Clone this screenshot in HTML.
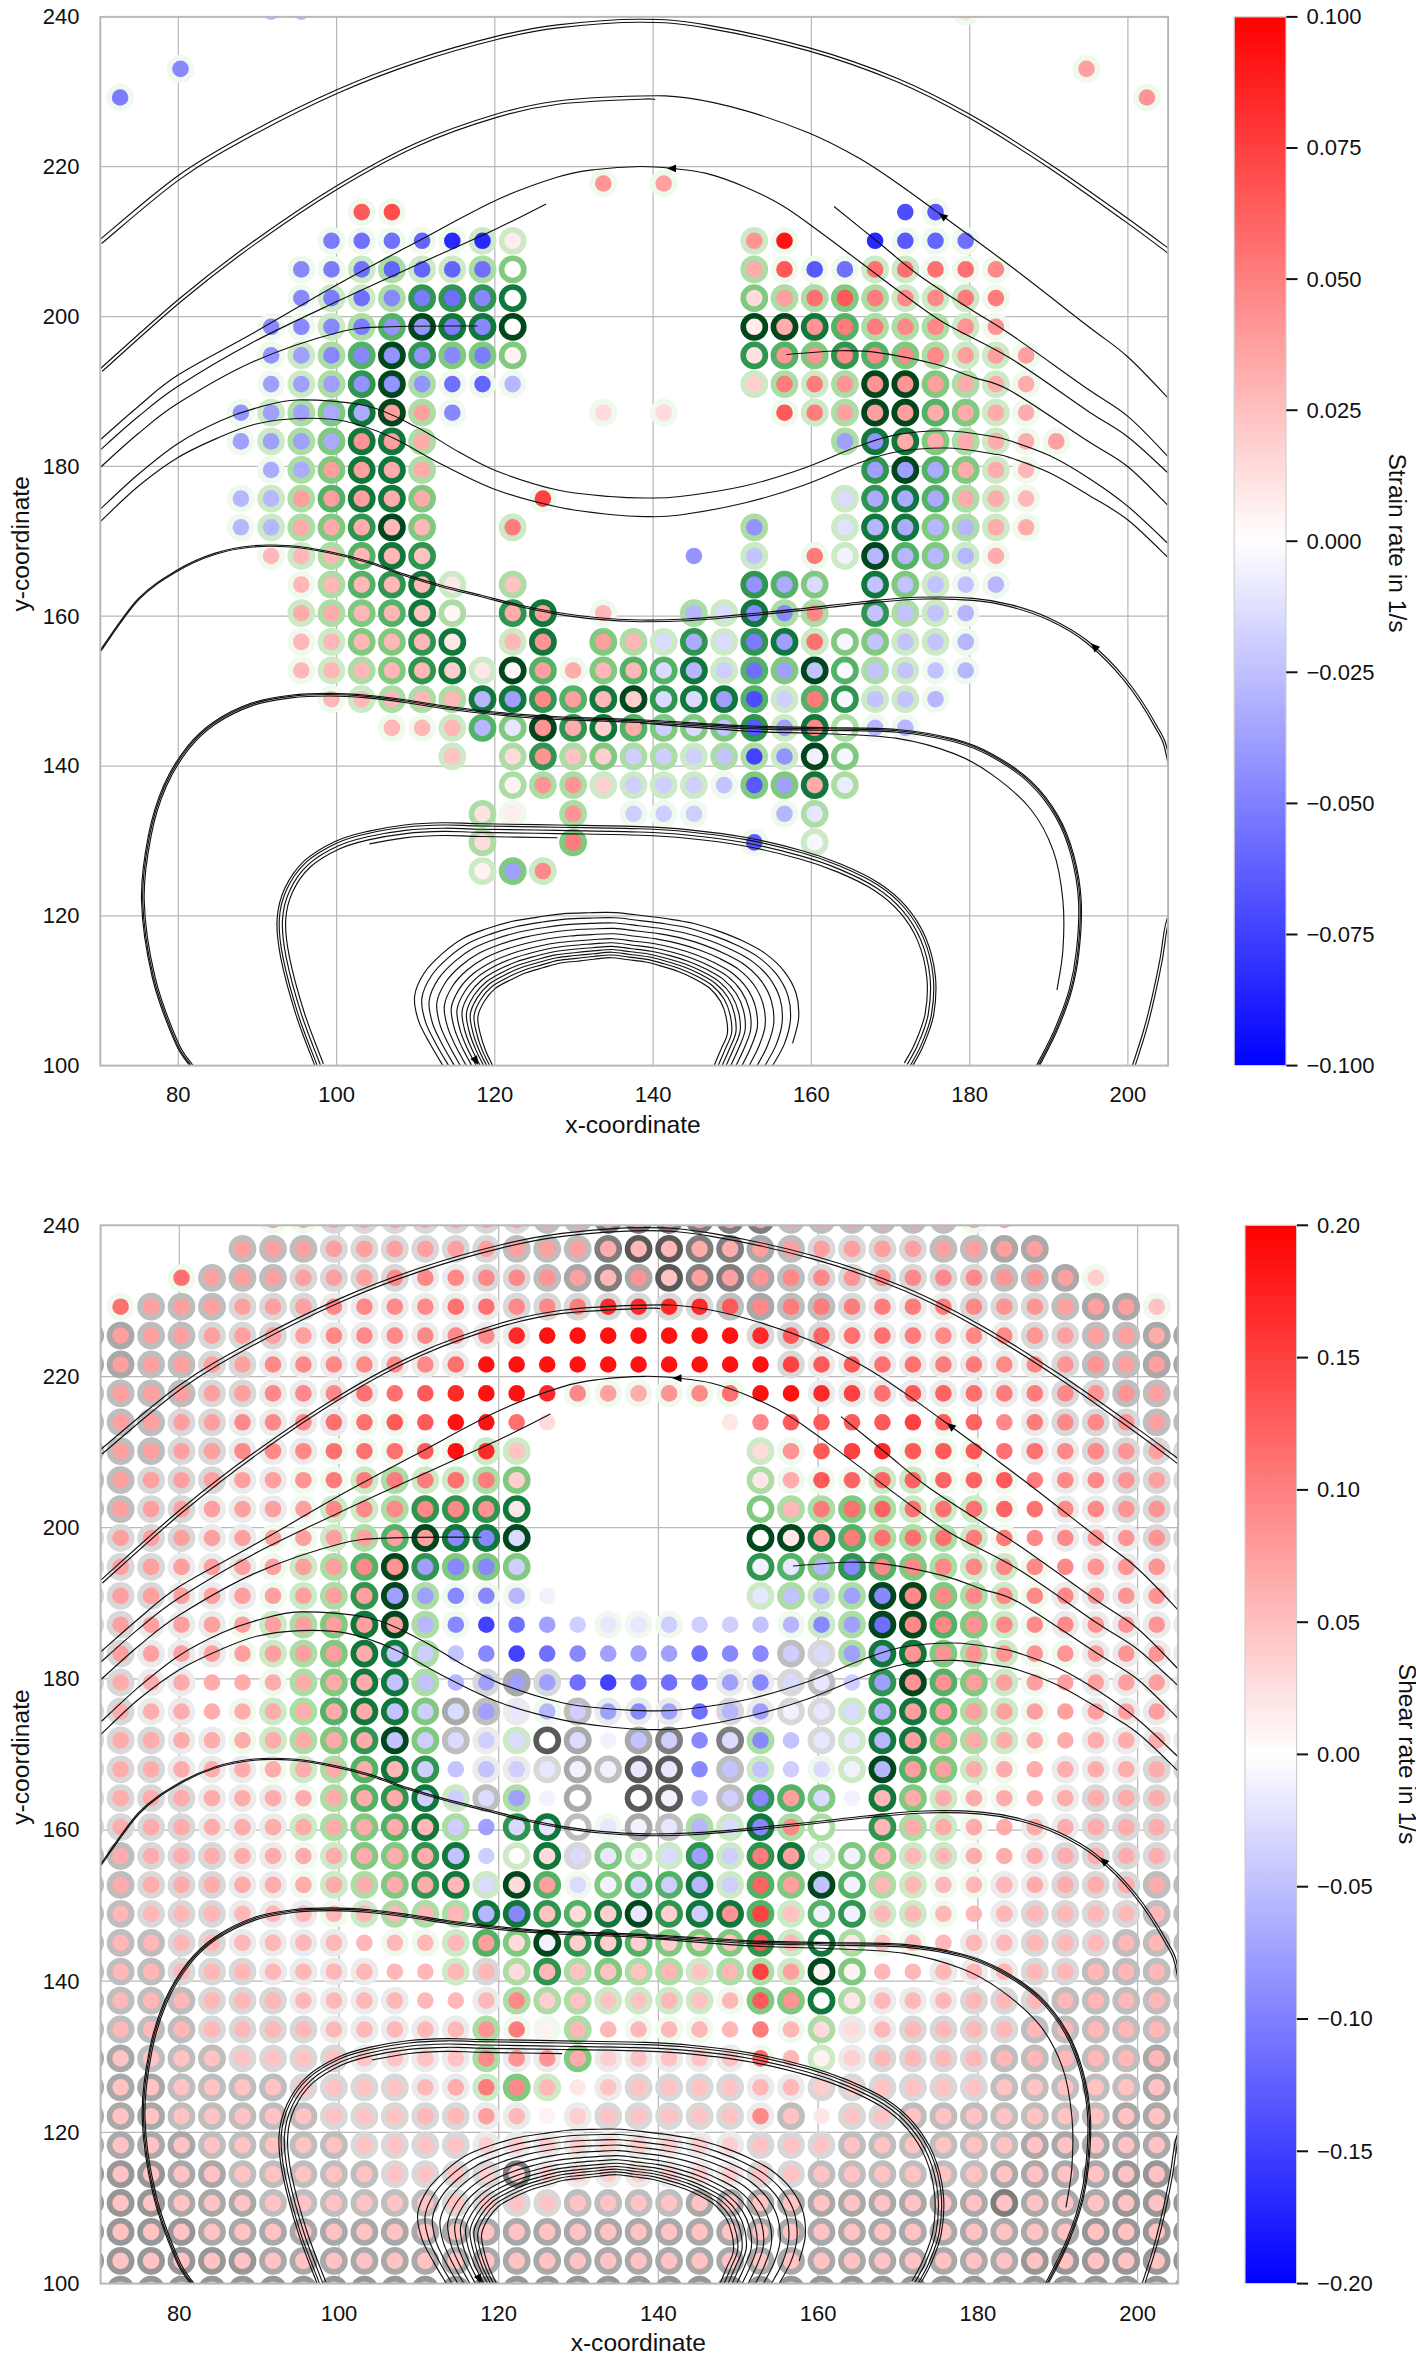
<!DOCTYPE html>
<html><head><meta charset="utf-8"><title>chart</title>
<style>html,body{margin:0;padding:0;background:#fff}body{width:1416px;height:2362px;overflow:hidden}</style></head>
<body>
<svg width="1416" height="2362" viewBox="0 0 1416 2362" style="display:block;font-family:'Liberation Sans',sans-serif">
<defs>
<clipPath id="ct"><rect x="100.3" y="16.9" width="1067.8" height="1048.7"/></clipPath>
<clipPath id="cb"><rect x="100.6" y="1225.3" width="1077.5" height="1058.3"/></clipPath>
<linearGradient id="bwr" x1="0" y1="0" x2="0" y2="1"><stop offset="0" stop-color="#ff0000"/><stop offset="0.5" stop-color="#ffffff"/><stop offset="1" stop-color="#0000ff"/></linearGradient>
</defs>
<rect width="1416" height="2362" fill="#fff"/>
<g stroke="#b9b9b9" stroke-width="1.25">
<line x1="178.3" y1="16.9" x2="178.3" y2="1065.6"/>
<line x1="336.6" y1="16.9" x2="336.6" y2="1065.6"/>
<line x1="494.8" y1="16.9" x2="494.8" y2="1065.6"/>
<line x1="653.1" y1="16.9" x2="653.1" y2="1065.6"/>
<line x1="811.4" y1="16.9" x2="811.4" y2="1065.6"/>
<line x1="969.7" y1="16.9" x2="969.7" y2="1065.6"/>
<line x1="1127.9" y1="16.9" x2="1127.9" y2="1065.6"/>
<line x1="100.3" y1="166.7" x2="1168.1" y2="166.7"/>
<line x1="100.3" y1="316.5" x2="1168.1" y2="316.5"/>
<line x1="100.3" y1="466.3" x2="1168.1" y2="466.3"/>
<line x1="100.3" y1="616.2" x2="1168.1" y2="616.2"/>
<line x1="100.3" y1="766.0" x2="1168.1" y2="766.0"/>
<line x1="100.3" y1="915.8" x2="1168.1" y2="915.8"/>
</g>
<g clip-path="url(#ct)">
<g fill="none" stroke-width="6.2">
<circle cx="965.7" cy="11.6" r="10.8" stroke="#f0f9ee"/>
<circle cx="180.5" cy="68.9" r="10.8" stroke="#f0f9ee"/>
<circle cx="1086.5" cy="68.9" r="10.8" stroke="#f0f9ee"/>
<circle cx="120.1" cy="97.5" r="10.8" stroke="#f0f9ee"/>
<circle cx="1146.9" cy="97.5" r="10.8" stroke="#f0f9ee"/>
<circle cx="603.3" cy="183.5" r="10.8" stroke="#f0f9ee"/>
<circle cx="663.7" cy="183.5" r="10.8" stroke="#f0f9ee"/>
<circle cx="361.7" cy="212.1" r="10.8" stroke="#f0f9ee"/>
<circle cx="391.9" cy="212.1" r="10.8" stroke="#f0f9ee"/>
<circle cx="935.5" cy="212.1" r="10.8" stroke="#f0f9ee"/>
<circle cx="331.5" cy="240.8" r="10.8" stroke="#f0f9ee"/>
<circle cx="361.7" cy="240.8" r="10.8" stroke="#f0f9ee"/>
<circle cx="391.9" cy="240.8" r="10.8" stroke="#f0f9ee"/>
<circle cx="422.1" cy="240.8" r="10.8" stroke="#f0f9ee"/>
<circle cx="452.3" cy="240.8" r="10.8" stroke="#f0f9ee"/>
<circle cx="482.5" cy="240.8" r="10.8" stroke="#cbeac5"/>
<circle cx="512.7" cy="240.8" r="10.8" stroke="#cbeac5"/>
<circle cx="754.3" cy="240.8" r="10.8" stroke="#cbeac5"/>
<circle cx="784.5" cy="240.8" r="10.8" stroke="#f0f9ee"/>
<circle cx="905.3" cy="240.8" r="10.8" stroke="#f0f9ee"/>
<circle cx="935.5" cy="240.8" r="10.8" stroke="#f0f9ee"/>
<circle cx="965.7" cy="240.8" r="10.8" stroke="#f0f9ee"/>
<circle cx="301.3" cy="269.4" r="10.8" stroke="#f0f9ee"/>
<circle cx="331.5" cy="269.4" r="10.8" stroke="#f0f9ee"/>
<circle cx="361.7" cy="269.4" r="10.8" stroke="#cbeac5"/>
<circle cx="391.9" cy="269.4" r="10.8" stroke="#abdda5"/>
<circle cx="422.1" cy="269.4" r="10.8" stroke="#cbeac5"/>
<circle cx="452.3" cy="269.4" r="10.8" stroke="#cbeac5"/>
<circle cx="482.5" cy="269.4" r="10.8" stroke="#abdda5"/>
<circle cx="512.7" cy="269.4" r="10.8" stroke="#80ca80"/>
<circle cx="754.3" cy="269.4" r="10.8" stroke="#abdda5"/>
<circle cx="784.5" cy="269.4" r="10.8" stroke="#f0f9ee"/>
<circle cx="814.7" cy="269.4" r="10.8" stroke="#f0f9ee"/>
<circle cx="844.9" cy="269.4" r="10.8" stroke="#f0f9ee"/>
<circle cx="875.1" cy="269.4" r="10.8" stroke="#cbeac5"/>
<circle cx="905.3" cy="269.4" r="10.8" stroke="#cbeac5"/>
<circle cx="935.5" cy="269.4" r="10.8" stroke="#f0f9ee"/>
<circle cx="965.7" cy="269.4" r="10.8" stroke="#f0f9ee"/>
<circle cx="995.9" cy="269.4" r="10.8" stroke="#f0f9ee"/>
<circle cx="301.3" cy="298.1" r="10.8" stroke="#f0f9ee"/>
<circle cx="331.5" cy="298.1" r="10.8" stroke="#cbeac5"/>
<circle cx="361.7" cy="298.1" r="10.8" stroke="#cbeac5"/>
<circle cx="391.9" cy="298.1" r="10.8" stroke="#abdda5"/>
<circle cx="422.1" cy="298.1" r="10.8" stroke="#2e964e"/>
<circle cx="452.3" cy="298.1" r="10.8" stroke="#2e964e"/>
<circle cx="482.5" cy="298.1" r="10.8" stroke="#2e964e"/>
<circle cx="512.7" cy="298.1" r="10.8" stroke="#10783a"/>
<circle cx="754.3" cy="298.1" r="10.8" stroke="#80ca80"/>
<circle cx="784.5" cy="298.1" r="10.8" stroke="#abdda5"/>
<circle cx="814.7" cy="298.1" r="10.8" stroke="#abdda5"/>
<circle cx="844.9" cy="298.1" r="10.8" stroke="#80ca80"/>
<circle cx="875.1" cy="298.1" r="10.8" stroke="#abdda5"/>
<circle cx="905.3" cy="298.1" r="10.8" stroke="#cbeac5"/>
<circle cx="935.5" cy="298.1" r="10.8" stroke="#cbeac5"/>
<circle cx="965.7" cy="298.1" r="10.8" stroke="#cbeac5"/>
<circle cx="995.9" cy="298.1" r="10.8" stroke="#f0f9ee"/>
<circle cx="271.1" cy="326.8" r="10.8" stroke="#f0f9ee"/>
<circle cx="301.3" cy="326.8" r="10.8" stroke="#f0f9ee"/>
<circle cx="331.5" cy="326.8" r="10.8" stroke="#cbeac5"/>
<circle cx="361.7" cy="326.8" r="10.8" stroke="#abdda5"/>
<circle cx="391.9" cy="326.8" r="10.8" stroke="#52b266"/>
<circle cx="422.1" cy="326.8" r="10.8" stroke="#00471c"/>
<circle cx="452.3" cy="326.8" r="10.8" stroke="#10783a"/>
<circle cx="482.5" cy="326.8" r="10.8" stroke="#10783a"/>
<circle cx="512.7" cy="326.8" r="10.8" stroke="#00471c"/>
<circle cx="754.3" cy="326.8" r="10.8" stroke="#00471c"/>
<circle cx="784.5" cy="326.8" r="10.8" stroke="#00471c"/>
<circle cx="814.7" cy="326.8" r="10.8" stroke="#10783a"/>
<circle cx="844.9" cy="326.8" r="10.8" stroke="#52b266"/>
<circle cx="875.1" cy="326.8" r="10.8" stroke="#abdda5"/>
<circle cx="905.3" cy="326.8" r="10.8" stroke="#abdda5"/>
<circle cx="935.5" cy="326.8" r="10.8" stroke="#abdda5"/>
<circle cx="965.7" cy="326.8" r="10.8" stroke="#cbeac5"/>
<circle cx="995.9" cy="326.8" r="10.8" stroke="#f0f9ee"/>
<circle cx="271.1" cy="355.4" r="10.8" stroke="#f0f9ee"/>
<circle cx="301.3" cy="355.4" r="10.8" stroke="#cbeac5"/>
<circle cx="331.5" cy="355.4" r="10.8" stroke="#abdda5"/>
<circle cx="361.7" cy="355.4" r="10.8" stroke="#52b266"/>
<circle cx="391.9" cy="355.4" r="10.8" stroke="#00471c"/>
<circle cx="422.1" cy="355.4" r="10.8" stroke="#2e964e"/>
<circle cx="452.3" cy="355.4" r="10.8" stroke="#80ca80"/>
<circle cx="482.5" cy="355.4" r="10.8" stroke="#80ca80"/>
<circle cx="512.7" cy="355.4" r="10.8" stroke="#80ca80"/>
<circle cx="754.3" cy="355.4" r="10.8" stroke="#2e964e"/>
<circle cx="784.5" cy="355.4" r="10.8" stroke="#52b266"/>
<circle cx="814.7" cy="355.4" r="10.8" stroke="#80ca80"/>
<circle cx="844.9" cy="355.4" r="10.8" stroke="#2e964e"/>
<circle cx="875.1" cy="355.4" r="10.8" stroke="#52b266"/>
<circle cx="905.3" cy="355.4" r="10.8" stroke="#80ca80"/>
<circle cx="935.5" cy="355.4" r="10.8" stroke="#abdda5"/>
<circle cx="965.7" cy="355.4" r="10.8" stroke="#cbeac5"/>
<circle cx="995.9" cy="355.4" r="10.8" stroke="#cbeac5"/>
<circle cx="1026.1" cy="355.4" r="10.8" stroke="#f0f9ee"/>
<circle cx="271.1" cy="384.1" r="10.8" stroke="#f0f9ee"/>
<circle cx="301.3" cy="384.1" r="10.8" stroke="#cbeac5"/>
<circle cx="331.5" cy="384.1" r="10.8" stroke="#abdda5"/>
<circle cx="361.7" cy="384.1" r="10.8" stroke="#2e964e"/>
<circle cx="391.9" cy="384.1" r="10.8" stroke="#00471c"/>
<circle cx="422.1" cy="384.1" r="10.8" stroke="#abdda5"/>
<circle cx="452.3" cy="384.1" r="10.8" stroke="#f0f9ee"/>
<circle cx="482.5" cy="384.1" r="10.8" stroke="#f0f9ee"/>
<circle cx="512.7" cy="384.1" r="10.8" stroke="#f0f9ee"/>
<circle cx="754.3" cy="384.1" r="10.8" stroke="#cbeac5"/>
<circle cx="784.5" cy="384.1" r="10.8" stroke="#abdda5"/>
<circle cx="814.7" cy="384.1" r="10.8" stroke="#cbeac5"/>
<circle cx="844.9" cy="384.1" r="10.8" stroke="#abdda5"/>
<circle cx="875.1" cy="384.1" r="10.8" stroke="#00471c"/>
<circle cx="905.3" cy="384.1" r="10.8" stroke="#00471c"/>
<circle cx="935.5" cy="384.1" r="10.8" stroke="#80ca80"/>
<circle cx="965.7" cy="384.1" r="10.8" stroke="#abdda5"/>
<circle cx="995.9" cy="384.1" r="10.8" stroke="#cbeac5"/>
<circle cx="1026.1" cy="384.1" r="10.8" stroke="#f0f9ee"/>
<circle cx="240.9" cy="412.7" r="10.8" stroke="#f0f9ee"/>
<circle cx="271.1" cy="412.7" r="10.8" stroke="#cbeac5"/>
<circle cx="301.3" cy="412.7" r="10.8" stroke="#abdda5"/>
<circle cx="331.5" cy="412.7" r="10.8" stroke="#80ca80"/>
<circle cx="361.7" cy="412.7" r="10.8" stroke="#10783a"/>
<circle cx="391.9" cy="412.7" r="10.8" stroke="#00471c"/>
<circle cx="422.1" cy="412.7" r="10.8" stroke="#abdda5"/>
<circle cx="452.3" cy="412.7" r="10.8" stroke="#f0f9ee"/>
<circle cx="603.3" cy="412.7" r="10.8" stroke="#f0f9ee"/>
<circle cx="663.7" cy="412.7" r="10.8" stroke="#f0f9ee"/>
<circle cx="784.5" cy="412.7" r="10.8" stroke="#f0f9ee"/>
<circle cx="814.7" cy="412.7" r="10.8" stroke="#cbeac5"/>
<circle cx="844.9" cy="412.7" r="10.8" stroke="#abdda5"/>
<circle cx="875.1" cy="412.7" r="10.8" stroke="#00471c"/>
<circle cx="905.3" cy="412.7" r="10.8" stroke="#00471c"/>
<circle cx="935.5" cy="412.7" r="10.8" stroke="#52b266"/>
<circle cx="965.7" cy="412.7" r="10.8" stroke="#80ca80"/>
<circle cx="995.9" cy="412.7" r="10.8" stroke="#cbeac5"/>
<circle cx="1026.1" cy="412.7" r="10.8" stroke="#f0f9ee"/>
<circle cx="240.9" cy="441.4" r="10.8" stroke="#f0f9ee"/>
<circle cx="271.1" cy="441.4" r="10.8" stroke="#cbeac5"/>
<circle cx="301.3" cy="441.4" r="10.8" stroke="#abdda5"/>
<circle cx="331.5" cy="441.4" r="10.8" stroke="#80ca80"/>
<circle cx="361.7" cy="441.4" r="10.8" stroke="#10783a"/>
<circle cx="391.9" cy="441.4" r="10.8" stroke="#10783a"/>
<circle cx="422.1" cy="441.4" r="10.8" stroke="#abdda5"/>
<circle cx="844.9" cy="441.4" r="10.8" stroke="#abdda5"/>
<circle cx="875.1" cy="441.4" r="10.8" stroke="#10783a"/>
<circle cx="905.3" cy="441.4" r="10.8" stroke="#10783a"/>
<circle cx="935.5" cy="441.4" r="10.8" stroke="#80ca80"/>
<circle cx="965.7" cy="441.4" r="10.8" stroke="#abdda5"/>
<circle cx="995.9" cy="441.4" r="10.8" stroke="#cbeac5"/>
<circle cx="1026.1" cy="441.4" r="10.8" stroke="#f0f9ee"/>
<circle cx="1056.3" cy="441.4" r="10.8" stroke="#f0f9ee"/>
<circle cx="271.1" cy="470.0" r="10.8" stroke="#f0f9ee"/>
<circle cx="301.3" cy="470.0" r="10.8" stroke="#abdda5"/>
<circle cx="331.5" cy="470.0" r="10.8" stroke="#80ca80"/>
<circle cx="361.7" cy="470.0" r="10.8" stroke="#10783a"/>
<circle cx="391.9" cy="470.0" r="10.8" stroke="#10783a"/>
<circle cx="422.1" cy="470.0" r="10.8" stroke="#abdda5"/>
<circle cx="875.1" cy="470.0" r="10.8" stroke="#2e964e"/>
<circle cx="905.3" cy="470.0" r="10.8" stroke="#00471c"/>
<circle cx="935.5" cy="470.0" r="10.8" stroke="#52b266"/>
<circle cx="965.7" cy="470.0" r="10.8" stroke="#80ca80"/>
<circle cx="995.9" cy="470.0" r="10.8" stroke="#cbeac5"/>
<circle cx="1026.1" cy="470.0" r="10.8" stroke="#f0f9ee"/>
<circle cx="240.9" cy="498.6" r="10.8" stroke="#f0f9ee"/>
<circle cx="271.1" cy="498.6" r="10.8" stroke="#cbeac5"/>
<circle cx="301.3" cy="498.6" r="10.8" stroke="#abdda5"/>
<circle cx="331.5" cy="498.6" r="10.8" stroke="#52b266"/>
<circle cx="361.7" cy="498.6" r="10.8" stroke="#10783a"/>
<circle cx="391.9" cy="498.6" r="10.8" stroke="#10783a"/>
<circle cx="422.1" cy="498.6" r="10.8" stroke="#80ca80"/>
<circle cx="542.9" cy="498.6" r="10.8" stroke="#f0f9ee"/>
<circle cx="844.9" cy="498.6" r="10.8" stroke="#cbeac5"/>
<circle cx="875.1" cy="498.6" r="10.8" stroke="#2e964e"/>
<circle cx="905.3" cy="498.6" r="10.8" stroke="#10783a"/>
<circle cx="935.5" cy="498.6" r="10.8" stroke="#52b266"/>
<circle cx="965.7" cy="498.6" r="10.8" stroke="#abdda5"/>
<circle cx="995.9" cy="498.6" r="10.8" stroke="#cbeac5"/>
<circle cx="1026.1" cy="498.6" r="10.8" stroke="#f0f9ee"/>
<circle cx="240.9" cy="527.3" r="10.8" stroke="#f0f9ee"/>
<circle cx="271.1" cy="527.3" r="10.8" stroke="#cbeac5"/>
<circle cx="301.3" cy="527.3" r="10.8" stroke="#abdda5"/>
<circle cx="331.5" cy="527.3" r="10.8" stroke="#80ca80"/>
<circle cx="361.7" cy="527.3" r="10.8" stroke="#2e964e"/>
<circle cx="391.9" cy="527.3" r="10.8" stroke="#00471c"/>
<circle cx="422.1" cy="527.3" r="10.8" stroke="#80ca80"/>
<circle cx="512.7" cy="527.3" r="10.8" stroke="#cbeac5"/>
<circle cx="754.3" cy="527.3" r="10.8" stroke="#abdda5"/>
<circle cx="844.9" cy="527.3" r="10.8" stroke="#cbeac5"/>
<circle cx="875.1" cy="527.3" r="10.8" stroke="#10783a"/>
<circle cx="905.3" cy="527.3" r="10.8" stroke="#10783a"/>
<circle cx="935.5" cy="527.3" r="10.8" stroke="#80ca80"/>
<circle cx="965.7" cy="527.3" r="10.8" stroke="#abdda5"/>
<circle cx="995.9" cy="527.3" r="10.8" stroke="#cbeac5"/>
<circle cx="1026.1" cy="527.3" r="10.8" stroke="#f0f9ee"/>
<circle cx="271.1" cy="556.0" r="10.8" stroke="#f0f9ee"/>
<circle cx="301.3" cy="556.0" r="10.8" stroke="#cbeac5"/>
<circle cx="331.5" cy="556.0" r="10.8" stroke="#abdda5"/>
<circle cx="361.7" cy="556.0" r="10.8" stroke="#52b266"/>
<circle cx="391.9" cy="556.0" r="10.8" stroke="#10783a"/>
<circle cx="422.1" cy="556.0" r="10.8" stroke="#2e964e"/>
<circle cx="754.3" cy="556.0" r="10.8" stroke="#cbeac5"/>
<circle cx="814.7" cy="556.0" r="10.8" stroke="#f0f9ee"/>
<circle cx="844.9" cy="556.0" r="10.8" stroke="#cbeac5"/>
<circle cx="875.1" cy="556.0" r="10.8" stroke="#00471c"/>
<circle cx="905.3" cy="556.0" r="10.8" stroke="#52b266"/>
<circle cx="935.5" cy="556.0" r="10.8" stroke="#80ca80"/>
<circle cx="965.7" cy="556.0" r="10.8" stroke="#cbeac5"/>
<circle cx="995.9" cy="556.0" r="10.8" stroke="#f0f9ee"/>
<circle cx="301.3" cy="584.6" r="10.8" stroke="#f0f9ee"/>
<circle cx="331.5" cy="584.6" r="10.8" stroke="#abdda5"/>
<circle cx="361.7" cy="584.6" r="10.8" stroke="#52b266"/>
<circle cx="391.9" cy="584.6" r="10.8" stroke="#2e964e"/>
<circle cx="422.1" cy="584.6" r="10.8" stroke="#10783a"/>
<circle cx="452.3" cy="584.6" r="10.8" stroke="#cbeac5"/>
<circle cx="512.7" cy="584.6" r="10.8" stroke="#abdda5"/>
<circle cx="754.3" cy="584.6" r="10.8" stroke="#2e964e"/>
<circle cx="784.5" cy="584.6" r="10.8" stroke="#52b266"/>
<circle cx="814.7" cy="584.6" r="10.8" stroke="#80ca80"/>
<circle cx="875.1" cy="584.6" r="10.8" stroke="#10783a"/>
<circle cx="905.3" cy="584.6" r="10.8" stroke="#80ca80"/>
<circle cx="935.5" cy="584.6" r="10.8" stroke="#cbeac5"/>
<circle cx="965.7" cy="584.6" r="10.8" stroke="#f0f9ee"/>
<circle cx="995.9" cy="584.6" r="10.8" stroke="#f0f9ee"/>
<circle cx="301.3" cy="613.2" r="10.8" stroke="#cbeac5"/>
<circle cx="331.5" cy="613.2" r="10.8" stroke="#abdda5"/>
<circle cx="361.7" cy="613.2" r="10.8" stroke="#80ca80"/>
<circle cx="391.9" cy="613.2" r="10.8" stroke="#52b266"/>
<circle cx="422.1" cy="613.2" r="10.8" stroke="#10783a"/>
<circle cx="452.3" cy="613.2" r="10.8" stroke="#abdda5"/>
<circle cx="512.7" cy="613.2" r="10.8" stroke="#2e964e"/>
<circle cx="542.9" cy="613.2" r="10.8" stroke="#10783a"/>
<circle cx="603.3" cy="613.2" r="10.8" stroke="#f0f9ee"/>
<circle cx="693.9" cy="613.2" r="10.8" stroke="#abdda5"/>
<circle cx="724.1" cy="613.2" r="10.8" stroke="#cbeac5"/>
<circle cx="754.3" cy="613.2" r="10.8" stroke="#10783a"/>
<circle cx="784.5" cy="613.2" r="10.8" stroke="#abdda5"/>
<circle cx="814.7" cy="613.2" r="10.8" stroke="#abdda5"/>
<circle cx="875.1" cy="613.2" r="10.8" stroke="#2e964e"/>
<circle cx="905.3" cy="613.2" r="10.8" stroke="#abdda5"/>
<circle cx="935.5" cy="613.2" r="10.8" stroke="#cbeac5"/>
<circle cx="965.7" cy="613.2" r="10.8" stroke="#f0f9ee"/>
<circle cx="301.3" cy="641.9" r="10.8" stroke="#f0f9ee"/>
<circle cx="331.5" cy="641.9" r="10.8" stroke="#cbeac5"/>
<circle cx="361.7" cy="641.9" r="10.8" stroke="#80ca80"/>
<circle cx="391.9" cy="641.9" r="10.8" stroke="#80ca80"/>
<circle cx="422.1" cy="641.9" r="10.8" stroke="#2e964e"/>
<circle cx="452.3" cy="641.9" r="10.8" stroke="#10783a"/>
<circle cx="512.7" cy="641.9" r="10.8" stroke="#cbeac5"/>
<circle cx="542.9" cy="641.9" r="10.8" stroke="#10783a"/>
<circle cx="603.3" cy="641.9" r="10.8" stroke="#80ca80"/>
<circle cx="633.5" cy="641.9" r="10.8" stroke="#abdda5"/>
<circle cx="663.7" cy="641.9" r="10.8" stroke="#cbeac5"/>
<circle cx="693.9" cy="641.9" r="10.8" stroke="#2e964e"/>
<circle cx="724.1" cy="641.9" r="10.8" stroke="#cbeac5"/>
<circle cx="754.3" cy="641.9" r="10.8" stroke="#2e964e"/>
<circle cx="784.5" cy="641.9" r="10.8" stroke="#10783a"/>
<circle cx="814.7" cy="641.9" r="10.8" stroke="#cbeac5"/>
<circle cx="844.9" cy="641.9" r="10.8" stroke="#80ca80"/>
<circle cx="875.1" cy="641.9" r="10.8" stroke="#80ca80"/>
<circle cx="905.3" cy="641.9" r="10.8" stroke="#cbeac5"/>
<circle cx="935.5" cy="641.9" r="10.8" stroke="#cbeac5"/>
<circle cx="965.7" cy="641.9" r="10.8" stroke="#f0f9ee"/>
<circle cx="301.3" cy="670.5" r="10.8" stroke="#f0f9ee"/>
<circle cx="331.5" cy="670.5" r="10.8" stroke="#cbeac5"/>
<circle cx="361.7" cy="670.5" r="10.8" stroke="#abdda5"/>
<circle cx="391.9" cy="670.5" r="10.8" stroke="#80ca80"/>
<circle cx="422.1" cy="670.5" r="10.8" stroke="#2e964e"/>
<circle cx="452.3" cy="670.5" r="10.8" stroke="#10783a"/>
<circle cx="482.5" cy="670.5" r="10.8" stroke="#cbeac5"/>
<circle cx="512.7" cy="670.5" r="10.8" stroke="#00471c"/>
<circle cx="542.9" cy="670.5" r="10.8" stroke="#52b266"/>
<circle cx="573.1" cy="670.5" r="10.8" stroke="#f0f9ee"/>
<circle cx="603.3" cy="670.5" r="10.8" stroke="#80ca80"/>
<circle cx="633.5" cy="670.5" r="10.8" stroke="#52b266"/>
<circle cx="663.7" cy="670.5" r="10.8" stroke="#52b266"/>
<circle cx="693.9" cy="670.5" r="10.8" stroke="#10783a"/>
<circle cx="724.1" cy="670.5" r="10.8" stroke="#cbeac5"/>
<circle cx="754.3" cy="670.5" r="10.8" stroke="#52b266"/>
<circle cx="784.5" cy="670.5" r="10.8" stroke="#80ca80"/>
<circle cx="814.7" cy="670.5" r="10.8" stroke="#00471c"/>
<circle cx="844.9" cy="670.5" r="10.8" stroke="#52b266"/>
<circle cx="875.1" cy="670.5" r="10.8" stroke="#abdda5"/>
<circle cx="905.3" cy="670.5" r="10.8" stroke="#cbeac5"/>
<circle cx="935.5" cy="670.5" r="10.8" stroke="#f0f9ee"/>
<circle cx="965.7" cy="670.5" r="10.8" stroke="#f0f9ee"/>
<circle cx="331.5" cy="699.2" r="10.8" stroke="#f0f9ee"/>
<circle cx="361.7" cy="699.2" r="10.8" stroke="#cbeac5"/>
<circle cx="391.9" cy="699.2" r="10.8" stroke="#abdda5"/>
<circle cx="422.1" cy="699.2" r="10.8" stroke="#abdda5"/>
<circle cx="452.3" cy="699.2" r="10.8" stroke="#abdda5"/>
<circle cx="482.5" cy="699.2" r="10.8" stroke="#10783a"/>
<circle cx="512.7" cy="699.2" r="10.8" stroke="#10783a"/>
<circle cx="542.9" cy="699.2" r="10.8" stroke="#2e964e"/>
<circle cx="573.1" cy="699.2" r="10.8" stroke="#52b266"/>
<circle cx="603.3" cy="699.2" r="10.8" stroke="#10783a"/>
<circle cx="633.5" cy="699.2" r="10.8" stroke="#00471c"/>
<circle cx="663.7" cy="699.2" r="10.8" stroke="#2e964e"/>
<circle cx="693.9" cy="699.2" r="10.8" stroke="#10783a"/>
<circle cx="724.1" cy="699.2" r="10.8" stroke="#10783a"/>
<circle cx="754.3" cy="699.2" r="10.8" stroke="#52b266"/>
<circle cx="784.5" cy="699.2" r="10.8" stroke="#cbeac5"/>
<circle cx="814.7" cy="699.2" r="10.8" stroke="#52b266"/>
<circle cx="844.9" cy="699.2" r="10.8" stroke="#2e964e"/>
<circle cx="875.1" cy="699.2" r="10.8" stroke="#cbeac5"/>
<circle cx="905.3" cy="699.2" r="10.8" stroke="#cbeac5"/>
<circle cx="935.5" cy="699.2" r="10.8" stroke="#f0f9ee"/>
<circle cx="391.9" cy="727.9" r="10.8" stroke="#f0f9ee"/>
<circle cx="422.1" cy="727.9" r="10.8" stroke="#f0f9ee"/>
<circle cx="452.3" cy="727.9" r="10.8" stroke="#cbeac5"/>
<circle cx="482.5" cy="727.9" r="10.8" stroke="#52b266"/>
<circle cx="512.7" cy="727.9" r="10.8" stroke="#80ca80"/>
<circle cx="542.9" cy="727.9" r="10.8" stroke="#00471c"/>
<circle cx="573.1" cy="727.9" r="10.8" stroke="#2e964e"/>
<circle cx="603.3" cy="727.9" r="10.8" stroke="#10783a"/>
<circle cx="633.5" cy="727.9" r="10.8" stroke="#52b266"/>
<circle cx="663.7" cy="727.9" r="10.8" stroke="#80ca80"/>
<circle cx="693.9" cy="727.9" r="10.8" stroke="#80ca80"/>
<circle cx="724.1" cy="727.9" r="10.8" stroke="#80ca80"/>
<circle cx="754.3" cy="727.9" r="10.8" stroke="#2e964e"/>
<circle cx="784.5" cy="727.9" r="10.8" stroke="#cbeac5"/>
<circle cx="814.7" cy="727.9" r="10.8" stroke="#10783a"/>
<circle cx="844.9" cy="727.9" r="10.8" stroke="#abdda5"/>
<circle cx="875.1" cy="727.9" r="10.8" stroke="#f0f9ee"/>
<circle cx="905.3" cy="727.9" r="10.8" stroke="#f0f9ee"/>
<circle cx="452.3" cy="756.5" r="10.8" stroke="#cbeac5"/>
<circle cx="512.7" cy="756.5" r="10.8" stroke="#abdda5"/>
<circle cx="542.9" cy="756.5" r="10.8" stroke="#2e964e"/>
<circle cx="573.1" cy="756.5" r="10.8" stroke="#abdda5"/>
<circle cx="603.3" cy="756.5" r="10.8" stroke="#80ca80"/>
<circle cx="633.5" cy="756.5" r="10.8" stroke="#abdda5"/>
<circle cx="663.7" cy="756.5" r="10.8" stroke="#abdda5"/>
<circle cx="693.9" cy="756.5" r="10.8" stroke="#cbeac5"/>
<circle cx="724.1" cy="756.5" r="10.8" stroke="#abdda5"/>
<circle cx="754.3" cy="756.5" r="10.8" stroke="#abdda5"/>
<circle cx="784.5" cy="756.5" r="10.8" stroke="#cbeac5"/>
<circle cx="814.7" cy="756.5" r="10.8" stroke="#00471c"/>
<circle cx="844.9" cy="756.5" r="10.8" stroke="#80ca80"/>
<circle cx="512.7" cy="785.1" r="10.8" stroke="#abdda5"/>
<circle cx="542.9" cy="785.1" r="10.8" stroke="#abdda5"/>
<circle cx="573.1" cy="785.1" r="10.8" stroke="#abdda5"/>
<circle cx="603.3" cy="785.1" r="10.8" stroke="#cbeac5"/>
<circle cx="633.5" cy="785.1" r="10.8" stroke="#cbeac5"/>
<circle cx="663.7" cy="785.1" r="10.8" stroke="#cbeac5"/>
<circle cx="693.9" cy="785.1" r="10.8" stroke="#cbeac5"/>
<circle cx="724.1" cy="785.1" r="10.8" stroke="#f0f9ee"/>
<circle cx="754.3" cy="785.1" r="10.8" stroke="#80ca80"/>
<circle cx="784.5" cy="785.1" r="10.8" stroke="#80ca80"/>
<circle cx="814.7" cy="785.1" r="10.8" stroke="#10783a"/>
<circle cx="844.9" cy="785.1" r="10.8" stroke="#abdda5"/>
<circle cx="482.5" cy="813.8" r="10.8" stroke="#abdda5"/>
<circle cx="512.7" cy="813.8" r="10.8" stroke="#f0f9ee"/>
<circle cx="573.1" cy="813.8" r="10.8" stroke="#abdda5"/>
<circle cx="633.5" cy="813.8" r="10.8" stroke="#f0f9ee"/>
<circle cx="663.7" cy="813.8" r="10.8" stroke="#f0f9ee"/>
<circle cx="693.9" cy="813.8" r="10.8" stroke="#f0f9ee"/>
<circle cx="784.5" cy="813.8" r="10.8" stroke="#f0f9ee"/>
<circle cx="814.7" cy="813.8" r="10.8" stroke="#abdda5"/>
<circle cx="482.5" cy="842.4" r="10.8" stroke="#abdda5"/>
<circle cx="573.1" cy="842.4" r="10.8" stroke="#80ca80"/>
<circle cx="754.3" cy="842.4" r="10.8" stroke="#f0f9ee"/>
<circle cx="814.7" cy="842.4" r="10.8" stroke="#cbeac5"/>
<circle cx="482.5" cy="871.1" r="10.8" stroke="#cbeac5"/>
<circle cx="512.7" cy="871.1" r="10.8" stroke="#80ca80"/>
<circle cx="542.9" cy="871.1" r="10.8" stroke="#cbeac5"/>
</g><g opacity="0.93">
<circle cx="271.1" cy="11.6" r="8.3" fill="#b2b2ff"/>
<circle cx="301.3" cy="11.6" r="8.3" fill="#b2b2ff"/>
<circle cx="965.7" cy="11.6" r="8.3" fill="#ffd9d9"/>
<circle cx="180.5" cy="68.9" r="8.3" fill="#8080ff"/>
<circle cx="1086.5" cy="68.9" r="8.3" fill="#ff9999"/>
<circle cx="120.1" cy="97.5" r="8.3" fill="#7373ff"/>
<circle cx="1146.9" cy="97.5" r="8.3" fill="#ff8c8c"/>
<circle cx="603.3" cy="183.5" r="8.3" fill="#ff8c8c"/>
<circle cx="663.7" cy="183.5" r="8.3" fill="#ff9999"/>
<circle cx="361.7" cy="212.1" r="8.3" fill="#ff4d4d"/>
<circle cx="391.9" cy="212.1" r="8.3" fill="#ff4040"/>
<circle cx="905.3" cy="212.1" r="8.3" fill="#4040ff"/>
<circle cx="935.5" cy="212.1" r="8.3" fill="#4d4dff"/>
<circle cx="331.5" cy="240.8" r="8.3" fill="#7373ff"/>
<circle cx="361.7" cy="240.8" r="8.3" fill="#6666ff"/>
<circle cx="391.9" cy="240.8" r="8.3" fill="#6666ff"/>
<circle cx="422.1" cy="240.8" r="8.3" fill="#5959ff"/>
<circle cx="452.3" cy="240.8" r="8.3" fill="#1919ff"/>
<circle cx="482.5" cy="240.8" r="8.3" fill="#1919ff"/>
<circle cx="512.7" cy="240.8" r="8.3" fill="#ffebeb"/>
<circle cx="754.3" cy="240.8" r="8.3" fill="#ff8c8c"/>
<circle cx="784.5" cy="240.8" r="8.3" fill="#ff0000"/>
<circle cx="875.1" cy="240.8" r="8.3" fill="#1919ff"/>
<circle cx="905.3" cy="240.8" r="8.3" fill="#4d4dff"/>
<circle cx="935.5" cy="240.8" r="8.3" fill="#5959ff"/>
<circle cx="965.7" cy="240.8" r="8.3" fill="#6666ff"/>
<circle cx="301.3" cy="269.4" r="8.3" fill="#8080ff"/>
<circle cx="331.5" cy="269.4" r="8.3" fill="#7373ff"/>
<circle cx="361.7" cy="269.4" r="8.3" fill="#6666ff"/>
<circle cx="391.9" cy="269.4" r="8.3" fill="#5959ff"/>
<circle cx="422.1" cy="269.4" r="8.3" fill="#5959ff"/>
<circle cx="452.3" cy="269.4" r="8.3" fill="#5959ff"/>
<circle cx="482.5" cy="269.4" r="8.3" fill="#6666ff"/>
<circle cx="512.7" cy="269.4" r="8.3" fill="#ffffff"/>
<circle cx="754.3" cy="269.4" r="8.3" fill="#ffa6a6"/>
<circle cx="784.5" cy="269.4" r="8.3" fill="#ff4d4d"/>
<circle cx="814.7" cy="269.4" r="8.3" fill="#4d4dff"/>
<circle cx="844.9" cy="269.4" r="8.3" fill="#6666ff"/>
<circle cx="875.1" cy="269.4" r="8.3" fill="#ff6666"/>
<circle cx="905.3" cy="269.4" r="8.3" fill="#ff6666"/>
<circle cx="935.5" cy="269.4" r="8.3" fill="#ff6666"/>
<circle cx="965.7" cy="269.4" r="8.3" fill="#ff6666"/>
<circle cx="995.9" cy="269.4" r="8.3" fill="#ff8080"/>
<circle cx="301.3" cy="298.1" r="8.3" fill="#8080ff"/>
<circle cx="331.5" cy="298.1" r="8.3" fill="#7373ff"/>
<circle cx="361.7" cy="298.1" r="8.3" fill="#6666ff"/>
<circle cx="391.9" cy="298.1" r="8.3" fill="#8080ff"/>
<circle cx="422.1" cy="298.1" r="8.3" fill="#7373ff"/>
<circle cx="452.3" cy="298.1" r="8.3" fill="#6666ff"/>
<circle cx="482.5" cy="298.1" r="8.3" fill="#8080ff"/>
<circle cx="512.7" cy="298.1" r="8.3" fill="#ffffff"/>
<circle cx="754.3" cy="298.1" r="8.3" fill="#ffd9d9"/>
<circle cx="784.5" cy="298.1" r="8.3" fill="#ff9999"/>
<circle cx="814.7" cy="298.1" r="8.3" fill="#ff6666"/>
<circle cx="844.9" cy="298.1" r="8.3" fill="#ff4d4d"/>
<circle cx="875.1" cy="298.1" r="8.3" fill="#ff7373"/>
<circle cx="905.3" cy="298.1" r="8.3" fill="#ff8080"/>
<circle cx="935.5" cy="298.1" r="8.3" fill="#ff8080"/>
<circle cx="965.7" cy="298.1" r="8.3" fill="#ff7373"/>
<circle cx="995.9" cy="298.1" r="8.3" fill="#ff7373"/>
<circle cx="271.1" cy="326.8" r="8.3" fill="#8080ff"/>
<circle cx="301.3" cy="326.8" r="8.3" fill="#8080ff"/>
<circle cx="331.5" cy="326.8" r="8.3" fill="#8080ff"/>
<circle cx="361.7" cy="326.8" r="8.3" fill="#7373ff"/>
<circle cx="391.9" cy="326.8" r="8.3" fill="#8c8cff"/>
<circle cx="422.1" cy="326.8" r="8.3" fill="#8c8cff"/>
<circle cx="452.3" cy="326.8" r="8.3" fill="#7373ff"/>
<circle cx="482.5" cy="326.8" r="8.3" fill="#8080ff"/>
<circle cx="512.7" cy="326.8" r="8.3" fill="#ffffff"/>
<circle cx="754.3" cy="326.8" r="8.3" fill="#ffebeb"/>
<circle cx="784.5" cy="326.8" r="8.3" fill="#ffa6a6"/>
<circle cx="814.7" cy="326.8" r="8.3" fill="#ff8c8c"/>
<circle cx="844.9" cy="326.8" r="8.3" fill="#ff7373"/>
<circle cx="875.1" cy="326.8" r="8.3" fill="#ff7373"/>
<circle cx="905.3" cy="326.8" r="8.3" fill="#ff8080"/>
<circle cx="935.5" cy="326.8" r="8.3" fill="#ff8080"/>
<circle cx="965.7" cy="326.8" r="8.3" fill="#ff8c8c"/>
<circle cx="995.9" cy="326.8" r="8.3" fill="#ff8c8c"/>
<circle cx="271.1" cy="355.4" r="8.3" fill="#8c8cff"/>
<circle cx="301.3" cy="355.4" r="8.3" fill="#9999ff"/>
<circle cx="331.5" cy="355.4" r="8.3" fill="#8080ff"/>
<circle cx="361.7" cy="355.4" r="8.3" fill="#8080ff"/>
<circle cx="391.9" cy="355.4" r="8.3" fill="#8c8cff"/>
<circle cx="422.1" cy="355.4" r="8.3" fill="#8c8cff"/>
<circle cx="452.3" cy="355.4" r="8.3" fill="#8080ff"/>
<circle cx="482.5" cy="355.4" r="8.3" fill="#7373ff"/>
<circle cx="512.7" cy="355.4" r="8.3" fill="#fff2f2"/>
<circle cx="754.3" cy="355.4" r="8.3" fill="#ffe0e0"/>
<circle cx="784.5" cy="355.4" r="8.3" fill="#ff8c8c"/>
<circle cx="814.7" cy="355.4" r="8.3" fill="#ff8c8c"/>
<circle cx="844.9" cy="355.4" r="8.3" fill="#ff8080"/>
<circle cx="875.1" cy="355.4" r="8.3" fill="#ff8080"/>
<circle cx="905.3" cy="355.4" r="8.3" fill="#ff8080"/>
<circle cx="935.5" cy="355.4" r="8.3" fill="#ff8080"/>
<circle cx="965.7" cy="355.4" r="8.3" fill="#ff9999"/>
<circle cx="995.9" cy="355.4" r="8.3" fill="#ff9999"/>
<circle cx="1026.1" cy="355.4" r="8.3" fill="#ff9999"/>
<circle cx="271.1" cy="384.1" r="8.3" fill="#9999ff"/>
<circle cx="301.3" cy="384.1" r="8.3" fill="#9999ff"/>
<circle cx="331.5" cy="384.1" r="8.3" fill="#9999ff"/>
<circle cx="361.7" cy="384.1" r="8.3" fill="#8c8cff"/>
<circle cx="391.9" cy="384.1" r="8.3" fill="#8c8cff"/>
<circle cx="422.1" cy="384.1" r="8.3" fill="#8c8cff"/>
<circle cx="452.3" cy="384.1" r="8.3" fill="#6666ff"/>
<circle cx="482.5" cy="384.1" r="8.3" fill="#5959ff"/>
<circle cx="512.7" cy="384.1" r="8.3" fill="#b2b2ff"/>
<circle cx="754.3" cy="384.1" r="8.3" fill="#ffcccc"/>
<circle cx="784.5" cy="384.1" r="8.3" fill="#ff7373"/>
<circle cx="814.7" cy="384.1" r="8.3" fill="#ff7373"/>
<circle cx="844.9" cy="384.1" r="8.3" fill="#ff8c8c"/>
<circle cx="875.1" cy="384.1" r="8.3" fill="#ff8c8c"/>
<circle cx="905.3" cy="384.1" r="8.3" fill="#ff8c8c"/>
<circle cx="935.5" cy="384.1" r="8.3" fill="#ff9999"/>
<circle cx="965.7" cy="384.1" r="8.3" fill="#ffa6a6"/>
<circle cx="995.9" cy="384.1" r="8.3" fill="#ffa6a6"/>
<circle cx="1026.1" cy="384.1" r="8.3" fill="#ffa6a6"/>
<circle cx="240.9" cy="412.7" r="8.3" fill="#8c8cff"/>
<circle cx="271.1" cy="412.7" r="8.3" fill="#9999ff"/>
<circle cx="301.3" cy="412.7" r="8.3" fill="#9999ff"/>
<circle cx="331.5" cy="412.7" r="8.3" fill="#a6a6ff"/>
<circle cx="361.7" cy="412.7" r="8.3" fill="#a6a6ff"/>
<circle cx="391.9" cy="412.7" r="8.3" fill="#ff9999"/>
<circle cx="422.1" cy="412.7" r="8.3" fill="#ff9999"/>
<circle cx="452.3" cy="412.7" r="8.3" fill="#8080ff"/>
<circle cx="603.3" cy="412.7" r="8.3" fill="#ffd9d9"/>
<circle cx="663.7" cy="412.7" r="8.3" fill="#ffd9d9"/>
<circle cx="784.5" cy="412.7" r="8.3" fill="#ff4d4d"/>
<circle cx="814.7" cy="412.7" r="8.3" fill="#ff7373"/>
<circle cx="844.9" cy="412.7" r="8.3" fill="#ff9999"/>
<circle cx="875.1" cy="412.7" r="8.3" fill="#ff9999"/>
<circle cx="905.3" cy="412.7" r="8.3" fill="#ff9999"/>
<circle cx="935.5" cy="412.7" r="8.3" fill="#ffa6a6"/>
<circle cx="965.7" cy="412.7" r="8.3" fill="#ffa6a6"/>
<circle cx="995.9" cy="412.7" r="8.3" fill="#ffa6a6"/>
<circle cx="1026.1" cy="412.7" r="8.3" fill="#ffa6a6"/>
<circle cx="240.9" cy="441.4" r="8.3" fill="#9999ff"/>
<circle cx="271.1" cy="441.4" r="8.3" fill="#9999ff"/>
<circle cx="301.3" cy="441.4" r="8.3" fill="#9999ff"/>
<circle cx="331.5" cy="441.4" r="8.3" fill="#a6a6ff"/>
<circle cx="361.7" cy="441.4" r="8.3" fill="#ff8c8c"/>
<circle cx="391.9" cy="441.4" r="8.3" fill="#ff9999"/>
<circle cx="422.1" cy="441.4" r="8.3" fill="#ffa6a6"/>
<circle cx="844.9" cy="441.4" r="8.3" fill="#9999ff"/>
<circle cx="875.1" cy="441.4" r="8.3" fill="#8c8cff"/>
<circle cx="905.3" cy="441.4" r="8.3" fill="#ffa6a6"/>
<circle cx="935.5" cy="441.4" r="8.3" fill="#ffa6a6"/>
<circle cx="965.7" cy="441.4" r="8.3" fill="#ffa6a6"/>
<circle cx="995.9" cy="441.4" r="8.3" fill="#ffa6a6"/>
<circle cx="1026.1" cy="441.4" r="8.3" fill="#ffa6a6"/>
<circle cx="1056.3" cy="441.4" r="8.3" fill="#ff9999"/>
<circle cx="271.1" cy="470.0" r="8.3" fill="#a6a6ff"/>
<circle cx="301.3" cy="470.0" r="8.3" fill="#a6a6ff"/>
<circle cx="331.5" cy="470.0" r="8.3" fill="#ff9999"/>
<circle cx="361.7" cy="470.0" r="8.3" fill="#ff9999"/>
<circle cx="391.9" cy="470.0" r="8.3" fill="#ffa6a6"/>
<circle cx="422.1" cy="470.0" r="8.3" fill="#ffa6a6"/>
<circle cx="875.1" cy="470.0" r="8.3" fill="#9999ff"/>
<circle cx="905.3" cy="470.0" r="8.3" fill="#9999ff"/>
<circle cx="935.5" cy="470.0" r="8.3" fill="#a6a6ff"/>
<circle cx="965.7" cy="470.0" r="8.3" fill="#ffa6a6"/>
<circle cx="995.9" cy="470.0" r="8.3" fill="#ffa6a6"/>
<circle cx="1026.1" cy="470.0" r="8.3" fill="#ffb2b2"/>
<circle cx="240.9" cy="498.6" r="8.3" fill="#b2b2ff"/>
<circle cx="271.1" cy="498.6" r="8.3" fill="#b2b2ff"/>
<circle cx="301.3" cy="498.6" r="8.3" fill="#ff9999"/>
<circle cx="331.5" cy="498.6" r="8.3" fill="#ff9999"/>
<circle cx="361.7" cy="498.6" r="8.3" fill="#ff9999"/>
<circle cx="391.9" cy="498.6" r="8.3" fill="#ffa6a6"/>
<circle cx="422.1" cy="498.6" r="8.3" fill="#ffa6a6"/>
<circle cx="542.9" cy="498.6" r="8.3" fill="#ff3333"/>
<circle cx="844.9" cy="498.6" r="8.3" fill="#d9d9ff"/>
<circle cx="875.1" cy="498.6" r="8.3" fill="#a6a6ff"/>
<circle cx="905.3" cy="498.6" r="8.3" fill="#a6a6ff"/>
<circle cx="935.5" cy="498.6" r="8.3" fill="#a6a6ff"/>
<circle cx="965.7" cy="498.6" r="8.3" fill="#ffa6a6"/>
<circle cx="995.9" cy="498.6" r="8.3" fill="#ffa6a6"/>
<circle cx="1026.1" cy="498.6" r="8.3" fill="#ffb2b2"/>
<circle cx="240.9" cy="527.3" r="8.3" fill="#b2b2ff"/>
<circle cx="271.1" cy="527.3" r="8.3" fill="#b2b2ff"/>
<circle cx="301.3" cy="527.3" r="8.3" fill="#ffa6a6"/>
<circle cx="331.5" cy="527.3" r="8.3" fill="#ffa6a6"/>
<circle cx="361.7" cy="527.3" r="8.3" fill="#ffa6a6"/>
<circle cx="391.9" cy="527.3" r="8.3" fill="#ffb2b2"/>
<circle cx="422.1" cy="527.3" r="8.3" fill="#ffb2b2"/>
<circle cx="512.7" cy="527.3" r="8.3" fill="#ff7373"/>
<circle cx="754.3" cy="527.3" r="8.3" fill="#8c8cff"/>
<circle cx="844.9" cy="527.3" r="8.3" fill="#e0e0ff"/>
<circle cx="875.1" cy="527.3" r="8.3" fill="#b2b2ff"/>
<circle cx="905.3" cy="527.3" r="8.3" fill="#a6a6ff"/>
<circle cx="935.5" cy="527.3" r="8.3" fill="#b2b2ff"/>
<circle cx="965.7" cy="527.3" r="8.3" fill="#b2b2ff"/>
<circle cx="995.9" cy="527.3" r="8.3" fill="#ffa6a6"/>
<circle cx="1026.1" cy="527.3" r="8.3" fill="#ffa6a6"/>
<circle cx="271.1" cy="556.0" r="8.3" fill="#ffb2b2"/>
<circle cx="301.3" cy="556.0" r="8.3" fill="#ffb2b2"/>
<circle cx="331.5" cy="556.0" r="8.3" fill="#ffb2b2"/>
<circle cx="361.7" cy="556.0" r="8.3" fill="#ffb2b2"/>
<circle cx="391.9" cy="556.0" r="8.3" fill="#ffb2b2"/>
<circle cx="422.1" cy="556.0" r="8.3" fill="#ffbfbf"/>
<circle cx="693.9" cy="556.0" r="8.3" fill="#8c8cff"/>
<circle cx="754.3" cy="556.0" r="8.3" fill="#bfbfff"/>
<circle cx="814.7" cy="556.0" r="8.3" fill="#ff7373"/>
<circle cx="844.9" cy="556.0" r="8.3" fill="#f2f2ff"/>
<circle cx="875.1" cy="556.0" r="8.3" fill="#b2b2ff"/>
<circle cx="905.3" cy="556.0" r="8.3" fill="#b2b2ff"/>
<circle cx="935.5" cy="556.0" r="8.3" fill="#b2b2ff"/>
<circle cx="965.7" cy="556.0" r="8.3" fill="#b2b2ff"/>
<circle cx="995.9" cy="556.0" r="8.3" fill="#ffa6a6"/>
<circle cx="301.3" cy="584.6" r="8.3" fill="#ffb2b2"/>
<circle cx="331.5" cy="584.6" r="8.3" fill="#ffb2b2"/>
<circle cx="361.7" cy="584.6" r="8.3" fill="#ffb2b2"/>
<circle cx="391.9" cy="584.6" r="8.3" fill="#ffb2b2"/>
<circle cx="422.1" cy="584.6" r="8.3" fill="#ffb2b2"/>
<circle cx="452.3" cy="584.6" r="8.3" fill="#ffe6e6"/>
<circle cx="512.7" cy="584.6" r="8.3" fill="#ffbfbf"/>
<circle cx="754.3" cy="584.6" r="8.3" fill="#8c8cff"/>
<circle cx="784.5" cy="584.6" r="8.3" fill="#a6a6ff"/>
<circle cx="814.7" cy="584.6" r="8.3" fill="#d9d9ff"/>
<circle cx="875.1" cy="584.6" r="8.3" fill="#bfbfff"/>
<circle cx="905.3" cy="584.6" r="8.3" fill="#bfbfff"/>
<circle cx="935.5" cy="584.6" r="8.3" fill="#bfbfff"/>
<circle cx="965.7" cy="584.6" r="8.3" fill="#bfbfff"/>
<circle cx="995.9" cy="584.6" r="8.3" fill="#b2b2ff"/>
<circle cx="301.3" cy="613.2" r="8.3" fill="#ffa6a6"/>
<circle cx="331.5" cy="613.2" r="8.3" fill="#ffa6a6"/>
<circle cx="361.7" cy="613.2" r="8.3" fill="#ffb2b2"/>
<circle cx="391.9" cy="613.2" r="8.3" fill="#ffb2b2"/>
<circle cx="422.1" cy="613.2" r="8.3" fill="#ffbfbf"/>
<circle cx="452.3" cy="613.2" r="8.3" fill="#fff7f7"/>
<circle cx="512.7" cy="613.2" r="8.3" fill="#ffa6a6"/>
<circle cx="542.9" cy="613.2" r="8.3" fill="#ff9999"/>
<circle cx="603.3" cy="613.2" r="8.3" fill="#ffb2b2"/>
<circle cx="693.9" cy="613.2" r="8.3" fill="#b2b2ff"/>
<circle cx="724.1" cy="613.2" r="8.3" fill="#d9d9ff"/>
<circle cx="754.3" cy="613.2" r="8.3" fill="#8080ff"/>
<circle cx="784.5" cy="613.2" r="8.3" fill="#8080ff"/>
<circle cx="814.7" cy="613.2" r="8.3" fill="#ff8080"/>
<circle cx="875.1" cy="613.2" r="8.3" fill="#bfbfff"/>
<circle cx="905.3" cy="613.2" r="8.3" fill="#bfbfff"/>
<circle cx="935.5" cy="613.2" r="8.3" fill="#bfbfff"/>
<circle cx="965.7" cy="613.2" r="8.3" fill="#b2b2ff"/>
<circle cx="301.3" cy="641.9" r="8.3" fill="#ffb2b2"/>
<circle cx="331.5" cy="641.9" r="8.3" fill="#ffb2b2"/>
<circle cx="361.7" cy="641.9" r="8.3" fill="#ffb2b2"/>
<circle cx="391.9" cy="641.9" r="8.3" fill="#ffb2b2"/>
<circle cx="422.1" cy="641.9" r="8.3" fill="#ffb2b2"/>
<circle cx="452.3" cy="641.9" r="8.3" fill="#ffe6e6"/>
<circle cx="512.7" cy="641.9" r="8.3" fill="#ffb2b2"/>
<circle cx="542.9" cy="641.9" r="8.3" fill="#ff8c8c"/>
<circle cx="603.3" cy="641.9" r="8.3" fill="#ff9999"/>
<circle cx="633.5" cy="641.9" r="8.3" fill="#ffb2b2"/>
<circle cx="663.7" cy="641.9" r="8.3" fill="#d9d9ff"/>
<circle cx="693.9" cy="641.9" r="8.3" fill="#a6a6ff"/>
<circle cx="724.1" cy="641.9" r="8.3" fill="#d9d9ff"/>
<circle cx="754.3" cy="641.9" r="8.3" fill="#7373ff"/>
<circle cx="784.5" cy="641.9" r="8.3" fill="#9999ff"/>
<circle cx="814.7" cy="641.9" r="8.3" fill="#ff6666"/>
<circle cx="844.9" cy="641.9" r="8.3" fill="#f7f7ff"/>
<circle cx="875.1" cy="641.9" r="8.3" fill="#bfbfff"/>
<circle cx="905.3" cy="641.9" r="8.3" fill="#bfbfff"/>
<circle cx="935.5" cy="641.9" r="8.3" fill="#bfbfff"/>
<circle cx="965.7" cy="641.9" r="8.3" fill="#b2b2ff"/>
<circle cx="301.3" cy="670.5" r="8.3" fill="#ffb2b2"/>
<circle cx="331.5" cy="670.5" r="8.3" fill="#ffb2b2"/>
<circle cx="361.7" cy="670.5" r="8.3" fill="#ffb2b2"/>
<circle cx="391.9" cy="670.5" r="8.3" fill="#ffb2b2"/>
<circle cx="422.1" cy="670.5" r="8.3" fill="#ffb2b2"/>
<circle cx="452.3" cy="670.5" r="8.3" fill="#ffcccc"/>
<circle cx="482.5" cy="670.5" r="8.3" fill="#ffe6e6"/>
<circle cx="512.7" cy="670.5" r="8.3" fill="#fff7f7"/>
<circle cx="542.9" cy="670.5" r="8.3" fill="#ff9999"/>
<circle cx="573.1" cy="670.5" r="8.3" fill="#ffa6a6"/>
<circle cx="603.3" cy="670.5" r="8.3" fill="#ffb2b2"/>
<circle cx="633.5" cy="670.5" r="8.3" fill="#ffb2b2"/>
<circle cx="663.7" cy="670.5" r="8.3" fill="#d9d9ff"/>
<circle cx="693.9" cy="670.5" r="8.3" fill="#b2b2ff"/>
<circle cx="724.1" cy="670.5" r="8.3" fill="#ccccff"/>
<circle cx="754.3" cy="670.5" r="8.3" fill="#6666ff"/>
<circle cx="784.5" cy="670.5" r="8.3" fill="#9999ff"/>
<circle cx="814.7" cy="670.5" r="8.3" fill="#bfbfff"/>
<circle cx="844.9" cy="670.5" r="8.3" fill="#fafaff"/>
<circle cx="875.1" cy="670.5" r="8.3" fill="#bfbfff"/>
<circle cx="905.3" cy="670.5" r="8.3" fill="#bfbfff"/>
<circle cx="935.5" cy="670.5" r="8.3" fill="#bfbfff"/>
<circle cx="965.7" cy="670.5" r="8.3" fill="#b2b2ff"/>
<circle cx="331.5" cy="699.2" r="8.3" fill="#ffb2b2"/>
<circle cx="361.7" cy="699.2" r="8.3" fill="#ffb2b2"/>
<circle cx="391.9" cy="699.2" r="8.3" fill="#ffb2b2"/>
<circle cx="422.1" cy="699.2" r="8.3" fill="#ffb2b2"/>
<circle cx="452.3" cy="699.2" r="8.3" fill="#ffb2b2"/>
<circle cx="482.5" cy="699.2" r="8.3" fill="#b2b2ff"/>
<circle cx="512.7" cy="699.2" r="8.3" fill="#9999ff"/>
<circle cx="542.9" cy="699.2" r="8.3" fill="#ff8080"/>
<circle cx="573.1" cy="699.2" r="8.3" fill="#ff9999"/>
<circle cx="603.3" cy="699.2" r="8.3" fill="#ffb2b2"/>
<circle cx="633.5" cy="699.2" r="8.3" fill="#ffcccc"/>
<circle cx="663.7" cy="699.2" r="8.3" fill="#d9d9ff"/>
<circle cx="693.9" cy="699.2" r="8.3" fill="#d9d9ff"/>
<circle cx="724.1" cy="699.2" r="8.3" fill="#9999ff"/>
<circle cx="754.3" cy="699.2" r="8.3" fill="#4040ff"/>
<circle cx="784.5" cy="699.2" r="8.3" fill="#ccccff"/>
<circle cx="814.7" cy="699.2" r="8.3" fill="#ff7373"/>
<circle cx="844.9" cy="699.2" r="8.3" fill="#f7f7ff"/>
<circle cx="875.1" cy="699.2" r="8.3" fill="#bfbfff"/>
<circle cx="905.3" cy="699.2" r="8.3" fill="#bfbfff"/>
<circle cx="935.5" cy="699.2" r="8.3" fill="#b2b2ff"/>
<circle cx="391.9" cy="727.9" r="8.3" fill="#ffb2b2"/>
<circle cx="422.1" cy="727.9" r="8.3" fill="#ffb2b2"/>
<circle cx="452.3" cy="727.9" r="8.3" fill="#ffb2b2"/>
<circle cx="482.5" cy="727.9" r="8.3" fill="#b2b2ff"/>
<circle cx="512.7" cy="727.9" r="8.3" fill="#e6e6ff"/>
<circle cx="542.9" cy="727.9" r="8.3" fill="#ff8c8c"/>
<circle cx="573.1" cy="727.9" r="8.3" fill="#ffa6a6"/>
<circle cx="603.3" cy="727.9" r="8.3" fill="#ffcccc"/>
<circle cx="633.5" cy="727.9" r="8.3" fill="#ffa6a6"/>
<circle cx="663.7" cy="727.9" r="8.3" fill="#ccccff"/>
<circle cx="693.9" cy="727.9" r="8.3" fill="#d9d9ff"/>
<circle cx="724.1" cy="727.9" r="8.3" fill="#bfbfff"/>
<circle cx="754.3" cy="727.9" r="8.3" fill="#4d4dff"/>
<circle cx="784.5" cy="727.9" r="8.3" fill="#9999ff"/>
<circle cx="814.7" cy="727.9" r="8.3" fill="#ff8080"/>
<circle cx="844.9" cy="727.9" r="8.3" fill="#ffffff"/>
<circle cx="875.1" cy="727.9" r="8.3" fill="#b2b2ff"/>
<circle cx="905.3" cy="727.9" r="8.3" fill="#b2b2ff"/>
<circle cx="452.3" cy="756.5" r="8.3" fill="#ffbfbf"/>
<circle cx="512.7" cy="756.5" r="8.3" fill="#ffd9d9"/>
<circle cx="542.9" cy="756.5" r="8.3" fill="#ff8c8c"/>
<circle cx="573.1" cy="756.5" r="8.3" fill="#ffbfbf"/>
<circle cx="603.3" cy="756.5" r="8.3" fill="#ffcccc"/>
<circle cx="633.5" cy="756.5" r="8.3" fill="#ccccff"/>
<circle cx="663.7" cy="756.5" r="8.3" fill="#ccccff"/>
<circle cx="693.9" cy="756.5" r="8.3" fill="#ccccff"/>
<circle cx="724.1" cy="756.5" r="8.3" fill="#bfbfff"/>
<circle cx="754.3" cy="756.5" r="8.3" fill="#3333ff"/>
<circle cx="784.5" cy="756.5" r="8.3" fill="#8c8cff"/>
<circle cx="814.7" cy="756.5" r="8.3" fill="#f2f2ff"/>
<circle cx="844.9" cy="756.5" r="8.3" fill="#f7f7ff"/>
<circle cx="512.7" cy="785.1" r="8.3" fill="#fff2f2"/>
<circle cx="542.9" cy="785.1" r="8.3" fill="#ff8c8c"/>
<circle cx="573.1" cy="785.1" r="8.3" fill="#ff8c8c"/>
<circle cx="603.3" cy="785.1" r="8.3" fill="#ffcccc"/>
<circle cx="633.5" cy="785.1" r="8.3" fill="#ccccff"/>
<circle cx="663.7" cy="785.1" r="8.3" fill="#ccccff"/>
<circle cx="693.9" cy="785.1" r="8.3" fill="#ccccff"/>
<circle cx="724.1" cy="785.1" r="8.3" fill="#bfbfff"/>
<circle cx="754.3" cy="785.1" r="8.3" fill="#4d4dff"/>
<circle cx="784.5" cy="785.1" r="8.3" fill="#9999ff"/>
<circle cx="814.7" cy="785.1" r="8.3" fill="#ffa6a6"/>
<circle cx="844.9" cy="785.1" r="8.3" fill="#ebebff"/>
<circle cx="482.5" cy="813.8" r="8.3" fill="#ffe0e0"/>
<circle cx="512.7" cy="813.8" r="8.3" fill="#ffebeb"/>
<circle cx="573.1" cy="813.8" r="8.3" fill="#ff8c8c"/>
<circle cx="633.5" cy="813.8" r="8.3" fill="#ccccff"/>
<circle cx="663.7" cy="813.8" r="8.3" fill="#ccccff"/>
<circle cx="693.9" cy="813.8" r="8.3" fill="#ccccff"/>
<circle cx="784.5" cy="813.8" r="8.3" fill="#b2b2ff"/>
<circle cx="814.7" cy="813.8" r="8.3" fill="#e6e6ff"/>
<circle cx="482.5" cy="842.4" r="8.3" fill="#ffd9d9"/>
<circle cx="573.1" cy="842.4" r="8.3" fill="#ff7373"/>
<circle cx="754.3" cy="842.4" r="8.3" fill="#4d4dff"/>
<circle cx="814.7" cy="842.4" r="8.3" fill="#f7f7ff"/>
<circle cx="482.5" cy="871.1" r="8.3" fill="#fff2f2"/>
<circle cx="512.7" cy="871.1" r="8.3" fill="#9999ff"/>
<circle cx="542.9" cy="871.1" r="8.3" fill="#ff8080"/>
</g>
<g fill="none" stroke="#111" stroke-width="1.15" stroke-linejoin="round">
<path d="M99.0 240.3C112.2 229.5 152.6 193.8 178.1 175.7C203.5 157.6 225.2 146.0 251.7 131.6C278.3 117.2 310.0 101.6 337.4 89.5C364.7 77.5 389.5 68.3 416.0 59.5C442.5 50.6 472.6 42.2 496.2 36.4C519.8 30.7 533.5 27.8 557.5 24.9C581.5 22.0 615.2 19.2 640.0 19.2C664.8 19.2 678.0 20.1 706.3 24.9C734.5 29.7 777.5 38.9 809.4 47.9C841.3 56.8 870.8 67.4 897.6 78.5C924.4 89.6 944.7 100.3 970.2 114.6C995.6 128.9 1024.3 147.2 1050.4 164.4C1076.5 181.5 1106.6 203.4 1126.7 217.7C1146.8 232.0 1163.6 244.8 1170.9 250.2"/>
<path d="M101.6 243.5C114.8 232.7 155.0 197.0 180.4 178.9C205.7 160.8 227.1 149.2 253.5 134.8C279.9 120.5 311.5 104.7 338.7 92.7C366.0 80.7 390.7 71.4 417.0 62.6C443.4 53.7 473.5 45.3 497.0 39.5C520.4 33.7 534.0 30.8 557.9 27.9C581.7 25.0 615.4 22.2 640.0 22.2C664.6 22.2 677.7 23.1 705.8 27.9C733.9 32.7 776.8 41.9 808.6 50.9C840.4 59.8 869.7 70.4 896.4 81.5C923.0 92.7 943.2 103.3 968.5 117.6C993.8 131.9 1022.4 150.2 1048.4 167.4C1074.3 184.7 1104.4 206.5 1124.4 220.9C1144.5 235.3 1161.1 248.1 1168.5 253.6"/>
<path d="M100.0 369.0C113.2 357.3 153.6 320.2 179.0 299.0C204.4 277.8 226.0 261.0 252.5 242.0C279.0 223.0 310.7 201.5 338.0 185.0C365.3 168.5 390.1 154.8 416.5 143.0C442.9 131.2 473.1 121.0 496.6 114.0C520.1 107.0 533.8 104.0 557.7 101.0C581.6 98.0 618.5 96.5 640.0 96.0C661.5 95.5 669.6 95.5 687.0 97.9C704.4 100.3 724.1 104.6 744.4 110.4C764.7 116.2 789.9 125.1 809.0 133.0C828.1 140.9 844.1 149.7 858.8 158.0C873.5 166.3 883.0 173.3 897.0 183.0C911.0 192.7 923.6 202.0 942.7 216.0C961.8 230.0 987.2 248.5 1011.4 266.8C1035.6 285.1 1068.3 311.0 1087.7 326.0C1107.1 341.0 1114.4 344.8 1127.9 357.0C1141.5 369.2 1162.2 392.0 1169.0 399.0"/>
<path d="M102.1 371.4C115.3 359.7 155.7 322.6 181.0 301.5C206.4 280.3 227.9 263.6 254.4 244.6C280.8 225.6 312.4 204.2 339.7 187.7C366.9 171.3 391.5 157.7 417.8 145.9C444.1 134.1 474.1 124.0 497.5 117.1C520.9 110.1 534.3 107.2 558.1 104.2C581.9 101.2 624.0 100.0 640.2 99.2C656.3 98.4 652.5 99.4 655.0 99.5"/>
<path d="M100.0 440.0C106.3 434.4 125.0 417.5 138.0 406.7C151.0 395.9 158.9 387.2 178.0 375.0C197.1 362.8 225.8 348.7 252.5 333.5C279.2 318.3 311.1 299.2 338.4 284.0C365.7 268.8 390.1 256.0 416.5 242.0C442.9 228.0 473.1 210.8 496.6 200.0C520.1 189.2 541.2 182.1 557.7 177.0C574.2 171.9 582.1 171.2 595.8 169.5C609.5 167.8 627.3 166.7 640.0 166.5C652.7 166.3 661.0 167.2 672.0 168.4C683.0 169.6 694.2 170.4 706.3 173.4C718.4 176.4 731.7 181.3 744.4 186.7C757.1 192.1 769.9 198.2 782.6 205.8C795.3 213.4 808.0 223.3 820.7 232.5C833.4 241.7 846.1 251.5 858.8 261.0C871.5 270.5 883.0 279.5 897.0 289.7C911.0 299.9 923.9 310.6 942.7 322.0C961.5 333.4 985.8 343.2 1010.0 358.0C1034.2 372.8 1068.0 397.8 1087.7 411.0C1107.4 424.2 1114.4 426.5 1127.9 437.0C1141.5 447.5 1162.2 467.8 1169.0 474.0"/>
<path d="M100.0 450.2C106.3 444.6 125.0 427.4 138.0 416.8C151.0 406.2 158.9 398.7 178.0 386.3C197.1 373.9 225.8 356.7 252.5 342.5C279.2 328.3 310.7 313.9 338.0 301.0C365.3 288.1 390.1 277.1 416.5 265.0C442.9 252.9 475.0 238.9 496.6 228.7C518.2 218.5 537.8 208.1 546.0 204.0"/>
<path d="M834.0 206.5C841.3 212.4 863.6 230.4 877.9 242.0C892.2 253.6 904.0 264.5 919.9 276.0C935.8 287.5 958.3 301.3 973.3 311.0C988.3 320.7 990.9 321.0 1010.0 334.0C1029.1 347.0 1068.0 375.3 1087.7 389.0C1107.4 402.7 1114.4 405.0 1127.9 416.4C1141.5 427.8 1162.2 450.6 1169.0 457.5"/>
<path d="M100.0 467.7C106.3 462.1 125.0 444.5 138.0 433.8C151.0 423.1 158.9 415.3 178.0 403.3C197.1 391.3 225.8 373.8 252.5 362.0C279.2 350.2 315.1 338.4 338.0 332.5C360.9 326.6 366.7 327.8 390.0 326.7C413.3 325.6 463.0 326.1 477.6 326.0"/>
<path d="M786.4 354.5C795.3 353.9 824.5 351.0 839.8 350.7C855.0 350.4 862.0 350.4 877.9 352.6C893.8 354.8 919.1 359.9 935.0 364.0C950.9 368.1 960.8 373.0 973.3 377.4C985.8 381.8 990.9 379.9 1010.0 390.5C1029.1 401.1 1068.0 428.3 1087.7 441.0C1107.4 453.7 1114.4 455.8 1127.9 466.7C1141.5 477.6 1162.2 499.9 1169.0 506.5"/>
<path d="M100.0 509.5C106.3 503.7 125.0 485.5 138.0 474.5C151.0 463.5 164.3 452.3 178.0 443.4C191.7 434.5 207.2 426.8 220.0 421.0C232.8 415.2 242.0 411.9 255.0 408.4C268.0 404.9 279.3 400.4 298.0 400.0C316.7 399.6 347.2 401.5 367.0 406.0C386.8 410.5 401.2 419.4 416.5 427.0C431.8 434.6 445.1 444.5 458.5 451.8C471.9 459.1 480.1 464.6 496.6 471.0C513.1 477.4 538.8 485.8 557.7 490.0C576.6 494.2 595.5 495.2 610.0 496.5C624.5 497.8 633.3 498.0 645.0 498.0C656.7 498.0 663.4 498.5 680.0 496.5C696.6 494.5 724.1 490.6 744.4 486.0C764.7 481.4 782.5 475.7 801.6 469.0C820.7 462.3 842.9 451.7 858.8 446.0C874.7 440.3 882.4 437.1 897.0 434.6C911.6 432.1 930.7 430.5 946.6 430.8C962.5 431.1 981.7 434.8 992.3 436.5C1002.9 438.2 1000.5 437.6 1010.0 440.8C1019.5 444.0 1036.2 449.2 1049.5 455.6C1062.8 462.0 1076.9 470.5 1090.0 479.0C1103.1 487.5 1114.7 495.5 1127.9 506.4C1141.1 517.3 1162.2 538.1 1169.0 544.5"/>
<path d="M100.0 521.9C106.3 516.0 125.0 497.2 138.0 486.5C151.0 475.8 164.3 465.8 178.0 457.5C191.7 449.2 207.2 442.6 220.0 437.0C232.8 431.4 242.0 427.3 255.0 424.2C268.0 421.1 283.2 419.0 298.0 418.5C312.8 418.0 328.7 418.0 344.0 421.0C359.3 424.0 373.5 429.2 390.0 436.5C406.5 443.8 425.2 456.1 443.0 465.0C460.8 473.9 477.5 483.0 496.6 490.0C515.7 497.0 538.8 502.9 557.7 507.0C576.6 511.1 595.5 512.9 610.0 514.5C624.5 516.1 633.3 516.5 645.0 516.6C656.7 516.7 663.4 517.3 680.0 515.0C696.6 512.7 724.1 507.8 744.4 503.0C764.7 498.2 782.5 492.7 801.6 486.0C820.7 479.3 842.9 468.7 858.8 463.0C874.7 457.3 882.4 454.3 897.0 451.8C911.6 449.3 930.7 447.7 946.6 448.0C962.5 448.3 981.7 452.1 992.3 453.7C1002.9 455.3 1000.5 454.4 1010.0 457.6C1019.5 460.8 1036.2 466.4 1049.5 472.8C1062.8 479.2 1076.9 488.1 1090.0 496.0C1103.1 503.9 1114.7 509.6 1127.9 520.0C1141.1 530.4 1162.2 552.1 1169.0 558.5"/>
<path d="M100.0 650.6C106.3 642.0 125.3 612.3 138.0 599.0C150.7 585.7 163.6 578.2 176.3 570.6C189.0 563.0 201.7 557.5 214.4 553.4C227.1 549.3 239.9 547.1 252.6 545.8C265.3 544.5 278.0 544.8 290.7 545.8C303.4 546.8 316.1 549.0 328.8 551.5C341.5 554.0 354.3 557.2 367.0 561.0C379.7 564.8 392.3 570.3 405.0 574.4C417.7 578.5 430.5 582.3 443.2 585.8C455.9 589.3 468.7 592.1 481.4 595.3C494.1 598.5 506.8 602.1 519.5 605.0C532.2 607.9 545.0 610.4 557.7 612.5C570.4 614.6 582.1 616.2 595.8 617.5C609.5 618.8 624.8 619.8 640.0 620.0C655.2 620.2 669.6 619.9 687.0 619.0C704.4 618.1 725.3 616.1 744.4 614.4C763.5 612.7 782.5 610.7 801.6 608.7C820.7 606.7 839.7 604.1 858.8 602.2C877.9 600.3 896.9 597.9 916.0 597.3C935.1 596.7 957.4 597.1 973.3 598.4C989.2 599.7 998.7 601.6 1011.4 604.9C1024.1 608.2 1036.8 612.2 1049.5 618.2C1062.2 624.2 1075.0 630.9 1087.7 641.0C1100.4 651.1 1114.4 665.0 1125.8 679.0C1137.2 693.0 1149.1 712.0 1156.3 725.0C1163.5 738.0 1165.0 737.8 1169.0 757.0C1173.0 776.2 1178.7 817.0 1180.0 840.0C1181.3 863.0 1179.0 880.8 1177.0 895.0C1175.0 909.2 1170.2 914.2 1167.8 925.0C1165.4 935.8 1164.6 947.6 1162.4 959.5C1160.2 971.4 1157.5 984.3 1154.8 996.2C1152.1 1008.1 1149.5 1019.1 1146.2 1030.7C1142.9 1042.3 1136.9 1060.1 1135.0 1066.0"/>
<path d="M100.8 651.2C107.1 642.6 126.1 613.0 138.8 599.7C151.4 586.4 164.2 579.1 176.9 571.5C189.5 564.0 202.1 558.6 214.8 554.5C227.4 550.4 240.1 548.2 252.7 547.0C265.4 545.7 278.0 546.1 290.6 547.0C303.2 548.0 315.9 550.2 328.5 552.8C341.2 555.3 353.9 558.5 366.6 562.3C379.3 566.1 391.9 571.6 404.6 575.7C417.3 579.9 430.1 583.7 442.8 587.2C455.6 590.7 468.3 593.5 481.0 596.7C493.8 600.0 506.4 603.6 519.2 606.5C531.9 609.4 544.7 612.0 557.4 614.1C570.2 616.2 581.9 617.9 595.7 619.1C609.4 620.4 624.7 621.4 640.0 621.7C655.2 621.9 669.7 621.6 687.1 620.7C704.5 619.8 725.4 617.9 744.6 616.2C763.7 614.5 782.7 612.5 801.8 610.5C820.9 608.5 839.9 605.9 859.0 604.1C878.0 602.2 897.0 599.8 916.1 599.2C935.1 598.6 957.3 599.1 973.1 600.4C988.9 601.6 998.3 603.6 1010.9 606.9C1023.5 610.1 1036.0 614.1 1048.6 620.1C1061.2 626.0 1073.8 632.6 1086.4 642.7C1099.0 652.7 1112.8 666.5 1124.1 680.4C1135.5 694.3 1147.3 713.2 1154.4 726.1C1161.5 738.9 1162.9 738.4 1166.8 757.5C1170.7 776.5 1176.4 817.3 1177.7 840.1C1179.0 863.0 1176.7 880.6 1174.7 894.7C1172.6 908.7 1167.9 913.7 1165.5 924.5C1163.0 935.2 1162.2 947.2 1160.0 959.1C1157.8 970.9 1155.1 983.8 1152.4 995.6C1149.7 1007.5 1147.1 1018.4 1143.7 1030.0C1140.4 1041.6 1134.4 1059.3 1132.5 1065.2"/>
<path d="M191.5 1066.0C188.9 1061.9 182.3 1056.5 176.0 1041.6C169.7 1026.7 159.0 1000.2 153.4 976.7C147.8 953.2 143.3 924.0 142.7 900.5C142.1 877.0 145.9 854.7 149.6 835.6C153.3 816.5 158.5 800.6 164.8 786.0C171.2 771.4 179.4 758.5 187.7 748.0C196.0 737.5 203.6 730.3 214.4 723.0C225.2 715.7 239.9 708.4 252.6 704.0C265.3 699.6 278.0 698.0 290.7 696.4C303.4 694.8 316.1 694.5 328.8 694.5C341.5 694.5 354.3 695.3 367.0 696.4C379.7 697.5 392.3 699.2 405.0 701.0C417.7 702.8 430.5 705.2 443.2 707.0C455.9 708.8 468.7 710.3 481.4 711.7C494.1 713.1 506.8 714.5 519.5 715.5C532.2 716.5 537.6 717.1 557.7 718.0C577.8 718.9 608.9 719.5 640.0 721.0C671.1 722.5 714.3 725.7 744.4 727.0C774.5 728.3 795.3 728.2 820.7 728.8C846.1 729.4 874.8 728.8 897.0 730.7C919.2 732.6 938.3 736.2 954.2 740.3C970.1 744.4 979.6 748.5 992.3 755.5C1005.0 762.5 1019.7 772.0 1030.5 782.2C1041.3 792.4 1050.2 804.5 1057.2 816.6C1064.2 828.7 1068.6 840.7 1072.4 854.7C1076.2 868.7 1079.1 884.6 1080.0 900.5C1080.9 916.4 1079.6 935.1 1078.0 950.0C1076.4 964.9 1074.3 976.7 1070.6 990.0C1066.9 1003.3 1061.4 1017.3 1056.0 1030.0C1050.6 1042.7 1041.0 1060.0 1038.0 1066.0"/>
<path d="M192.8 1065.2C190.2 1061.2 183.7 1055.8 177.4 1041.0C171.1 1026.2 160.4 999.8 154.9 976.4C149.3 952.9 144.8 923.9 144.2 900.5C143.6 877.0 147.4 854.9 151.1 835.9C154.7 816.9 159.9 801.1 166.2 786.6C172.5 772.1 180.7 759.3 188.9 748.9C197.1 738.5 204.5 731.5 215.2 724.2C225.9 717.0 240.5 709.8 253.1 705.4C265.7 701.0 278.3 699.5 290.9 697.9C303.5 696.3 316.1 696.0 328.8 696.0C341.5 696.0 354.2 696.8 366.9 697.9C379.5 699.0 392.1 700.7 404.8 702.5C417.5 704.3 430.3 706.7 443.0 708.5C455.7 710.3 468.5 711.8 481.2 713.2C494.0 714.6 506.6 715.9 519.4 717.0C532.1 718.0 537.5 718.6 557.6 719.5C577.7 720.4 608.8 721.0 639.9 722.5C671.0 724.0 714.2 727.2 744.3 728.5C774.5 729.8 795.2 729.7 820.7 730.3C846.1 730.9 874.7 730.3 896.9 732.2C919.1 734.1 938.0 737.6 953.8 741.8C969.6 745.9 979.0 749.9 991.6 756.8C1004.2 763.7 1018.8 773.2 1029.5 783.3C1040.2 793.4 1049.0 805.4 1055.9 817.4C1062.8 829.3 1067.2 841.2 1071.0 855.1C1074.7 869.0 1077.6 884.8 1078.5 900.6C1079.4 916.4 1078.1 935.0 1076.5 949.8C1075.0 964.7 1072.8 976.3 1069.2 989.6C1065.5 1002.9 1060.0 1016.8 1054.6 1029.4C1049.2 1042.0 1039.7 1059.3 1036.7 1065.3"/>
<path d="M190.5 1066.6C187.9 1062.5 181.3 1057.0 174.9 1042.1C168.5 1027.1 157.8 1000.6 152.2 977.0C146.7 953.4 142.1 924.1 141.5 900.5C140.9 876.9 144.7 854.5 148.4 835.4C152.1 816.2 157.3 800.2 163.7 785.5C170.1 770.8 178.4 757.8 186.8 747.3C195.1 736.7 202.8 729.4 213.7 722.0C224.6 714.6 239.4 707.3 252.2 702.9C265.0 698.4 277.8 696.8 290.6 695.2C303.3 693.6 316.0 693.3 328.8 693.3C341.6 693.3 354.4 694.1 367.1 695.2C379.8 696.3 392.5 698.0 405.2 699.8C417.9 701.6 430.6 704.0 443.4 705.8C456.1 707.6 468.8 709.1 481.5 710.5C494.2 711.9 506.9 713.3 519.6 714.3C532.3 715.4 537.7 715.9 557.8 716.8C577.8 717.7 608.9 718.3 640.1 719.8C671.2 721.3 714.3 724.5 744.5 725.8C774.6 727.1 795.3 727.0 820.7 727.6C846.2 728.2 874.8 727.6 897.1 729.5C919.4 731.4 938.5 735.0 954.5 739.1C970.5 743.3 980.1 747.4 992.9 754.4C1005.7 761.5 1020.4 771.1 1031.3 781.3C1042.2 791.6 1051.2 803.8 1058.2 816.0C1065.3 828.2 1069.7 840.3 1073.6 854.4C1077.4 868.5 1080.3 884.5 1081.2 900.4C1082.1 916.4 1080.8 935.1 1079.2 950.1C1077.6 965.1 1075.4 976.9 1071.8 990.3C1068.1 1003.7 1062.6 1017.8 1057.1 1030.5C1051.7 1043.2 1042.1 1060.5 1039.1 1066.5"/>
<path d="M640.0 723.0C657.4 724.3 714.3 729.2 744.4 731.0C774.5 732.8 795.3 732.3 820.7 733.5C846.1 734.7 874.8 735.0 897.0 738.4C919.2 741.8 938.2 747.6 954.0 753.6C969.8 759.6 979.2 765.4 992.0 774.6C1004.8 783.8 1020.3 796.3 1030.5 809.0C1040.7 821.7 1047.9 835.6 1053.3 850.9C1058.7 866.1 1061.3 884.0 1062.9 900.5C1064.5 917.0 1063.9 935.1 1062.9 950.0C1061.9 964.9 1058.0 983.3 1057.0 990.0"/>
<path d="M317.4 1066.0C314.2 1057.5 304.0 1033.0 298.3 1014.9C292.6 996.9 286.2 973.6 283.0 957.7C279.8 941.8 278.7 931.0 279.3 919.5C279.9 908.0 282.4 898.5 286.9 889.0C291.3 879.5 297.7 869.9 306.0 862.3C314.3 854.7 326.3 848.0 336.5 843.2C346.7 838.4 355.6 836.4 367.0 833.7C378.4 831.0 392.3 828.7 405.0 827.2C417.7 825.8 430.5 825.2 443.2 825.0C455.9 824.8 462.3 825.6 481.4 826.0C500.5 826.4 531.3 826.7 557.7 827.2C584.1 827.7 618.5 828.0 640.0 828.8C661.5 829.6 669.6 830.0 687.0 831.8C704.4 833.6 725.3 835.9 744.4 839.4C763.5 842.9 785.7 848.4 801.6 852.8C817.5 857.2 827.1 860.6 839.8 866.0C852.5 871.4 867.1 878.0 877.9 885.0C888.7 892.0 897.0 899.1 904.6 908.0C912.2 916.9 918.9 927.1 923.7 938.6C928.5 950.1 931.9 964.0 933.2 976.7C934.5 989.4 933.4 1003.4 931.4 1014.9C929.4 1026.3 924.6 1036.9 921.0 1045.4C917.4 1053.9 911.8 1062.6 910.0 1066.0"/>
<path d="M320.4 1064.9C317.2 1056.4 307.1 1031.9 301.3 1013.9C295.6 996.0 289.3 972.8 286.1 957.1C283.0 941.4 281.9 930.8 282.5 919.7C283.1 908.6 285.5 899.5 289.8 890.4C294.1 881.2 300.2 872.0 308.2 864.7C316.2 857.3 327.9 850.7 337.9 846.1C347.8 841.5 356.5 839.4 367.7 836.8C379.0 834.2 392.8 831.8 405.4 830.4C418.0 828.9 430.6 828.4 443.3 828.2C455.9 828.0 462.3 828.8 481.3 829.2C500.4 829.6 531.2 829.9 557.6 830.4C584.1 830.9 618.4 831.2 639.9 832.0C661.4 832.8 669.4 833.2 686.7 835.0C704.0 836.7 724.8 839.1 743.8 842.5C762.8 846.0 785.0 851.5 800.7 855.9C816.5 860.3 826.0 863.6 838.6 868.9C851.1 874.2 865.6 880.8 876.2 887.7C886.8 894.5 894.7 901.4 902.2 910.1C909.6 918.8 916.1 928.7 920.7 939.8C925.4 951.0 928.8 964.6 930.0 977.0C931.3 989.4 930.2 1003.2 928.2 1014.3C926.3 1025.5 921.6 1035.8 918.0 1044.2C914.5 1052.5 909.0 1061.1 907.2 1064.5"/>
<path d="M323.4 1063.8C320.2 1055.3 310.1 1030.8 304.4 1013.0C298.7 995.1 292.4 972.0 289.3 956.4C286.2 940.9 285.1 930.7 285.7 919.9C286.3 909.1 288.6 900.5 292.7 891.7C296.8 882.9 302.6 874.1 310.3 867.0C318.1 859.9 329.5 853.5 339.2 849.0C348.9 844.5 357.4 842.5 368.5 839.9C379.5 837.4 393.3 835.0 405.7 833.6C418.2 832.1 430.7 831.6 443.3 831.4C455.9 831.2 462.2 832.0 481.3 832.4C500.3 832.8 531.2 833.1 557.6 833.6C584.0 834.1 618.3 834.4 639.8 835.2C661.2 836.0 669.1 836.4 686.4 838.2C703.6 839.9 724.3 842.2 743.2 845.7C762.2 849.2 784.2 854.6 799.9 859.0C815.6 863.3 824.9 866.7 837.3 871.9C849.7 877.1 864.0 883.7 874.4 890.4C884.8 897.1 892.5 903.7 899.7 912.2C907.0 920.6 913.3 930.2 917.8 941.1C922.3 951.9 925.6 965.2 926.8 977.3C928.1 989.5 927.1 1002.9 925.1 1013.8C923.1 1024.7 918.6 1034.7 915.1 1042.9C911.6 1051.1 906.1 1059.6 904.4 1063.0"/>
<path d="M315.3 1066.8C312.1 1058.2 302.0 1033.7 296.2 1015.6C290.5 997.5 284.0 974.2 280.8 958.1C277.7 942.1 276.4 931.1 277.1 919.4C277.8 907.7 280.3 897.9 284.9 888.1C289.5 878.3 296.1 868.5 304.5 860.7C313.0 852.9 325.2 846.1 335.6 841.2C345.9 836.4 355.0 834.3 366.5 831.6C378.0 828.9 392.0 826.5 404.8 825.0C417.5 823.6 430.4 823.0 443.2 822.8C455.9 822.6 462.3 823.4 481.4 823.8C500.5 824.2 531.3 824.5 557.7 825.0C584.2 825.5 618.5 825.8 640.1 826.6C661.7 827.4 669.8 827.8 687.2 829.6C704.7 831.4 725.6 833.7 744.8 837.2C764.0 840.7 786.2 846.2 802.2 850.7C818.2 855.1 827.8 858.6 840.7 864.0C853.5 869.4 868.2 876.1 879.1 883.2C890.0 890.3 898.5 897.5 906.3 906.6C914.0 915.7 920.9 926.1 925.7 937.8C930.6 949.4 934.1 963.6 935.4 976.5C936.7 989.4 935.6 1003.7 933.6 1015.3C931.5 1026.9 926.6 1037.6 923.0 1046.2C919.4 1054.9 913.8 1063.6 911.9 1067.0"/>
<path d="M369.4 843.9C375.5 842.9 393.9 839.0 406.2 837.6C418.5 836.2 430.9 835.7 443.4 835.5C455.9 835.3 462.2 836.1 481.2 836.5C500.2 836.9 544.8 837.5 557.5 837.7"/>
<path d="M443.2 1066.0C441.0 1062.3 434.0 1051.2 429.9 1043.6C425.8 1036.0 420.9 1028.3 418.4 1020.4C415.8 1012.4 413.6 1003.7 414.7 995.7C415.7 987.6 420.1 979.2 424.7 972.2C429.3 965.2 435.9 959.3 442.3 953.6C448.7 947.9 455.7 942.4 463.3 938.2C470.8 934.0 479.2 931.4 487.4 928.5C495.6 925.7 503.8 923.3 512.3 921.3C520.7 919.4 529.4 918.4 537.9 917.1C546.5 915.8 555.1 914.3 563.7 913.6C572.3 912.9 581.0 912.9 589.7 912.7C598.4 912.5 607.0 912.2 615.7 912.6C624.3 913.1 632.9 914.4 641.6 915.5C650.2 916.5 658.8 917.5 667.4 918.8C675.9 920.1 684.6 921.3 693.0 923.3C701.4 925.3 709.7 928.0 717.8 930.9C726.0 933.8 734.1 936.9 741.9 940.6C749.7 944.3 757.7 948.1 764.7 953.1C771.6 958.1 778.6 964.1 783.8 970.8C789.0 977.4 793.5 985.0 796.0 993.0C798.5 1000.9 799.2 1009.9 798.6 1018.3C798.1 1026.7 793.6 1039.2 792.6 1043.3"/>
<path d="M448.9 1066.0C446.8 1062.4 440.2 1051.7 436.3 1044.4C432.4 1037.0 427.9 1029.6 425.5 1021.9C423.1 1014.2 420.9 1005.8 421.9 998.1C422.9 990.3 427.1 982.3 431.6 975.5C436.0 968.8 442.2 963.0 448.4 957.6C454.6 952.2 461.4 947.0 468.7 943.0C475.9 939.0 484.0 936.4 491.9 933.6C499.7 930.9 507.7 928.6 515.8 926.7C523.9 924.8 532.2 923.7 540.4 922.4C548.7 921.1 556.9 919.8 565.2 919.1C573.5 918.4 581.9 918.3 590.2 918.1C598.5 917.8 606.9 917.4 615.2 917.8C623.5 918.2 631.8 919.6 640.0 920.6C648.3 921.6 656.6 922.5 664.9 923.8C673.1 925.0 681.4 926.3 689.5 928.2C697.5 930.2 705.5 932.8 713.3 935.6C721.2 938.3 729.0 941.4 736.4 945.0C743.9 948.6 751.6 952.2 758.3 957.1C765.0 961.9 771.5 967.8 776.5 974.2C781.4 980.7 785.6 988.0 787.9 995.7C790.3 1003.3 791.0 1012.0 790.4 1020.1C789.8 1028.2 787.3 1036.4 784.3 1044.1C781.3 1051.7 774.4 1062.3 772.4 1066.0"/>
<path d="M454.6 1066.0C452.6 1062.5 446.4 1052.2 442.7 1045.2C439.0 1038.1 434.9 1030.9 432.6 1023.5C430.4 1016.0 428.2 1007.9 429.2 1000.5C430.2 993.1 434.2 985.3 438.4 978.9C442.7 972.4 448.6 966.8 454.5 961.6C460.5 956.4 467.1 951.6 474.1 947.8C481.1 944.0 488.8 941.3 496.3 938.7C503.9 936.1 511.5 933.9 519.3 932.0C527.1 930.2 535.0 928.9 542.9 927.7C550.8 926.4 558.7 925.3 566.7 924.6C574.7 923.8 582.7 923.7 590.7 923.4C598.7 923.2 606.7 922.6 614.7 923.0C622.6 923.4 630.6 924.7 638.5 925.7C646.5 926.6 654.5 927.5 662.4 928.7C670.3 930.0 678.2 931.3 685.9 933.2C693.7 935.1 701.4 937.5 708.9 940.2C716.4 942.9 723.8 946.0 731.0 949.4C738.2 952.9 745.5 956.4 751.9 961.1C758.3 965.8 764.5 971.5 769.2 977.7C773.8 984.0 777.7 991.1 779.9 998.4C782.1 1005.8 782.9 1014.2 782.2 1021.9C781.6 1029.7 779.0 1037.5 776.1 1044.9C773.2 1052.2 766.7 1062.5 764.8 1066.0"/>
<path d="M460.6 1066.0C458.7 1062.7 452.8 1052.8 449.4 1046.0C445.9 1039.1 442.2 1032.2 440.1 1025.1C438.0 1017.9 435.9 1010.2 436.8 1003.0C437.7 995.9 441.6 988.5 445.6 982.3C449.6 976.1 455.2 970.7 460.9 965.8C466.6 960.9 473.1 956.4 479.8 952.8C486.5 949.2 493.8 946.6 501.0 944.0C508.2 941.5 515.5 939.4 523.0 937.6C530.4 935.8 537.9 934.4 545.5 933.2C553.0 932.0 560.6 931.0 568.3 930.3C575.9 929.6 583.6 929.3 591.2 929.0C598.8 928.7 606.5 928.1 614.1 928.4C621.7 928.7 629.4 930.1 637.0 931.0C644.6 931.9 652.2 932.7 659.8 933.9C667.3 935.1 674.9 936.5 682.3 938.4C689.7 940.2 697.0 942.5 704.2 945.1C711.4 947.7 718.5 950.7 725.4 954.0C732.2 957.4 739.2 960.7 745.2 965.2C751.3 969.8 757.2 975.4 761.6 981.4C766.0 987.4 769.5 994.2 771.5 1001.3C773.5 1008.3 774.3 1016.4 773.7 1023.8C773.0 1031.2 770.2 1038.6 767.4 1045.7C764.6 1052.7 758.7 1062.6 756.9 1066.0"/>
<path d="M466.5 1066.0C464.8 1062.8 459.2 1053.3 456.0 1046.8C452.8 1040.2 449.4 1033.6 447.5 1026.7C445.5 1019.9 443.5 1012.4 444.4 1005.6C445.2 998.7 449.0 991.7 452.8 985.8C456.6 979.8 461.8 974.6 467.2 970.0C472.7 965.3 479.0 961.2 485.4 957.8C491.8 954.4 498.8 951.8 505.6 949.3C512.5 946.9 519.5 945.0 526.6 943.2C533.7 941.4 540.9 940.0 548.1 938.8C555.3 937.6 562.6 936.7 569.8 936.0C577.1 935.3 584.4 935.0 591.7 934.6C599.0 934.2 606.3 933.5 613.6 933.8C620.9 934.1 628.1 935.4 635.4 936.3C642.7 937.2 650.0 937.9 657.2 939.1C664.4 940.3 671.5 941.7 678.6 943.6C685.7 945.4 692.7 947.5 699.5 950.0C706.4 952.5 713.2 955.4 719.7 958.6C726.2 961.8 732.9 965.0 738.6 969.4C744.3 973.8 749.9 979.2 754.0 985.0C758.1 990.8 761.2 997.3 763.1 1004.1C765.0 1010.9 765.8 1018.6 765.1 1025.7C764.4 1032.7 761.5 1039.7 758.8 1046.5C756.1 1053.2 750.6 1062.7 749.0 1066.0"/>
<path d="M472.0 1066.0C470.3 1062.9 465.1 1053.8 462.1 1047.5C459.2 1041.2 456.1 1034.8 454.3 1028.2C452.5 1021.6 450.5 1014.4 451.3 1007.9C452.2 1001.3 455.8 994.6 459.4 988.9C463.0 983.2 467.9 978.2 473.1 973.8C478.3 969.4 484.5 965.7 490.6 962.4C496.8 959.1 503.3 956.6 509.9 954.2C516.5 951.9 523.2 950.0 530.0 948.3C536.7 946.6 543.6 945.0 550.4 943.8C557.3 942.6 564.3 941.9 571.3 941.2C578.2 940.6 585.2 940.1 592.2 939.7C599.2 939.3 606.1 938.5 613.1 938.7C620.1 939.0 627.0 940.3 633.9 941.2C640.9 942.0 647.9 942.6 654.8 943.8C661.7 945.0 668.5 946.5 675.2 948.3C682.0 950.1 688.7 952.1 695.3 954.5C701.8 956.9 708.3 959.7 714.5 962.8C720.7 966.0 727.1 969.0 732.5 973.2C737.9 977.5 743.2 982.8 747.0 988.4C750.8 993.9 753.7 1000.2 755.4 1006.7C757.1 1013.2 758.0 1020.6 757.3 1027.4C756.5 1034.1 753.5 1040.7 750.9 1047.2C748.3 1053.6 743.2 1062.9 741.7 1066.0"/>
<path d="M476.4 1066.0C474.9 1063.0 469.9 1054.2 467.1 1048.1C464.4 1042.0 461.6 1035.8 459.9 1029.4C458.2 1023.0 456.2 1016.1 457.0 1009.8C457.8 1003.5 461.3 997.0 464.8 991.5C468.2 986.0 472.8 981.2 477.8 976.9C482.9 972.7 489.0 969.3 494.9 966.1C500.8 963.0 507.1 960.5 513.4 958.2C519.7 955.9 526.2 954.2 532.7 952.5C539.2 950.8 545.8 949.1 552.4 948.0C559.0 946.8 565.7 946.2 572.4 945.5C579.1 944.8 585.9 944.4 592.6 943.9C599.3 943.5 606.0 942.6 612.7 942.8C619.4 943.0 626.1 944.4 632.8 945.2C639.5 946.0 646.2 946.5 652.8 947.7C659.4 948.9 666.0 950.4 672.5 952.2C679.0 953.9 685.5 955.8 691.8 958.2C698.0 960.5 704.3 963.2 710.2 966.3C716.2 969.3 722.3 972.2 727.5 976.4C732.7 980.5 737.7 985.7 741.3 991.1C744.9 996.5 747.5 1002.5 749.1 1008.8C750.7 1015.1 751.6 1022.3 750.8 1028.8C750.1 1035.3 746.9 1041.6 744.4 1047.8C741.9 1054.0 737.2 1063.0 735.8 1066.0"/>
<path d="M480.4 1066.0C478.9 1063.1 474.2 1054.5 471.6 1048.6C469.0 1042.7 466.4 1036.7 464.8 1030.5C463.2 1024.3 461.3 1017.6 462.1 1011.5C462.8 1005.3 466.2 999.1 469.6 993.8C472.9 988.5 477.2 983.8 482.1 979.7C486.9 975.7 492.9 972.5 498.7 969.5C504.4 966.5 510.4 964.0 516.5 961.7C522.6 959.5 528.9 957.9 535.2 956.2C541.4 954.5 547.7 952.8 554.1 951.7C560.5 950.5 567.0 950.0 573.5 949.3C579.9 948.7 586.4 948.1 592.9 947.7C599.4 947.2 605.9 946.2 612.3 946.4C618.8 946.6 625.3 947.9 631.7 948.7C638.2 949.5 644.7 950.0 651.1 951.2C657.5 952.3 663.8 953.9 670.0 955.6C676.3 957.3 682.6 959.2 688.6 961.5C694.7 963.7 700.7 966.4 706.5 969.3C712.2 972.3 718.1 975.1 723.1 979.1C728.0 983.2 732.8 988.3 736.2 993.5C739.6 998.8 742.0 1004.6 743.5 1010.7C745.0 1016.8 745.9 1023.8 745.1 1030.0C744.3 1036.3 741.1 1042.3 738.6 1048.3C736.2 1054.3 731.9 1063.1 730.5 1066.0"/>
<path d="M483.9 1066.0C482.5 1063.2 477.9 1054.8 475.5 1049.1C473.0 1043.3 470.7 1037.5 469.2 1031.5C467.7 1025.4 465.7 1018.9 466.5 1012.9C467.2 1007.0 470.5 1001.0 473.7 995.8C477.0 990.7 481.1 986.1 485.8 982.2C490.5 978.3 496.4 975.3 502.0 972.4C507.5 969.5 513.3 967.0 519.2 964.8C525.1 962.7 531.2 961.1 537.3 959.5C543.4 957.8 549.4 956.0 555.6 954.9C561.8 953.8 568.1 953.3 574.4 952.7C580.7 952.0 586.9 951.4 593.2 950.9C599.5 950.4 605.8 949.4 612.0 949.5C618.3 949.7 624.5 951.1 630.8 951.8C637.1 952.6 643.4 953.0 649.6 954.2C655.7 955.3 661.8 957.0 667.9 958.7C673.9 960.3 680.0 962.1 685.9 964.3C691.8 966.5 697.6 969.1 703.2 972.0C708.7 974.9 714.4 977.6 719.2 981.6C723.9 985.5 728.5 990.5 731.8 995.7C735.0 1000.8 737.2 1006.5 738.6 1012.4C740.0 1018.3 741.0 1025.1 740.1 1031.1C739.3 1037.2 736.0 1043.0 733.6 1048.8C731.2 1054.6 727.2 1063.1 725.9 1066.0"/>
<path d="M486.8 1066.0C485.5 1063.2 481.1 1055.1 478.8 1049.5C476.5 1043.9 474.3 1038.2 472.9 1032.3C471.5 1026.4 469.5 1020.0 470.3 1014.2C471.0 1008.4 474.2 1002.6 477.3 997.6C480.4 992.6 484.4 988.0 489.0 984.2C493.6 980.5 499.4 977.7 504.8 974.9C510.2 972.1 515.8 969.6 521.5 967.5C527.3 965.4 533.2 963.9 539.1 962.3C545.0 960.6 550.9 958.8 556.9 957.7C562.9 956.5 569.1 956.2 575.2 955.5C581.3 954.9 587.4 954.3 593.5 953.7C599.6 953.2 605.7 952.1 611.8 952.2C617.9 952.4 623.9 953.7 630.0 954.5C636.1 955.2 642.3 955.7 648.3 956.8C654.3 957.9 660.2 959.6 666.0 961.2C671.9 962.9 677.9 964.6 683.6 966.8C689.3 968.9 695.0 971.5 700.3 974.3C705.7 977.1 711.2 979.8 715.8 983.7C720.5 987.5 724.9 992.5 728.0 997.5C731.1 1002.5 733.1 1008.0 734.4 1013.8C735.7 1019.6 736.7 1026.2 735.9 1032.1C735.0 1038.0 731.6 1043.5 729.3 1049.2C727.0 1054.8 723.1 1063.2 721.9 1066.0"/>
<path d="M489.8 1066.0C488.5 1063.3 484.3 1055.4 482.1 1049.9C479.9 1044.4 477.9 1038.8 476.6 1033.1C475.2 1027.4 473.3 1021.1 474.1 1015.5C474.8 1009.8 477.9 1004.1 480.9 999.3C483.9 994.4 487.7 990.0 492.2 986.3C496.6 982.7 502.3 980.1 507.6 977.4C512.9 974.7 518.3 972.2 523.9 970.2C529.4 968.1 535.2 966.7 541.0 965.1C546.7 963.4 552.4 961.5 558.2 960.4C564.0 959.3 570.0 959.0 576.0 958.4C581.9 957.7 587.8 957.1 593.7 956.5C599.6 955.9 605.6 954.8 611.5 955.0C617.4 955.1 623.3 956.4 629.2 957.1C635.1 957.9 641.1 958.3 647.0 959.4C652.8 960.5 658.5 962.2 664.2 963.8C669.9 965.5 675.7 967.1 681.3 969.2C686.8 971.3 692.3 973.9 697.5 976.6C702.7 979.4 708.1 982.0 712.5 985.8C717.0 989.5 721.2 994.4 724.2 999.3C727.1 1004.2 729.0 1009.6 730.2 1015.2C731.4 1020.8 732.4 1027.3 731.6 1033.0C730.7 1038.7 727.2 1044.1 725.0 1049.6C722.7 1055.1 719.1 1063.3 718.0 1066.0"/>
<path d="M492.8 1066.0C491.6 1063.4 487.5 1055.6 485.5 1050.3C483.4 1044.9 481.6 1039.5 480.3 1033.9C479.0 1028.3 477.2 1022.2 477.9 1016.7C478.6 1011.2 481.6 1005.7 484.5 1001.0C487.4 996.3 491.0 991.9 495.3 988.4C499.7 984.9 505.3 982.5 510.5 979.9C515.6 977.3 520.8 974.8 526.2 972.8C531.6 970.8 537.3 969.4 542.8 967.8C548.4 966.2 553.8 964.3 559.5 963.2C565.2 962.1 571.0 961.9 576.7 961.3C582.5 960.6 588.2 959.9 594.0 959.3C599.7 958.7 605.5 957.6 611.2 957.7C617.0 957.7 622.7 959.1 628.4 959.8C634.2 960.5 640.0 960.9 645.7 962.0C651.3 963.1 656.8 964.8 662.4 966.4C667.9 968.0 673.5 969.6 678.9 971.7C684.3 973.7 689.6 976.2 694.7 978.9C699.7 981.6 704.9 984.1 709.2 987.8C713.5 991.5 717.6 996.3 720.4 1001.1C723.2 1005.9 724.9 1011.2 726.0 1016.6C727.2 1022.1 728.2 1028.4 727.3 1033.9C726.4 1039.5 722.9 1044.6 720.7 1050.0C718.4 1055.3 715.1 1063.3 714.0 1066.0"/>
</g>
<path d="M5 0L-4 -3.9L-4 3.9Z" fill="#000" transform="translate(672.0 168.4) rotate(180)"/>
<path d="M5 0L-4 -3.9L-4 3.9Z" fill="#000" transform="translate(942.7 216.0) rotate(-142)"/>
<path d="M5 0L-4 -3.9L-4 3.9Z" fill="#000" transform="translate(1094.5 646.8) rotate(-135)"/>
<path d="M5 0L-4 -3.9L-4 3.9Z" fill="#000" transform="translate(475.7 1060.6) rotate(60)"/>
</g>
<rect x="100.3" y="16.9" width="1067.8" height="1048.7" fill="none" stroke="#b8b8b8" stroke-width="2"/>
<g stroke="#b9b9b9" stroke-width="1.25">
<line x1="179.3" y1="1225.3" x2="179.3" y2="2283.6"/>
<line x1="339.0" y1="1225.3" x2="339.0" y2="2283.6"/>
<line x1="498.7" y1="1225.3" x2="498.7" y2="2283.6"/>
<line x1="658.4" y1="1225.3" x2="658.4" y2="2283.6"/>
<line x1="818.1" y1="1225.3" x2="818.1" y2="2283.6"/>
<line x1="977.8" y1="1225.3" x2="977.8" y2="2283.6"/>
<line x1="1137.6" y1="1225.3" x2="1137.6" y2="2283.6"/>
<line x1="100.6" y1="1376.5" x2="1178.1" y2="1376.5"/>
<line x1="100.6" y1="1527.7" x2="1178.1" y2="1527.7"/>
<line x1="100.6" y1="1678.9" x2="1178.1" y2="1678.9"/>
<line x1="100.6" y1="1830.0" x2="1178.1" y2="1830.0"/>
<line x1="100.6" y1="1981.2" x2="1178.1" y2="1981.2"/>
<line x1="100.6" y1="2132.4" x2="1178.1" y2="2132.4"/>
</g>
<g clip-path="url(#cb)">
<g fill="none" stroke-width="6.2">
<circle cx="273.0" cy="1220.0" r="10.8" stroke="#f0f9ee"/>
<circle cx="303.4" cy="1220.0" r="10.8" stroke="#f0f9ee"/>
<circle cx="333.9" cy="1220.0" r="10.8" stroke="#d8d8d8"/>
<circle cx="364.4" cy="1220.0" r="10.8" stroke="#d8d8d8"/>
<circle cx="394.8" cy="1220.0" r="10.8" stroke="#d8d8d8"/>
<circle cx="425.3" cy="1220.0" r="10.8" stroke="#d8d8d8"/>
<circle cx="455.8" cy="1220.0" r="10.8" stroke="#d8d8d8"/>
<circle cx="486.3" cy="1220.0" r="10.8" stroke="#d8d8d8"/>
<circle cx="516.7" cy="1220.0" r="10.8" stroke="#d8d8d8"/>
<circle cx="547.2" cy="1220.0" r="10.8" stroke="#bebebe"/>
<circle cx="577.7" cy="1220.0" r="10.8" stroke="#bebebe"/>
<circle cx="608.2" cy="1220.0" r="10.8" stroke="#7e7e7e"/>
<circle cx="638.6" cy="1220.0" r="10.8" stroke="#7e7e7e"/>
<circle cx="669.1" cy="1220.0" r="10.8" stroke="#7e7e7e"/>
<circle cx="699.6" cy="1220.0" r="10.8" stroke="#7e7e7e"/>
<circle cx="730.1" cy="1220.0" r="10.8" stroke="#7e7e7e"/>
<circle cx="760.5" cy="1220.0" r="10.8" stroke="#7e7e7e"/>
<circle cx="791.0" cy="1220.0" r="10.8" stroke="#bebebe"/>
<circle cx="821.5" cy="1220.0" r="10.8" stroke="#bebebe"/>
<circle cx="852.0" cy="1220.0" r="10.8" stroke="#bebebe"/>
<circle cx="882.4" cy="1220.0" r="10.8" stroke="#bebebe"/>
<circle cx="912.9" cy="1220.0" r="10.8" stroke="#bebebe"/>
<circle cx="943.4" cy="1220.0" r="10.8" stroke="#bebebe"/>
<circle cx="973.9" cy="1220.0" r="10.8" stroke="#f0f9ee"/>
<circle cx="242.5" cy="1248.9" r="10.8" stroke="#bebebe"/>
<circle cx="273.0" cy="1248.9" r="10.8" stroke="#bebebe"/>
<circle cx="303.4" cy="1248.9" r="10.8" stroke="#bebebe"/>
<circle cx="333.9" cy="1248.9" r="10.8" stroke="#d8d8d8"/>
<circle cx="364.4" cy="1248.9" r="10.8" stroke="#d8d8d8"/>
<circle cx="394.8" cy="1248.9" r="10.8" stroke="#d8d8d8"/>
<circle cx="425.3" cy="1248.9" r="10.8" stroke="#d8d8d8"/>
<circle cx="455.8" cy="1248.9" r="10.8" stroke="#d8d8d8"/>
<circle cx="486.3" cy="1248.9" r="10.8" stroke="#d8d8d8"/>
<circle cx="516.7" cy="1248.9" r="10.8" stroke="#bebebe"/>
<circle cx="547.2" cy="1248.9" r="10.8" stroke="#bebebe"/>
<circle cx="577.7" cy="1248.9" r="10.8" stroke="#bebebe"/>
<circle cx="608.2" cy="1248.9" r="10.8" stroke="#7e7e7e"/>
<circle cx="638.6" cy="1248.9" r="10.8" stroke="#595959"/>
<circle cx="669.1" cy="1248.9" r="10.8" stroke="#595959"/>
<circle cx="699.6" cy="1248.9" r="10.8" stroke="#7e7e7e"/>
<circle cx="730.1" cy="1248.9" r="10.8" stroke="#7e7e7e"/>
<circle cx="760.5" cy="1248.9" r="10.8" stroke="#a9a9a9"/>
<circle cx="791.0" cy="1248.9" r="10.8" stroke="#bebebe"/>
<circle cx="821.5" cy="1248.9" r="10.8" stroke="#d8d8d8"/>
<circle cx="852.0" cy="1248.9" r="10.8" stroke="#d8d8d8"/>
<circle cx="882.4" cy="1248.9" r="10.8" stroke="#d8d8d8"/>
<circle cx="912.9" cy="1248.9" r="10.8" stroke="#d8d8d8"/>
<circle cx="943.4" cy="1248.9" r="10.8" stroke="#bebebe"/>
<circle cx="973.9" cy="1248.9" r="10.8" stroke="#bebebe"/>
<circle cx="1004.3" cy="1248.9" r="10.8" stroke="#a9a9a9"/>
<circle cx="1034.8" cy="1248.9" r="10.8" stroke="#a9a9a9"/>
<circle cx="181.5" cy="1277.8" r="10.8" stroke="#f0f9ee"/>
<circle cx="212.0" cy="1277.8" r="10.8" stroke="#bebebe"/>
<circle cx="242.5" cy="1277.8" r="10.8" stroke="#bebebe"/>
<circle cx="273.0" cy="1277.8" r="10.8" stroke="#bebebe"/>
<circle cx="303.4" cy="1277.8" r="10.8" stroke="#d8d8d8"/>
<circle cx="333.9" cy="1277.8" r="10.8" stroke="#d8d8d8"/>
<circle cx="364.4" cy="1277.8" r="10.8" stroke="#d8d8d8"/>
<circle cx="394.8" cy="1277.8" r="10.8" stroke="#d8d8d8"/>
<circle cx="425.3" cy="1277.8" r="10.8" stroke="#ebebeb"/>
<circle cx="455.8" cy="1277.8" r="10.8" stroke="#ebebeb"/>
<circle cx="486.3" cy="1277.8" r="10.8" stroke="#d8d8d8"/>
<circle cx="516.7" cy="1277.8" r="10.8" stroke="#d8d8d8"/>
<circle cx="547.2" cy="1277.8" r="10.8" stroke="#bebebe"/>
<circle cx="577.7" cy="1277.8" r="10.8" stroke="#a9a9a9"/>
<circle cx="608.2" cy="1277.8" r="10.8" stroke="#7e7e7e"/>
<circle cx="638.6" cy="1277.8" r="10.8" stroke="#a9a9a9"/>
<circle cx="669.1" cy="1277.8" r="10.8" stroke="#595959"/>
<circle cx="699.6" cy="1277.8" r="10.8" stroke="#7e7e7e"/>
<circle cx="730.1" cy="1277.8" r="10.8" stroke="#7e7e7e"/>
<circle cx="760.5" cy="1277.8" r="10.8" stroke="#a9a9a9"/>
<circle cx="791.0" cy="1277.8" r="10.8" stroke="#bebebe"/>
<circle cx="821.5" cy="1277.8" r="10.8" stroke="#d8d8d8"/>
<circle cx="852.0" cy="1277.8" r="10.8" stroke="#d8d8d8"/>
<circle cx="882.4" cy="1277.8" r="10.8" stroke="#d8d8d8"/>
<circle cx="912.9" cy="1277.8" r="10.8" stroke="#d8d8d8"/>
<circle cx="943.4" cy="1277.8" r="10.8" stroke="#d8d8d8"/>
<circle cx="973.9" cy="1277.8" r="10.8" stroke="#d8d8d8"/>
<circle cx="1004.3" cy="1277.8" r="10.8" stroke="#bebebe"/>
<circle cx="1034.8" cy="1277.8" r="10.8" stroke="#bebebe"/>
<circle cx="1065.3" cy="1277.8" r="10.8" stroke="#a9a9a9"/>
<circle cx="1095.8" cy="1277.8" r="10.8" stroke="#f0f9ee"/>
<circle cx="120.6" cy="1306.7" r="10.8" stroke="#f0f9ee"/>
<circle cx="151.1" cy="1306.7" r="10.8" stroke="#bebebe"/>
<circle cx="181.5" cy="1306.7" r="10.8" stroke="#bebebe"/>
<circle cx="212.0" cy="1306.7" r="10.8" stroke="#bebebe"/>
<circle cx="242.5" cy="1306.7" r="10.8" stroke="#d8d8d8"/>
<circle cx="273.0" cy="1306.7" r="10.8" stroke="#d8d8d8"/>
<circle cx="303.4" cy="1306.7" r="10.8" stroke="#d8d8d8"/>
<circle cx="333.9" cy="1306.7" r="10.8" stroke="#ebebeb"/>
<circle cx="364.4" cy="1306.7" r="10.8" stroke="#ebebeb"/>
<circle cx="394.8" cy="1306.7" r="10.8" stroke="#ebebeb"/>
<circle cx="425.3" cy="1306.7" r="10.8" stroke="#ebebeb"/>
<circle cx="455.8" cy="1306.7" r="10.8" stroke="#ebebeb"/>
<circle cx="486.3" cy="1306.7" r="10.8" stroke="#ebebeb"/>
<circle cx="516.7" cy="1306.7" r="10.8" stroke="#d8d8d8"/>
<circle cx="547.2" cy="1306.7" r="10.8" stroke="#d8d8d8"/>
<circle cx="577.7" cy="1306.7" r="10.8" stroke="#d8d8d8"/>
<circle cx="608.2" cy="1306.7" r="10.8" stroke="#d8d8d8"/>
<circle cx="638.6" cy="1306.7" r="10.8" stroke="#d8d8d8"/>
<circle cx="669.1" cy="1306.7" r="10.8" stroke="#d8d8d8"/>
<circle cx="699.6" cy="1306.7" r="10.8" stroke="#d8d8d8"/>
<circle cx="730.1" cy="1306.7" r="10.8" stroke="#bebebe"/>
<circle cx="760.5" cy="1306.7" r="10.8" stroke="#a9a9a9"/>
<circle cx="791.0" cy="1306.7" r="10.8" stroke="#bebebe"/>
<circle cx="821.5" cy="1306.7" r="10.8" stroke="#bebebe"/>
<circle cx="852.0" cy="1306.7" r="10.8" stroke="#d8d8d8"/>
<circle cx="882.4" cy="1306.7" r="10.8" stroke="#ebebeb"/>
<circle cx="912.9" cy="1306.7" r="10.8" stroke="#ebebeb"/>
<circle cx="943.4" cy="1306.7" r="10.8" stroke="#ebebeb"/>
<circle cx="973.9" cy="1306.7" r="10.8" stroke="#d8d8d8"/>
<circle cx="1004.3" cy="1306.7" r="10.8" stroke="#d8d8d8"/>
<circle cx="1034.8" cy="1306.7" r="10.8" stroke="#d8d8d8"/>
<circle cx="1065.3" cy="1306.7" r="10.8" stroke="#bebebe"/>
<circle cx="1095.8" cy="1306.7" r="10.8" stroke="#a9a9a9"/>
<circle cx="1126.2" cy="1306.7" r="10.8" stroke="#a9a9a9"/>
<circle cx="1156.7" cy="1306.7" r="10.8" stroke="#f0f9ee"/>
<circle cx="90.1" cy="1335.6" r="10.8" stroke="#a9a9a9"/>
<circle cx="120.6" cy="1335.6" r="10.8" stroke="#a9a9a9"/>
<circle cx="151.1" cy="1335.6" r="10.8" stroke="#bebebe"/>
<circle cx="181.5" cy="1335.6" r="10.8" stroke="#bebebe"/>
<circle cx="212.0" cy="1335.6" r="10.8" stroke="#d8d8d8"/>
<circle cx="242.5" cy="1335.6" r="10.8" stroke="#d8d8d8"/>
<circle cx="273.0" cy="1335.6" r="10.8" stroke="#d8d8d8"/>
<circle cx="303.4" cy="1335.6" r="10.8" stroke="#ebebeb"/>
<circle cx="333.9" cy="1335.6" r="10.8" stroke="#ebebeb"/>
<circle cx="364.4" cy="1335.6" r="10.8" stroke="#ebebeb"/>
<circle cx="394.8" cy="1335.6" r="10.8" stroke="#ebebeb"/>
<circle cx="425.3" cy="1335.6" r="10.8" stroke="#ebebeb"/>
<circle cx="455.8" cy="1335.6" r="10.8" stroke="#ebebeb"/>
<circle cx="486.3" cy="1335.6" r="10.8" stroke="#ebebeb"/>
<circle cx="516.7" cy="1335.6" r="10.8" stroke="#ebebeb"/>
<circle cx="760.5" cy="1335.6" r="10.8" stroke="#d8d8d8"/>
<circle cx="791.0" cy="1335.6" r="10.8" stroke="#d8d8d8"/>
<circle cx="821.5" cy="1335.6" r="10.8" stroke="#d8d8d8"/>
<circle cx="852.0" cy="1335.6" r="10.8" stroke="#ebebeb"/>
<circle cx="882.4" cy="1335.6" r="10.8" stroke="#ebebeb"/>
<circle cx="912.9" cy="1335.6" r="10.8" stroke="#ebebeb"/>
<circle cx="943.4" cy="1335.6" r="10.8" stroke="#ebebeb"/>
<circle cx="973.9" cy="1335.6" r="10.8" stroke="#ebebeb"/>
<circle cx="1004.3" cy="1335.6" r="10.8" stroke="#ebebeb"/>
<circle cx="1034.8" cy="1335.6" r="10.8" stroke="#d8d8d8"/>
<circle cx="1065.3" cy="1335.6" r="10.8" stroke="#d8d8d8"/>
<circle cx="1095.8" cy="1335.6" r="10.8" stroke="#bebebe"/>
<circle cx="1126.2" cy="1335.6" r="10.8" stroke="#bebebe"/>
<circle cx="1156.7" cy="1335.6" r="10.8" stroke="#a9a9a9"/>
<circle cx="1187.2" cy="1335.6" r="10.8" stroke="#a9a9a9"/>
<circle cx="90.1" cy="1364.5" r="10.8" stroke="#a9a9a9"/>
<circle cx="120.6" cy="1364.5" r="10.8" stroke="#a9a9a9"/>
<circle cx="151.1" cy="1364.5" r="10.8" stroke="#bebebe"/>
<circle cx="181.5" cy="1364.5" r="10.8" stroke="#bebebe"/>
<circle cx="212.0" cy="1364.5" r="10.8" stroke="#d8d8d8"/>
<circle cx="242.5" cy="1364.5" r="10.8" stroke="#d8d8d8"/>
<circle cx="273.0" cy="1364.5" r="10.8" stroke="#ebebeb"/>
<circle cx="303.4" cy="1364.5" r="10.8" stroke="#ebebeb"/>
<circle cx="333.9" cy="1364.5" r="10.8" stroke="#ebebeb"/>
<circle cx="364.4" cy="1364.5" r="10.8" stroke="#ebebeb"/>
<circle cx="394.8" cy="1364.5" r="10.8" stroke="#ebebeb"/>
<circle cx="425.3" cy="1364.5" r="10.8" stroke="#ebebeb"/>
<circle cx="455.8" cy="1364.5" r="10.8" stroke="#ebebeb"/>
<circle cx="791.0" cy="1364.5" r="10.8" stroke="#d8d8d8"/>
<circle cx="821.5" cy="1364.5" r="10.8" stroke="#ebebeb"/>
<circle cx="852.0" cy="1364.5" r="10.8" stroke="#ebebeb"/>
<circle cx="882.4" cy="1364.5" r="10.8" stroke="#ebebeb"/>
<circle cx="912.9" cy="1364.5" r="10.8" stroke="#ebebeb"/>
<circle cx="943.4" cy="1364.5" r="10.8" stroke="#ebebeb"/>
<circle cx="973.9" cy="1364.5" r="10.8" stroke="#ebebeb"/>
<circle cx="1004.3" cy="1364.5" r="10.8" stroke="#ebebeb"/>
<circle cx="1034.8" cy="1364.5" r="10.8" stroke="#ebebeb"/>
<circle cx="1065.3" cy="1364.5" r="10.8" stroke="#d8d8d8"/>
<circle cx="1095.8" cy="1364.5" r="10.8" stroke="#bebebe"/>
<circle cx="1126.2" cy="1364.5" r="10.8" stroke="#bebebe"/>
<circle cx="1156.7" cy="1364.5" r="10.8" stroke="#a9a9a9"/>
<circle cx="1187.2" cy="1364.5" r="10.8" stroke="#a9a9a9"/>
<circle cx="90.1" cy="1393.4" r="10.8" stroke="#bebebe"/>
<circle cx="120.6" cy="1393.4" r="10.8" stroke="#bebebe"/>
<circle cx="151.1" cy="1393.4" r="10.8" stroke="#bebebe"/>
<circle cx="181.5" cy="1393.4" r="10.8" stroke="#bebebe"/>
<circle cx="212.0" cy="1393.4" r="10.8" stroke="#d8d8d8"/>
<circle cx="242.5" cy="1393.4" r="10.8" stroke="#d8d8d8"/>
<circle cx="273.0" cy="1393.4" r="10.8" stroke="#ebebeb"/>
<circle cx="303.4" cy="1393.4" r="10.8" stroke="#ebebeb"/>
<circle cx="333.9" cy="1393.4" r="10.8" stroke="#ebebeb"/>
<circle cx="364.4" cy="1393.4" r="10.8" stroke="#ebebeb"/>
<circle cx="577.7" cy="1393.4" r="10.8" stroke="#f0f9ee"/>
<circle cx="608.2" cy="1393.4" r="10.8" stroke="#f0f9ee"/>
<circle cx="638.6" cy="1393.4" r="10.8" stroke="#f0f9ee"/>
<circle cx="669.1" cy="1393.4" r="10.8" stroke="#f0f9ee"/>
<circle cx="699.6" cy="1393.4" r="10.8" stroke="#f0f9ee"/>
<circle cx="730.1" cy="1393.4" r="10.8" stroke="#f0f9ee"/>
<circle cx="821.5" cy="1393.4" r="10.8" stroke="#ebebeb"/>
<circle cx="852.0" cy="1393.4" r="10.8" stroke="#ebebeb"/>
<circle cx="882.4" cy="1393.4" r="10.8" stroke="#ebebeb"/>
<circle cx="912.9" cy="1393.4" r="10.8" stroke="#ebebeb"/>
<circle cx="943.4" cy="1393.4" r="10.8" stroke="#ebebeb"/>
<circle cx="973.9" cy="1393.4" r="10.8" stroke="#ebebeb"/>
<circle cx="1004.3" cy="1393.4" r="10.8" stroke="#ebebeb"/>
<circle cx="1034.8" cy="1393.4" r="10.8" stroke="#ebebeb"/>
<circle cx="1065.3" cy="1393.4" r="10.8" stroke="#d8d8d8"/>
<circle cx="1095.8" cy="1393.4" r="10.8" stroke="#d8d8d8"/>
<circle cx="1126.2" cy="1393.4" r="10.8" stroke="#bebebe"/>
<circle cx="1156.7" cy="1393.4" r="10.8" stroke="#bebebe"/>
<circle cx="1187.2" cy="1393.4" r="10.8" stroke="#bebebe"/>
<circle cx="90.1" cy="1422.3" r="10.8" stroke="#bebebe"/>
<circle cx="120.6" cy="1422.3" r="10.8" stroke="#bebebe"/>
<circle cx="151.1" cy="1422.3" r="10.8" stroke="#bebebe"/>
<circle cx="181.5" cy="1422.3" r="10.8" stroke="#d8d8d8"/>
<circle cx="212.0" cy="1422.3" r="10.8" stroke="#d8d8d8"/>
<circle cx="242.5" cy="1422.3" r="10.8" stroke="#ebebeb"/>
<circle cx="273.0" cy="1422.3" r="10.8" stroke="#ebebeb"/>
<circle cx="303.4" cy="1422.3" r="10.8" stroke="#ebebeb"/>
<circle cx="333.9" cy="1422.3" r="10.8" stroke="#ebebeb"/>
<circle cx="364.4" cy="1422.3" r="10.8" stroke="#f0f9ee"/>
<circle cx="394.8" cy="1422.3" r="10.8" stroke="#f0f9ee"/>
<circle cx="943.4" cy="1422.3" r="10.8" stroke="#f0f9ee"/>
<circle cx="1034.8" cy="1422.3" r="10.8" stroke="#ebebeb"/>
<circle cx="1065.3" cy="1422.3" r="10.8" stroke="#d8d8d8"/>
<circle cx="1095.8" cy="1422.3" r="10.8" stroke="#d8d8d8"/>
<circle cx="1126.2" cy="1422.3" r="10.8" stroke="#d8d8d8"/>
<circle cx="1156.7" cy="1422.3" r="10.8" stroke="#bebebe"/>
<circle cx="1187.2" cy="1422.3" r="10.8" stroke="#bebebe"/>
<circle cx="90.1" cy="1451.2" r="10.8" stroke="#bebebe"/>
<circle cx="120.6" cy="1451.2" r="10.8" stroke="#bebebe"/>
<circle cx="151.1" cy="1451.2" r="10.8" stroke="#bebebe"/>
<circle cx="181.5" cy="1451.2" r="10.8" stroke="#d8d8d8"/>
<circle cx="212.0" cy="1451.2" r="10.8" stroke="#d8d8d8"/>
<circle cx="242.5" cy="1451.2" r="10.8" stroke="#ebebeb"/>
<circle cx="273.0" cy="1451.2" r="10.8" stroke="#ebebeb"/>
<circle cx="303.4" cy="1451.2" r="10.8" stroke="#ebebeb"/>
<circle cx="333.9" cy="1451.2" r="10.8" stroke="#f0f9ee"/>
<circle cx="364.4" cy="1451.2" r="10.8" stroke="#f0f9ee"/>
<circle cx="394.8" cy="1451.2" r="10.8" stroke="#f0f9ee"/>
<circle cx="425.3" cy="1451.2" r="10.8" stroke="#f0f9ee"/>
<circle cx="455.8" cy="1451.2" r="10.8" stroke="#f0f9ee"/>
<circle cx="486.3" cy="1451.2" r="10.8" stroke="#cbeac5"/>
<circle cx="516.7" cy="1451.2" r="10.8" stroke="#cbeac5"/>
<circle cx="760.5" cy="1451.2" r="10.8" stroke="#cbeac5"/>
<circle cx="791.0" cy="1451.2" r="10.8" stroke="#f0f9ee"/>
<circle cx="912.9" cy="1451.2" r="10.8" stroke="#f0f9ee"/>
<circle cx="943.4" cy="1451.2" r="10.8" stroke="#f0f9ee"/>
<circle cx="973.9" cy="1451.2" r="10.8" stroke="#f0f9ee"/>
<circle cx="1034.8" cy="1451.2" r="10.8" stroke="#ebebeb"/>
<circle cx="1065.3" cy="1451.2" r="10.8" stroke="#ebebeb"/>
<circle cx="1095.8" cy="1451.2" r="10.8" stroke="#d8d8d8"/>
<circle cx="1126.2" cy="1451.2" r="10.8" stroke="#d8d8d8"/>
<circle cx="1156.7" cy="1451.2" r="10.8" stroke="#d8d8d8"/>
<circle cx="1187.2" cy="1451.2" r="10.8" stroke="#d8d8d8"/>
<circle cx="90.1" cy="1480.2" r="10.8" stroke="#bebebe"/>
<circle cx="120.6" cy="1480.2" r="10.8" stroke="#bebebe"/>
<circle cx="151.1" cy="1480.2" r="10.8" stroke="#d8d8d8"/>
<circle cx="181.5" cy="1480.2" r="10.8" stroke="#d8d8d8"/>
<circle cx="212.0" cy="1480.2" r="10.8" stroke="#d8d8d8"/>
<circle cx="242.5" cy="1480.2" r="10.8" stroke="#ebebeb"/>
<circle cx="273.0" cy="1480.2" r="10.8" stroke="#ebebeb"/>
<circle cx="303.4" cy="1480.2" r="10.8" stroke="#f0f9ee"/>
<circle cx="333.9" cy="1480.2" r="10.8" stroke="#f0f9ee"/>
<circle cx="364.4" cy="1480.2" r="10.8" stroke="#cbeac5"/>
<circle cx="394.8" cy="1480.2" r="10.8" stroke="#abdda5"/>
<circle cx="425.3" cy="1480.2" r="10.8" stroke="#cbeac5"/>
<circle cx="455.8" cy="1480.2" r="10.8" stroke="#cbeac5"/>
<circle cx="486.3" cy="1480.2" r="10.8" stroke="#abdda5"/>
<circle cx="516.7" cy="1480.2" r="10.8" stroke="#80ca80"/>
<circle cx="760.5" cy="1480.2" r="10.8" stroke="#abdda5"/>
<circle cx="791.0" cy="1480.2" r="10.8" stroke="#f0f9ee"/>
<circle cx="821.5" cy="1480.2" r="10.8" stroke="#f0f9ee"/>
<circle cx="852.0" cy="1480.2" r="10.8" stroke="#f0f9ee"/>
<circle cx="882.4" cy="1480.2" r="10.8" stroke="#cbeac5"/>
<circle cx="912.9" cy="1480.2" r="10.8" stroke="#cbeac5"/>
<circle cx="943.4" cy="1480.2" r="10.8" stroke="#f0f9ee"/>
<circle cx="973.9" cy="1480.2" r="10.8" stroke="#f0f9ee"/>
<circle cx="1004.3" cy="1480.2" r="10.8" stroke="#f0f9ee"/>
<circle cx="1065.3" cy="1480.2" r="10.8" stroke="#ebebeb"/>
<circle cx="1095.8" cy="1480.2" r="10.8" stroke="#ebebeb"/>
<circle cx="1126.2" cy="1480.2" r="10.8" stroke="#d8d8d8"/>
<circle cx="1156.7" cy="1480.2" r="10.8" stroke="#d8d8d8"/>
<circle cx="1187.2" cy="1480.2" r="10.8" stroke="#d8d8d8"/>
<circle cx="90.1" cy="1509.1" r="10.8" stroke="#bebebe"/>
<circle cx="120.6" cy="1509.1" r="10.8" stroke="#bebebe"/>
<circle cx="151.1" cy="1509.1" r="10.8" stroke="#d8d8d8"/>
<circle cx="181.5" cy="1509.1" r="10.8" stroke="#d8d8d8"/>
<circle cx="212.0" cy="1509.1" r="10.8" stroke="#ebebeb"/>
<circle cx="242.5" cy="1509.1" r="10.8" stroke="#ebebeb"/>
<circle cx="273.0" cy="1509.1" r="10.8" stroke="#ebebeb"/>
<circle cx="303.4" cy="1509.1" r="10.8" stroke="#f0f9ee"/>
<circle cx="333.9" cy="1509.1" r="10.8" stroke="#cbeac5"/>
<circle cx="364.4" cy="1509.1" r="10.8" stroke="#cbeac5"/>
<circle cx="394.8" cy="1509.1" r="10.8" stroke="#abdda5"/>
<circle cx="425.3" cy="1509.1" r="10.8" stroke="#2e964e"/>
<circle cx="455.8" cy="1509.1" r="10.8" stroke="#2e964e"/>
<circle cx="486.3" cy="1509.1" r="10.8" stroke="#2e964e"/>
<circle cx="516.7" cy="1509.1" r="10.8" stroke="#10783a"/>
<circle cx="760.5" cy="1509.1" r="10.8" stroke="#80ca80"/>
<circle cx="791.0" cy="1509.1" r="10.8" stroke="#abdda5"/>
<circle cx="821.5" cy="1509.1" r="10.8" stroke="#abdda5"/>
<circle cx="852.0" cy="1509.1" r="10.8" stroke="#80ca80"/>
<circle cx="882.4" cy="1509.1" r="10.8" stroke="#abdda5"/>
<circle cx="912.9" cy="1509.1" r="10.8" stroke="#cbeac5"/>
<circle cx="943.4" cy="1509.1" r="10.8" stroke="#cbeac5"/>
<circle cx="973.9" cy="1509.1" r="10.8" stroke="#cbeac5"/>
<circle cx="1004.3" cy="1509.1" r="10.8" stroke="#f0f9ee"/>
<circle cx="1065.3" cy="1509.1" r="10.8" stroke="#ebebeb"/>
<circle cx="1095.8" cy="1509.1" r="10.8" stroke="#ebebeb"/>
<circle cx="1126.2" cy="1509.1" r="10.8" stroke="#d8d8d8"/>
<circle cx="1156.7" cy="1509.1" r="10.8" stroke="#d8d8d8"/>
<circle cx="1187.2" cy="1509.1" r="10.8" stroke="#d8d8d8"/>
<circle cx="90.1" cy="1538.0" r="10.8" stroke="#d8d8d8"/>
<circle cx="120.6" cy="1538.0" r="10.8" stroke="#d8d8d8"/>
<circle cx="151.1" cy="1538.0" r="10.8" stroke="#d8d8d8"/>
<circle cx="181.5" cy="1538.0" r="10.8" stroke="#d8d8d8"/>
<circle cx="212.0" cy="1538.0" r="10.8" stroke="#ebebeb"/>
<circle cx="242.5" cy="1538.0" r="10.8" stroke="#ebebeb"/>
<circle cx="273.0" cy="1538.0" r="10.8" stroke="#f0f9ee"/>
<circle cx="303.4" cy="1538.0" r="10.8" stroke="#f0f9ee"/>
<circle cx="333.9" cy="1538.0" r="10.8" stroke="#cbeac5"/>
<circle cx="364.4" cy="1538.0" r="10.8" stroke="#abdda5"/>
<circle cx="394.8" cy="1538.0" r="10.8" stroke="#52b266"/>
<circle cx="425.3" cy="1538.0" r="10.8" stroke="#00471c"/>
<circle cx="455.8" cy="1538.0" r="10.8" stroke="#10783a"/>
<circle cx="486.3" cy="1538.0" r="10.8" stroke="#10783a"/>
<circle cx="516.7" cy="1538.0" r="10.8" stroke="#00471c"/>
<circle cx="760.5" cy="1538.0" r="10.8" stroke="#00471c"/>
<circle cx="791.0" cy="1538.0" r="10.8" stroke="#00471c"/>
<circle cx="821.5" cy="1538.0" r="10.8" stroke="#10783a"/>
<circle cx="852.0" cy="1538.0" r="10.8" stroke="#52b266"/>
<circle cx="882.4" cy="1538.0" r="10.8" stroke="#abdda5"/>
<circle cx="912.9" cy="1538.0" r="10.8" stroke="#abdda5"/>
<circle cx="943.4" cy="1538.0" r="10.8" stroke="#abdda5"/>
<circle cx="973.9" cy="1538.0" r="10.8" stroke="#cbeac5"/>
<circle cx="1004.3" cy="1538.0" r="10.8" stroke="#f0f9ee"/>
<circle cx="1065.3" cy="1538.0" r="10.8" stroke="#ebebeb"/>
<circle cx="1095.8" cy="1538.0" r="10.8" stroke="#ebebeb"/>
<circle cx="1126.2" cy="1538.0" r="10.8" stroke="#ebebeb"/>
<circle cx="1156.7" cy="1538.0" r="10.8" stroke="#d8d8d8"/>
<circle cx="1187.2" cy="1538.0" r="10.8" stroke="#d8d8d8"/>
<circle cx="90.1" cy="1566.9" r="10.8" stroke="#d8d8d8"/>
<circle cx="120.6" cy="1566.9" r="10.8" stroke="#d8d8d8"/>
<circle cx="151.1" cy="1566.9" r="10.8" stroke="#d8d8d8"/>
<circle cx="181.5" cy="1566.9" r="10.8" stroke="#ebebeb"/>
<circle cx="212.0" cy="1566.9" r="10.8" stroke="#ebebeb"/>
<circle cx="242.5" cy="1566.9" r="10.8" stroke="#ebebeb"/>
<circle cx="273.0" cy="1566.9" r="10.8" stroke="#f0f9ee"/>
<circle cx="303.4" cy="1566.9" r="10.8" stroke="#cbeac5"/>
<circle cx="333.9" cy="1566.9" r="10.8" stroke="#abdda5"/>
<circle cx="364.4" cy="1566.9" r="10.8" stroke="#52b266"/>
<circle cx="394.8" cy="1566.9" r="10.8" stroke="#00471c"/>
<circle cx="425.3" cy="1566.9" r="10.8" stroke="#2e964e"/>
<circle cx="455.8" cy="1566.9" r="10.8" stroke="#80ca80"/>
<circle cx="486.3" cy="1566.9" r="10.8" stroke="#80ca80"/>
<circle cx="516.7" cy="1566.9" r="10.8" stroke="#80ca80"/>
<circle cx="760.5" cy="1566.9" r="10.8" stroke="#2e964e"/>
<circle cx="791.0" cy="1566.9" r="10.8" stroke="#52b266"/>
<circle cx="821.5" cy="1566.9" r="10.8" stroke="#80ca80"/>
<circle cx="852.0" cy="1566.9" r="10.8" stroke="#2e964e"/>
<circle cx="882.4" cy="1566.9" r="10.8" stroke="#52b266"/>
<circle cx="912.9" cy="1566.9" r="10.8" stroke="#80ca80"/>
<circle cx="943.4" cy="1566.9" r="10.8" stroke="#abdda5"/>
<circle cx="973.9" cy="1566.9" r="10.8" stroke="#cbeac5"/>
<circle cx="1004.3" cy="1566.9" r="10.8" stroke="#cbeac5"/>
<circle cx="1034.8" cy="1566.9" r="10.8" stroke="#f0f9ee"/>
<circle cx="1095.8" cy="1566.9" r="10.8" stroke="#ebebeb"/>
<circle cx="1126.2" cy="1566.9" r="10.8" stroke="#ebebeb"/>
<circle cx="1156.7" cy="1566.9" r="10.8" stroke="#ebebeb"/>
<circle cx="1187.2" cy="1566.9" r="10.8" stroke="#ebebeb"/>
<circle cx="90.1" cy="1595.8" r="10.8" stroke="#d8d8d8"/>
<circle cx="120.6" cy="1595.8" r="10.8" stroke="#d8d8d8"/>
<circle cx="151.1" cy="1595.8" r="10.8" stroke="#d8d8d8"/>
<circle cx="181.5" cy="1595.8" r="10.8" stroke="#ebebeb"/>
<circle cx="212.0" cy="1595.8" r="10.8" stroke="#ebebeb"/>
<circle cx="242.5" cy="1595.8" r="10.8" stroke="#ebebeb"/>
<circle cx="273.0" cy="1595.8" r="10.8" stroke="#f0f9ee"/>
<circle cx="303.4" cy="1595.8" r="10.8" stroke="#cbeac5"/>
<circle cx="333.9" cy="1595.8" r="10.8" stroke="#abdda5"/>
<circle cx="364.4" cy="1595.8" r="10.8" stroke="#2e964e"/>
<circle cx="394.8" cy="1595.8" r="10.8" stroke="#00471c"/>
<circle cx="425.3" cy="1595.8" r="10.8" stroke="#abdda5"/>
<circle cx="455.8" cy="1595.8" r="10.8" stroke="#f0f9ee"/>
<circle cx="486.3" cy="1595.8" r="10.8" stroke="#f0f9ee"/>
<circle cx="516.7" cy="1595.8" r="10.8" stroke="#f0f9ee"/>
<circle cx="760.5" cy="1595.8" r="10.8" stroke="#cbeac5"/>
<circle cx="791.0" cy="1595.8" r="10.8" stroke="#abdda5"/>
<circle cx="821.5" cy="1595.8" r="10.8" stroke="#cbeac5"/>
<circle cx="852.0" cy="1595.8" r="10.8" stroke="#abdda5"/>
<circle cx="882.4" cy="1595.8" r="10.8" stroke="#00471c"/>
<circle cx="912.9" cy="1595.8" r="10.8" stroke="#00471c"/>
<circle cx="943.4" cy="1595.8" r="10.8" stroke="#80ca80"/>
<circle cx="973.9" cy="1595.8" r="10.8" stroke="#abdda5"/>
<circle cx="1004.3" cy="1595.8" r="10.8" stroke="#cbeac5"/>
<circle cx="1034.8" cy="1595.8" r="10.8" stroke="#f0f9ee"/>
<circle cx="1065.3" cy="1595.8" r="10.8" stroke="#ebebeb"/>
<circle cx="1095.8" cy="1595.8" r="10.8" stroke="#ebebeb"/>
<circle cx="1126.2" cy="1595.8" r="10.8" stroke="#ebebeb"/>
<circle cx="1156.7" cy="1595.8" r="10.8" stroke="#ebebeb"/>
<circle cx="1187.2" cy="1595.8" r="10.8" stroke="#ebebeb"/>
<circle cx="90.1" cy="1624.7" r="10.8" stroke="#d8d8d8"/>
<circle cx="120.6" cy="1624.7" r="10.8" stroke="#d8d8d8"/>
<circle cx="151.1" cy="1624.7" r="10.8" stroke="#ebebeb"/>
<circle cx="181.5" cy="1624.7" r="10.8" stroke="#ebebeb"/>
<circle cx="212.0" cy="1624.7" r="10.8" stroke="#ebebeb"/>
<circle cx="242.5" cy="1624.7" r="10.8" stroke="#f0f9ee"/>
<circle cx="273.0" cy="1624.7" r="10.8" stroke="#cbeac5"/>
<circle cx="303.4" cy="1624.7" r="10.8" stroke="#abdda5"/>
<circle cx="333.9" cy="1624.7" r="10.8" stroke="#80ca80"/>
<circle cx="364.4" cy="1624.7" r="10.8" stroke="#10783a"/>
<circle cx="394.8" cy="1624.7" r="10.8" stroke="#00471c"/>
<circle cx="425.3" cy="1624.7" r="10.8" stroke="#abdda5"/>
<circle cx="455.8" cy="1624.7" r="10.8" stroke="#f0f9ee"/>
<circle cx="608.2" cy="1624.7" r="10.8" stroke="#f0f9ee"/>
<circle cx="638.6" cy="1624.7" r="10.8" stroke="#f0f9ee"/>
<circle cx="669.1" cy="1624.7" r="10.8" stroke="#f0f9ee"/>
<circle cx="791.0" cy="1624.7" r="10.8" stroke="#f0f9ee"/>
<circle cx="821.5" cy="1624.7" r="10.8" stroke="#cbeac5"/>
<circle cx="852.0" cy="1624.7" r="10.8" stroke="#abdda5"/>
<circle cx="882.4" cy="1624.7" r="10.8" stroke="#00471c"/>
<circle cx="912.9" cy="1624.7" r="10.8" stroke="#00471c"/>
<circle cx="943.4" cy="1624.7" r="10.8" stroke="#52b266"/>
<circle cx="973.9" cy="1624.7" r="10.8" stroke="#80ca80"/>
<circle cx="1004.3" cy="1624.7" r="10.8" stroke="#cbeac5"/>
<circle cx="1034.8" cy="1624.7" r="10.8" stroke="#f0f9ee"/>
<circle cx="1065.3" cy="1624.7" r="10.8" stroke="#ebebeb"/>
<circle cx="1095.8" cy="1624.7" r="10.8" stroke="#ebebeb"/>
<circle cx="1126.2" cy="1624.7" r="10.8" stroke="#ebebeb"/>
<circle cx="1156.7" cy="1624.7" r="10.8" stroke="#ebebeb"/>
<circle cx="1187.2" cy="1624.7" r="10.8" stroke="#ebebeb"/>
<circle cx="90.1" cy="1653.6" r="10.8" stroke="#d8d8d8"/>
<circle cx="120.6" cy="1653.6" r="10.8" stroke="#d8d8d8"/>
<circle cx="151.1" cy="1653.6" r="10.8" stroke="#ebebeb"/>
<circle cx="181.5" cy="1653.6" r="10.8" stroke="#ebebeb"/>
<circle cx="212.0" cy="1653.6" r="10.8" stroke="#ebebeb"/>
<circle cx="242.5" cy="1653.6" r="10.8" stroke="#f0f9ee"/>
<circle cx="273.0" cy="1653.6" r="10.8" stroke="#cbeac5"/>
<circle cx="303.4" cy="1653.6" r="10.8" stroke="#abdda5"/>
<circle cx="333.9" cy="1653.6" r="10.8" stroke="#80ca80"/>
<circle cx="364.4" cy="1653.6" r="10.8" stroke="#10783a"/>
<circle cx="394.8" cy="1653.6" r="10.8" stroke="#10783a"/>
<circle cx="425.3" cy="1653.6" r="10.8" stroke="#abdda5"/>
<circle cx="791.0" cy="1653.6" r="10.8" stroke="#bebebe"/>
<circle cx="821.5" cy="1653.6" r="10.8" stroke="#d8d8d8"/>
<circle cx="852.0" cy="1653.6" r="10.8" stroke="#abdda5"/>
<circle cx="882.4" cy="1653.6" r="10.8" stroke="#10783a"/>
<circle cx="912.9" cy="1653.6" r="10.8" stroke="#10783a"/>
<circle cx="943.4" cy="1653.6" r="10.8" stroke="#80ca80"/>
<circle cx="973.9" cy="1653.6" r="10.8" stroke="#abdda5"/>
<circle cx="1004.3" cy="1653.6" r="10.8" stroke="#cbeac5"/>
<circle cx="1034.8" cy="1653.6" r="10.8" stroke="#f0f9ee"/>
<circle cx="1065.3" cy="1653.6" r="10.8" stroke="#f0f9ee"/>
<circle cx="1095.8" cy="1653.6" r="10.8" stroke="#ebebeb"/>
<circle cx="1126.2" cy="1653.6" r="10.8" stroke="#ebebeb"/>
<circle cx="1156.7" cy="1653.6" r="10.8" stroke="#ebebeb"/>
<circle cx="1187.2" cy="1653.6" r="10.8" stroke="#ebebeb"/>
<circle cx="90.1" cy="1682.5" r="10.8" stroke="#d8d8d8"/>
<circle cx="120.6" cy="1682.5" r="10.8" stroke="#d8d8d8"/>
<circle cx="151.1" cy="1682.5" r="10.8" stroke="#ebebeb"/>
<circle cx="181.5" cy="1682.5" r="10.8" stroke="#ebebeb"/>
<circle cx="273.0" cy="1682.5" r="10.8" stroke="#f0f9ee"/>
<circle cx="303.4" cy="1682.5" r="10.8" stroke="#abdda5"/>
<circle cx="333.9" cy="1682.5" r="10.8" stroke="#80ca80"/>
<circle cx="364.4" cy="1682.5" r="10.8" stroke="#10783a"/>
<circle cx="394.8" cy="1682.5" r="10.8" stroke="#10783a"/>
<circle cx="425.3" cy="1682.5" r="10.8" stroke="#abdda5"/>
<circle cx="486.3" cy="1682.5" r="10.8" stroke="#d8d8d8"/>
<circle cx="516.7" cy="1682.5" r="10.8" stroke="#a9a9a9"/>
<circle cx="547.2" cy="1682.5" r="10.8" stroke="#d8d8d8"/>
<circle cx="730.1" cy="1682.5" r="10.8" stroke="#ebebeb"/>
<circle cx="760.5" cy="1682.5" r="10.8" stroke="#ebebeb"/>
<circle cx="791.0" cy="1682.5" r="10.8" stroke="#d8d8d8"/>
<circle cx="821.5" cy="1682.5" r="10.8" stroke="#bebebe"/>
<circle cx="882.4" cy="1682.5" r="10.8" stroke="#2e964e"/>
<circle cx="912.9" cy="1682.5" r="10.8" stroke="#00471c"/>
<circle cx="943.4" cy="1682.5" r="10.8" stroke="#52b266"/>
<circle cx="973.9" cy="1682.5" r="10.8" stroke="#80ca80"/>
<circle cx="1004.3" cy="1682.5" r="10.8" stroke="#cbeac5"/>
<circle cx="1034.8" cy="1682.5" r="10.8" stroke="#f0f9ee"/>
<circle cx="1095.8" cy="1682.5" r="10.8" stroke="#ebebeb"/>
<circle cx="1126.2" cy="1682.5" r="10.8" stroke="#ebebeb"/>
<circle cx="1156.7" cy="1682.5" r="10.8" stroke="#ebebeb"/>
<circle cx="1187.2" cy="1682.5" r="10.8" stroke="#ebebeb"/>
<circle cx="90.1" cy="1711.5" r="10.8" stroke="#d8d8d8"/>
<circle cx="120.6" cy="1711.5" r="10.8" stroke="#d8d8d8"/>
<circle cx="151.1" cy="1711.5" r="10.8" stroke="#ebebeb"/>
<circle cx="181.5" cy="1711.5" r="10.8" stroke="#ebebeb"/>
<circle cx="242.5" cy="1711.5" r="10.8" stroke="#f0f9ee"/>
<circle cx="273.0" cy="1711.5" r="10.8" stroke="#cbeac5"/>
<circle cx="303.4" cy="1711.5" r="10.8" stroke="#abdda5"/>
<circle cx="333.9" cy="1711.5" r="10.8" stroke="#52b266"/>
<circle cx="364.4" cy="1711.5" r="10.8" stroke="#10783a"/>
<circle cx="394.8" cy="1711.5" r="10.8" stroke="#10783a"/>
<circle cx="425.3" cy="1711.5" r="10.8" stroke="#80ca80"/>
<circle cx="455.8" cy="1711.5" r="10.8" stroke="#a9a9a9"/>
<circle cx="486.3" cy="1711.5" r="10.8" stroke="#bebebe"/>
<circle cx="516.7" cy="1711.5" r="10.8" stroke="#ebebeb"/>
<circle cx="547.2" cy="1711.5" r="10.8" stroke="#f0f9ee"/>
<circle cx="577.7" cy="1711.5" r="10.8" stroke="#bebebe"/>
<circle cx="608.2" cy="1711.5" r="10.8" stroke="#ebebeb"/>
<circle cx="638.6" cy="1711.5" r="10.8" stroke="#ebebeb"/>
<circle cx="669.1" cy="1711.5" r="10.8" stroke="#ebebeb"/>
<circle cx="730.1" cy="1711.5" r="10.8" stroke="#d8d8d8"/>
<circle cx="760.5" cy="1711.5" r="10.8" stroke="#ebebeb"/>
<circle cx="791.0" cy="1711.5" r="10.8" stroke="#d8d8d8"/>
<circle cx="821.5" cy="1711.5" r="10.8" stroke="#d8d8d8"/>
<circle cx="852.0" cy="1711.5" r="10.8" stroke="#cbeac5"/>
<circle cx="882.4" cy="1711.5" r="10.8" stroke="#2e964e"/>
<circle cx="912.9" cy="1711.5" r="10.8" stroke="#10783a"/>
<circle cx="943.4" cy="1711.5" r="10.8" stroke="#52b266"/>
<circle cx="973.9" cy="1711.5" r="10.8" stroke="#abdda5"/>
<circle cx="1004.3" cy="1711.5" r="10.8" stroke="#cbeac5"/>
<circle cx="1034.8" cy="1711.5" r="10.8" stroke="#f0f9ee"/>
<circle cx="1095.8" cy="1711.5" r="10.8" stroke="#ebebeb"/>
<circle cx="1126.2" cy="1711.5" r="10.8" stroke="#ebebeb"/>
<circle cx="1156.7" cy="1711.5" r="10.8" stroke="#ebebeb"/>
<circle cx="1187.2" cy="1711.5" r="10.8" stroke="#ebebeb"/>
<circle cx="90.1" cy="1740.4" r="10.8" stroke="#d8d8d8"/>
<circle cx="120.6" cy="1740.4" r="10.8" stroke="#d8d8d8"/>
<circle cx="151.1" cy="1740.4" r="10.8" stroke="#d8d8d8"/>
<circle cx="181.5" cy="1740.4" r="10.8" stroke="#ebebeb"/>
<circle cx="212.0" cy="1740.4" r="10.8" stroke="#ebebeb"/>
<circle cx="242.5" cy="1740.4" r="10.8" stroke="#f0f9ee"/>
<circle cx="273.0" cy="1740.4" r="10.8" stroke="#cbeac5"/>
<circle cx="303.4" cy="1740.4" r="10.8" stroke="#abdda5"/>
<circle cx="333.9" cy="1740.4" r="10.8" stroke="#80ca80"/>
<circle cx="364.4" cy="1740.4" r="10.8" stroke="#2e964e"/>
<circle cx="394.8" cy="1740.4" r="10.8" stroke="#00471c"/>
<circle cx="425.3" cy="1740.4" r="10.8" stroke="#80ca80"/>
<circle cx="455.8" cy="1740.4" r="10.8" stroke="#bebebe"/>
<circle cx="486.3" cy="1740.4" r="10.8" stroke="#ebebeb"/>
<circle cx="516.7" cy="1740.4" r="10.8" stroke="#cbeac5"/>
<circle cx="547.2" cy="1740.4" r="10.8" stroke="#595959"/>
<circle cx="577.7" cy="1740.4" r="10.8" stroke="#a9a9a9"/>
<circle cx="638.6" cy="1740.4" r="10.8" stroke="#a9a9a9"/>
<circle cx="669.1" cy="1740.4" r="10.8" stroke="#7e7e7e"/>
<circle cx="730.1" cy="1740.4" r="10.8" stroke="#7e7e7e"/>
<circle cx="760.5" cy="1740.4" r="10.8" stroke="#abdda5"/>
<circle cx="821.5" cy="1740.4" r="10.8" stroke="#d8d8d8"/>
<circle cx="852.0" cy="1740.4" r="10.8" stroke="#cbeac5"/>
<circle cx="882.4" cy="1740.4" r="10.8" stroke="#10783a"/>
<circle cx="912.9" cy="1740.4" r="10.8" stroke="#10783a"/>
<circle cx="943.4" cy="1740.4" r="10.8" stroke="#80ca80"/>
<circle cx="973.9" cy="1740.4" r="10.8" stroke="#abdda5"/>
<circle cx="1004.3" cy="1740.4" r="10.8" stroke="#cbeac5"/>
<circle cx="1034.8" cy="1740.4" r="10.8" stroke="#f0f9ee"/>
<circle cx="1095.8" cy="1740.4" r="10.8" stroke="#ebebeb"/>
<circle cx="1126.2" cy="1740.4" r="10.8" stroke="#ebebeb"/>
<circle cx="1156.7" cy="1740.4" r="10.8" stroke="#ebebeb"/>
<circle cx="1187.2" cy="1740.4" r="10.8" stroke="#ebebeb"/>
<circle cx="90.1" cy="1769.3" r="10.8" stroke="#d8d8d8"/>
<circle cx="120.6" cy="1769.3" r="10.8" stroke="#d8d8d8"/>
<circle cx="151.1" cy="1769.3" r="10.8" stroke="#d8d8d8"/>
<circle cx="181.5" cy="1769.3" r="10.8" stroke="#ebebeb"/>
<circle cx="212.0" cy="1769.3" r="10.8" stroke="#ebebeb"/>
<circle cx="242.5" cy="1769.3" r="10.8" stroke="#ebebeb"/>
<circle cx="273.0" cy="1769.3" r="10.8" stroke="#f0f9ee"/>
<circle cx="303.4" cy="1769.3" r="10.8" stroke="#cbeac5"/>
<circle cx="333.9" cy="1769.3" r="10.8" stroke="#abdda5"/>
<circle cx="364.4" cy="1769.3" r="10.8" stroke="#52b266"/>
<circle cx="394.8" cy="1769.3" r="10.8" stroke="#10783a"/>
<circle cx="425.3" cy="1769.3" r="10.8" stroke="#2e964e"/>
<circle cx="486.3" cy="1769.3" r="10.8" stroke="#ebebeb"/>
<circle cx="516.7" cy="1769.3" r="10.8" stroke="#ebebeb"/>
<circle cx="547.2" cy="1769.3" r="10.8" stroke="#d8d8d8"/>
<circle cx="577.7" cy="1769.3" r="10.8" stroke="#a9a9a9"/>
<circle cx="608.2" cy="1769.3" r="10.8" stroke="#bebebe"/>
<circle cx="638.6" cy="1769.3" r="10.8" stroke="#595959"/>
<circle cx="669.1" cy="1769.3" r="10.8" stroke="#595959"/>
<circle cx="730.1" cy="1769.3" r="10.8" stroke="#bebebe"/>
<circle cx="760.5" cy="1769.3" r="10.8" stroke="#cbeac5"/>
<circle cx="821.5" cy="1769.3" r="10.8" stroke="#f0f9ee"/>
<circle cx="852.0" cy="1769.3" r="10.8" stroke="#cbeac5"/>
<circle cx="882.4" cy="1769.3" r="10.8" stroke="#00471c"/>
<circle cx="912.9" cy="1769.3" r="10.8" stroke="#52b266"/>
<circle cx="943.4" cy="1769.3" r="10.8" stroke="#80ca80"/>
<circle cx="973.9" cy="1769.3" r="10.8" stroke="#cbeac5"/>
<circle cx="1004.3" cy="1769.3" r="10.8" stroke="#f0f9ee"/>
<circle cx="1065.3" cy="1769.3" r="10.8" stroke="#ebebeb"/>
<circle cx="1095.8" cy="1769.3" r="10.8" stroke="#ebebeb"/>
<circle cx="1126.2" cy="1769.3" r="10.8" stroke="#ebebeb"/>
<circle cx="1156.7" cy="1769.3" r="10.8" stroke="#d8d8d8"/>
<circle cx="1187.2" cy="1769.3" r="10.8" stroke="#d8d8d8"/>
<circle cx="90.1" cy="1798.2" r="10.8" stroke="#d8d8d8"/>
<circle cx="120.6" cy="1798.2" r="10.8" stroke="#d8d8d8"/>
<circle cx="151.1" cy="1798.2" r="10.8" stroke="#d8d8d8"/>
<circle cx="181.5" cy="1798.2" r="10.8" stroke="#d8d8d8"/>
<circle cx="212.0" cy="1798.2" r="10.8" stroke="#ebebeb"/>
<circle cx="242.5" cy="1798.2" r="10.8" stroke="#ebebeb"/>
<circle cx="273.0" cy="1798.2" r="10.8" stroke="#ebebeb"/>
<circle cx="303.4" cy="1798.2" r="10.8" stroke="#f0f9ee"/>
<circle cx="333.9" cy="1798.2" r="10.8" stroke="#abdda5"/>
<circle cx="364.4" cy="1798.2" r="10.8" stroke="#52b266"/>
<circle cx="394.8" cy="1798.2" r="10.8" stroke="#2e964e"/>
<circle cx="425.3" cy="1798.2" r="10.8" stroke="#10783a"/>
<circle cx="455.8" cy="1798.2" r="10.8" stroke="#cbeac5"/>
<circle cx="486.3" cy="1798.2" r="10.8" stroke="#bebebe"/>
<circle cx="516.7" cy="1798.2" r="10.8" stroke="#abdda5"/>
<circle cx="577.7" cy="1798.2" r="10.8" stroke="#a9a9a9"/>
<circle cx="638.6" cy="1798.2" r="10.8" stroke="#595959"/>
<circle cx="669.1" cy="1798.2" r="10.8" stroke="#595959"/>
<circle cx="730.1" cy="1798.2" r="10.8" stroke="#bebebe"/>
<circle cx="760.5" cy="1798.2" r="10.8" stroke="#2e964e"/>
<circle cx="791.0" cy="1798.2" r="10.8" stroke="#52b266"/>
<circle cx="821.5" cy="1798.2" r="10.8" stroke="#80ca80"/>
<circle cx="882.4" cy="1798.2" r="10.8" stroke="#10783a"/>
<circle cx="912.9" cy="1798.2" r="10.8" stroke="#80ca80"/>
<circle cx="943.4" cy="1798.2" r="10.8" stroke="#cbeac5"/>
<circle cx="973.9" cy="1798.2" r="10.8" stroke="#f0f9ee"/>
<circle cx="1004.3" cy="1798.2" r="10.8" stroke="#f0f9ee"/>
<circle cx="1065.3" cy="1798.2" r="10.8" stroke="#ebebeb"/>
<circle cx="1095.8" cy="1798.2" r="10.8" stroke="#d8d8d8"/>
<circle cx="1126.2" cy="1798.2" r="10.8" stroke="#d8d8d8"/>
<circle cx="1156.7" cy="1798.2" r="10.8" stroke="#d8d8d8"/>
<circle cx="1187.2" cy="1798.2" r="10.8" stroke="#d8d8d8"/>
<circle cx="90.1" cy="1827.1" r="10.8" stroke="#d8d8d8"/>
<circle cx="120.6" cy="1827.1" r="10.8" stroke="#d8d8d8"/>
<circle cx="151.1" cy="1827.1" r="10.8" stroke="#d8d8d8"/>
<circle cx="181.5" cy="1827.1" r="10.8" stroke="#d8d8d8"/>
<circle cx="212.0" cy="1827.1" r="10.8" stroke="#ebebeb"/>
<circle cx="242.5" cy="1827.1" r="10.8" stroke="#ebebeb"/>
<circle cx="273.0" cy="1827.1" r="10.8" stroke="#ebebeb"/>
<circle cx="303.4" cy="1827.1" r="10.8" stroke="#cbeac5"/>
<circle cx="333.9" cy="1827.1" r="10.8" stroke="#abdda5"/>
<circle cx="364.4" cy="1827.1" r="10.8" stroke="#80ca80"/>
<circle cx="394.8" cy="1827.1" r="10.8" stroke="#52b266"/>
<circle cx="425.3" cy="1827.1" r="10.8" stroke="#10783a"/>
<circle cx="455.8" cy="1827.1" r="10.8" stroke="#abdda5"/>
<circle cx="516.7" cy="1827.1" r="10.8" stroke="#2e964e"/>
<circle cx="547.2" cy="1827.1" r="10.8" stroke="#10783a"/>
<circle cx="577.7" cy="1827.1" r="10.8" stroke="#bebebe"/>
<circle cx="608.2" cy="1827.1" r="10.8" stroke="#f0f9ee"/>
<circle cx="638.6" cy="1827.1" r="10.8" stroke="#a9a9a9"/>
<circle cx="669.1" cy="1827.1" r="10.8" stroke="#bebebe"/>
<circle cx="699.6" cy="1827.1" r="10.8" stroke="#abdda5"/>
<circle cx="730.1" cy="1827.1" r="10.8" stroke="#cbeac5"/>
<circle cx="760.5" cy="1827.1" r="10.8" stroke="#10783a"/>
<circle cx="791.0" cy="1827.1" r="10.8" stroke="#abdda5"/>
<circle cx="821.5" cy="1827.1" r="10.8" stroke="#abdda5"/>
<circle cx="882.4" cy="1827.1" r="10.8" stroke="#2e964e"/>
<circle cx="912.9" cy="1827.1" r="10.8" stroke="#abdda5"/>
<circle cx="943.4" cy="1827.1" r="10.8" stroke="#cbeac5"/>
<circle cx="973.9" cy="1827.1" r="10.8" stroke="#f0f9ee"/>
<circle cx="1034.8" cy="1827.1" r="10.8" stroke="#ebebeb"/>
<circle cx="1065.3" cy="1827.1" r="10.8" stroke="#ebebeb"/>
<circle cx="1095.8" cy="1827.1" r="10.8" stroke="#d8d8d8"/>
<circle cx="1126.2" cy="1827.1" r="10.8" stroke="#d8d8d8"/>
<circle cx="1156.7" cy="1827.1" r="10.8" stroke="#d8d8d8"/>
<circle cx="1187.2" cy="1827.1" r="10.8" stroke="#d8d8d8"/>
<circle cx="90.1" cy="1856.0" r="10.8" stroke="#bebebe"/>
<circle cx="120.6" cy="1856.0" r="10.8" stroke="#bebebe"/>
<circle cx="151.1" cy="1856.0" r="10.8" stroke="#d8d8d8"/>
<circle cx="181.5" cy="1856.0" r="10.8" stroke="#d8d8d8"/>
<circle cx="212.0" cy="1856.0" r="10.8" stroke="#d8d8d8"/>
<circle cx="242.5" cy="1856.0" r="10.8" stroke="#ebebeb"/>
<circle cx="273.0" cy="1856.0" r="10.8" stroke="#ebebeb"/>
<circle cx="303.4" cy="1856.0" r="10.8" stroke="#f0f9ee"/>
<circle cx="333.9" cy="1856.0" r="10.8" stroke="#cbeac5"/>
<circle cx="364.4" cy="1856.0" r="10.8" stroke="#80ca80"/>
<circle cx="394.8" cy="1856.0" r="10.8" stroke="#80ca80"/>
<circle cx="425.3" cy="1856.0" r="10.8" stroke="#2e964e"/>
<circle cx="455.8" cy="1856.0" r="10.8" stroke="#10783a"/>
<circle cx="516.7" cy="1856.0" r="10.8" stroke="#cbeac5"/>
<circle cx="547.2" cy="1856.0" r="10.8" stroke="#10783a"/>
<circle cx="577.7" cy="1856.0" r="10.8" stroke="#d8d8d8"/>
<circle cx="608.2" cy="1856.0" r="10.8" stroke="#80ca80"/>
<circle cx="638.6" cy="1856.0" r="10.8" stroke="#abdda5"/>
<circle cx="669.1" cy="1856.0" r="10.8" stroke="#cbeac5"/>
<circle cx="699.6" cy="1856.0" r="10.8" stroke="#2e964e"/>
<circle cx="730.1" cy="1856.0" r="10.8" stroke="#cbeac5"/>
<circle cx="760.5" cy="1856.0" r="10.8" stroke="#2e964e"/>
<circle cx="791.0" cy="1856.0" r="10.8" stroke="#10783a"/>
<circle cx="821.5" cy="1856.0" r="10.8" stroke="#cbeac5"/>
<circle cx="852.0" cy="1856.0" r="10.8" stroke="#80ca80"/>
<circle cx="882.4" cy="1856.0" r="10.8" stroke="#80ca80"/>
<circle cx="912.9" cy="1856.0" r="10.8" stroke="#cbeac5"/>
<circle cx="943.4" cy="1856.0" r="10.8" stroke="#cbeac5"/>
<circle cx="973.9" cy="1856.0" r="10.8" stroke="#f0f9ee"/>
<circle cx="1034.8" cy="1856.0" r="10.8" stroke="#ebebeb"/>
<circle cx="1065.3" cy="1856.0" r="10.8" stroke="#d8d8d8"/>
<circle cx="1095.8" cy="1856.0" r="10.8" stroke="#d8d8d8"/>
<circle cx="1126.2" cy="1856.0" r="10.8" stroke="#d8d8d8"/>
<circle cx="1156.7" cy="1856.0" r="10.8" stroke="#d8d8d8"/>
<circle cx="1187.2" cy="1856.0" r="10.8" stroke="#d8d8d8"/>
<circle cx="90.1" cy="1884.9" r="10.8" stroke="#bebebe"/>
<circle cx="120.6" cy="1884.9" r="10.8" stroke="#bebebe"/>
<circle cx="151.1" cy="1884.9" r="10.8" stroke="#d8d8d8"/>
<circle cx="181.5" cy="1884.9" r="10.8" stroke="#d8d8d8"/>
<circle cx="212.0" cy="1884.9" r="10.8" stroke="#d8d8d8"/>
<circle cx="242.5" cy="1884.9" r="10.8" stroke="#ebebeb"/>
<circle cx="273.0" cy="1884.9" r="10.8" stroke="#ebebeb"/>
<circle cx="303.4" cy="1884.9" r="10.8" stroke="#f0f9ee"/>
<circle cx="333.9" cy="1884.9" r="10.8" stroke="#cbeac5"/>
<circle cx="364.4" cy="1884.9" r="10.8" stroke="#abdda5"/>
<circle cx="394.8" cy="1884.9" r="10.8" stroke="#80ca80"/>
<circle cx="425.3" cy="1884.9" r="10.8" stroke="#2e964e"/>
<circle cx="455.8" cy="1884.9" r="10.8" stroke="#10783a"/>
<circle cx="486.3" cy="1884.9" r="10.8" stroke="#cbeac5"/>
<circle cx="516.7" cy="1884.9" r="10.8" stroke="#00471c"/>
<circle cx="547.2" cy="1884.9" r="10.8" stroke="#52b266"/>
<circle cx="577.7" cy="1884.9" r="10.8" stroke="#f0f9ee"/>
<circle cx="608.2" cy="1884.9" r="10.8" stroke="#80ca80"/>
<circle cx="638.6" cy="1884.9" r="10.8" stroke="#52b266"/>
<circle cx="669.1" cy="1884.9" r="10.8" stroke="#52b266"/>
<circle cx="699.6" cy="1884.9" r="10.8" stroke="#10783a"/>
<circle cx="730.1" cy="1884.9" r="10.8" stroke="#cbeac5"/>
<circle cx="760.5" cy="1884.9" r="10.8" stroke="#52b266"/>
<circle cx="791.0" cy="1884.9" r="10.8" stroke="#80ca80"/>
<circle cx="821.5" cy="1884.9" r="10.8" stroke="#00471c"/>
<circle cx="852.0" cy="1884.9" r="10.8" stroke="#52b266"/>
<circle cx="882.4" cy="1884.9" r="10.8" stroke="#abdda5"/>
<circle cx="912.9" cy="1884.9" r="10.8" stroke="#cbeac5"/>
<circle cx="943.4" cy="1884.9" r="10.8" stroke="#f0f9ee"/>
<circle cx="973.9" cy="1884.9" r="10.8" stroke="#f0f9ee"/>
<circle cx="1004.3" cy="1884.9" r="10.8" stroke="#ebebeb"/>
<circle cx="1034.8" cy="1884.9" r="10.8" stroke="#ebebeb"/>
<circle cx="1065.3" cy="1884.9" r="10.8" stroke="#d8d8d8"/>
<circle cx="1095.8" cy="1884.9" r="10.8" stroke="#d8d8d8"/>
<circle cx="1126.2" cy="1884.9" r="10.8" stroke="#d8d8d8"/>
<circle cx="1156.7" cy="1884.9" r="10.8" stroke="#bebebe"/>
<circle cx="1187.2" cy="1884.9" r="10.8" stroke="#bebebe"/>
<circle cx="90.1" cy="1913.8" r="10.8" stroke="#bebebe"/>
<circle cx="120.6" cy="1913.8" r="10.8" stroke="#bebebe"/>
<circle cx="151.1" cy="1913.8" r="10.8" stroke="#d8d8d8"/>
<circle cx="181.5" cy="1913.8" r="10.8" stroke="#d8d8d8"/>
<circle cx="212.0" cy="1913.8" r="10.8" stroke="#d8d8d8"/>
<circle cx="242.5" cy="1913.8" r="10.8" stroke="#ebebeb"/>
<circle cx="273.0" cy="1913.8" r="10.8" stroke="#ebebeb"/>
<circle cx="303.4" cy="1913.8" r="10.8" stroke="#ebebeb"/>
<circle cx="333.9" cy="1913.8" r="10.8" stroke="#f0f9ee"/>
<circle cx="364.4" cy="1913.8" r="10.8" stroke="#cbeac5"/>
<circle cx="394.8" cy="1913.8" r="10.8" stroke="#abdda5"/>
<circle cx="425.3" cy="1913.8" r="10.8" stroke="#abdda5"/>
<circle cx="455.8" cy="1913.8" r="10.8" stroke="#abdda5"/>
<circle cx="486.3" cy="1913.8" r="10.8" stroke="#10783a"/>
<circle cx="516.7" cy="1913.8" r="10.8" stroke="#10783a"/>
<circle cx="547.2" cy="1913.8" r="10.8" stroke="#2e964e"/>
<circle cx="577.7" cy="1913.8" r="10.8" stroke="#52b266"/>
<circle cx="608.2" cy="1913.8" r="10.8" stroke="#10783a"/>
<circle cx="638.6" cy="1913.8" r="10.8" stroke="#00471c"/>
<circle cx="669.1" cy="1913.8" r="10.8" stroke="#2e964e"/>
<circle cx="699.6" cy="1913.8" r="10.8" stroke="#10783a"/>
<circle cx="730.1" cy="1913.8" r="10.8" stroke="#10783a"/>
<circle cx="760.5" cy="1913.8" r="10.8" stroke="#52b266"/>
<circle cx="791.0" cy="1913.8" r="10.8" stroke="#cbeac5"/>
<circle cx="821.5" cy="1913.8" r="10.8" stroke="#52b266"/>
<circle cx="852.0" cy="1913.8" r="10.8" stroke="#2e964e"/>
<circle cx="882.4" cy="1913.8" r="10.8" stroke="#cbeac5"/>
<circle cx="912.9" cy="1913.8" r="10.8" stroke="#cbeac5"/>
<circle cx="943.4" cy="1913.8" r="10.8" stroke="#f0f9ee"/>
<circle cx="1004.3" cy="1913.8" r="10.8" stroke="#ebebeb"/>
<circle cx="1034.8" cy="1913.8" r="10.8" stroke="#d8d8d8"/>
<circle cx="1065.3" cy="1913.8" r="10.8" stroke="#d8d8d8"/>
<circle cx="1095.8" cy="1913.8" r="10.8" stroke="#d8d8d8"/>
<circle cx="1126.2" cy="1913.8" r="10.8" stroke="#d8d8d8"/>
<circle cx="1156.7" cy="1913.8" r="10.8" stroke="#bebebe"/>
<circle cx="1187.2" cy="1913.8" r="10.8" stroke="#bebebe"/>
<circle cx="90.1" cy="1942.8" r="10.8" stroke="#bebebe"/>
<circle cx="120.6" cy="1942.8" r="10.8" stroke="#bebebe"/>
<circle cx="151.1" cy="1942.8" r="10.8" stroke="#bebebe"/>
<circle cx="181.5" cy="1942.8" r="10.8" stroke="#d8d8d8"/>
<circle cx="212.0" cy="1942.8" r="10.8" stroke="#d8d8d8"/>
<circle cx="242.5" cy="1942.8" r="10.8" stroke="#ebebeb"/>
<circle cx="273.0" cy="1942.8" r="10.8" stroke="#ebebeb"/>
<circle cx="303.4" cy="1942.8" r="10.8" stroke="#ebebeb"/>
<circle cx="333.9" cy="1942.8" r="10.8" stroke="#ebebeb"/>
<circle cx="394.8" cy="1942.8" r="10.8" stroke="#f0f9ee"/>
<circle cx="425.3" cy="1942.8" r="10.8" stroke="#f0f9ee"/>
<circle cx="455.8" cy="1942.8" r="10.8" stroke="#cbeac5"/>
<circle cx="486.3" cy="1942.8" r="10.8" stroke="#52b266"/>
<circle cx="516.7" cy="1942.8" r="10.8" stroke="#80ca80"/>
<circle cx="547.2" cy="1942.8" r="10.8" stroke="#00471c"/>
<circle cx="577.7" cy="1942.8" r="10.8" stroke="#2e964e"/>
<circle cx="608.2" cy="1942.8" r="10.8" stroke="#10783a"/>
<circle cx="638.6" cy="1942.8" r="10.8" stroke="#52b266"/>
<circle cx="669.1" cy="1942.8" r="10.8" stroke="#80ca80"/>
<circle cx="699.6" cy="1942.8" r="10.8" stroke="#80ca80"/>
<circle cx="730.1" cy="1942.8" r="10.8" stroke="#80ca80"/>
<circle cx="760.5" cy="1942.8" r="10.8" stroke="#2e964e"/>
<circle cx="791.0" cy="1942.8" r="10.8" stroke="#cbeac5"/>
<circle cx="821.5" cy="1942.8" r="10.8" stroke="#10783a"/>
<circle cx="852.0" cy="1942.8" r="10.8" stroke="#abdda5"/>
<circle cx="882.4" cy="1942.8" r="10.8" stroke="#f0f9ee"/>
<circle cx="912.9" cy="1942.8" r="10.8" stroke="#f0f9ee"/>
<circle cx="973.9" cy="1942.8" r="10.8" stroke="#ebebeb"/>
<circle cx="1004.3" cy="1942.8" r="10.8" stroke="#ebebeb"/>
<circle cx="1034.8" cy="1942.8" r="10.8" stroke="#d8d8d8"/>
<circle cx="1065.3" cy="1942.8" r="10.8" stroke="#d8d8d8"/>
<circle cx="1095.8" cy="1942.8" r="10.8" stroke="#d8d8d8"/>
<circle cx="1126.2" cy="1942.8" r="10.8" stroke="#bebebe"/>
<circle cx="1156.7" cy="1942.8" r="10.8" stroke="#bebebe"/>
<circle cx="1187.2" cy="1942.8" r="10.8" stroke="#bebebe"/>
<circle cx="90.1" cy="1971.7" r="10.8" stroke="#bebebe"/>
<circle cx="120.6" cy="1971.7" r="10.8" stroke="#bebebe"/>
<circle cx="151.1" cy="1971.7" r="10.8" stroke="#bebebe"/>
<circle cx="181.5" cy="1971.7" r="10.8" stroke="#d8d8d8"/>
<circle cx="212.0" cy="1971.7" r="10.8" stroke="#d8d8d8"/>
<circle cx="242.5" cy="1971.7" r="10.8" stroke="#d8d8d8"/>
<circle cx="273.0" cy="1971.7" r="10.8" stroke="#ebebeb"/>
<circle cx="303.4" cy="1971.7" r="10.8" stroke="#ebebeb"/>
<circle cx="333.9" cy="1971.7" r="10.8" stroke="#ebebeb"/>
<circle cx="364.4" cy="1971.7" r="10.8" stroke="#ebebeb"/>
<circle cx="455.8" cy="1971.7" r="10.8" stroke="#cbeac5"/>
<circle cx="486.3" cy="1971.7" r="10.8" stroke="#d8d8d8"/>
<circle cx="516.7" cy="1971.7" r="10.8" stroke="#abdda5"/>
<circle cx="547.2" cy="1971.7" r="10.8" stroke="#2e964e"/>
<circle cx="577.7" cy="1971.7" r="10.8" stroke="#abdda5"/>
<circle cx="608.2" cy="1971.7" r="10.8" stroke="#80ca80"/>
<circle cx="638.6" cy="1971.7" r="10.8" stroke="#abdda5"/>
<circle cx="669.1" cy="1971.7" r="10.8" stroke="#abdda5"/>
<circle cx="699.6" cy="1971.7" r="10.8" stroke="#cbeac5"/>
<circle cx="730.1" cy="1971.7" r="10.8" stroke="#abdda5"/>
<circle cx="760.5" cy="1971.7" r="10.8" stroke="#abdda5"/>
<circle cx="791.0" cy="1971.7" r="10.8" stroke="#cbeac5"/>
<circle cx="821.5" cy="1971.7" r="10.8" stroke="#00471c"/>
<circle cx="852.0" cy="1971.7" r="10.8" stroke="#80ca80"/>
<circle cx="943.4" cy="1971.7" r="10.8" stroke="#ebebeb"/>
<circle cx="973.9" cy="1971.7" r="10.8" stroke="#ebebeb"/>
<circle cx="1004.3" cy="1971.7" r="10.8" stroke="#ebebeb"/>
<circle cx="1034.8" cy="1971.7" r="10.8" stroke="#d8d8d8"/>
<circle cx="1065.3" cy="1971.7" r="10.8" stroke="#d8d8d8"/>
<circle cx="1095.8" cy="1971.7" r="10.8" stroke="#bebebe"/>
<circle cx="1126.2" cy="1971.7" r="10.8" stroke="#bebebe"/>
<circle cx="1156.7" cy="1971.7" r="10.8" stroke="#bebebe"/>
<circle cx="1187.2" cy="1971.7" r="10.8" stroke="#bebebe"/>
<circle cx="90.1" cy="2000.6" r="10.8" stroke="#bebebe"/>
<circle cx="120.6" cy="2000.6" r="10.8" stroke="#bebebe"/>
<circle cx="151.1" cy="2000.6" r="10.8" stroke="#bebebe"/>
<circle cx="181.5" cy="2000.6" r="10.8" stroke="#bebebe"/>
<circle cx="212.0" cy="2000.6" r="10.8" stroke="#d8d8d8"/>
<circle cx="242.5" cy="2000.6" r="10.8" stroke="#d8d8d8"/>
<circle cx="273.0" cy="2000.6" r="10.8" stroke="#d8d8d8"/>
<circle cx="303.4" cy="2000.6" r="10.8" stroke="#ebebeb"/>
<circle cx="333.9" cy="2000.6" r="10.8" stroke="#ebebeb"/>
<circle cx="364.4" cy="2000.6" r="10.8" stroke="#ebebeb"/>
<circle cx="394.8" cy="2000.6" r="10.8" stroke="#ebebeb"/>
<circle cx="486.3" cy="2000.6" r="10.8" stroke="#ebebeb"/>
<circle cx="516.7" cy="2000.6" r="10.8" stroke="#abdda5"/>
<circle cx="547.2" cy="2000.6" r="10.8" stroke="#abdda5"/>
<circle cx="577.7" cy="2000.6" r="10.8" stroke="#abdda5"/>
<circle cx="608.2" cy="2000.6" r="10.8" stroke="#cbeac5"/>
<circle cx="638.6" cy="2000.6" r="10.8" stroke="#cbeac5"/>
<circle cx="669.1" cy="2000.6" r="10.8" stroke="#cbeac5"/>
<circle cx="699.6" cy="2000.6" r="10.8" stroke="#cbeac5"/>
<circle cx="730.1" cy="2000.6" r="10.8" stroke="#f0f9ee"/>
<circle cx="760.5" cy="2000.6" r="10.8" stroke="#80ca80"/>
<circle cx="791.0" cy="2000.6" r="10.8" stroke="#80ca80"/>
<circle cx="821.5" cy="2000.6" r="10.8" stroke="#10783a"/>
<circle cx="852.0" cy="2000.6" r="10.8" stroke="#abdda5"/>
<circle cx="882.4" cy="2000.6" r="10.8" stroke="#ebebeb"/>
<circle cx="912.9" cy="2000.6" r="10.8" stroke="#ebebeb"/>
<circle cx="943.4" cy="2000.6" r="10.8" stroke="#ebebeb"/>
<circle cx="973.9" cy="2000.6" r="10.8" stroke="#d8d8d8"/>
<circle cx="1004.3" cy="2000.6" r="10.8" stroke="#d8d8d8"/>
<circle cx="1034.8" cy="2000.6" r="10.8" stroke="#d8d8d8"/>
<circle cx="1065.3" cy="2000.6" r="10.8" stroke="#bebebe"/>
<circle cx="1095.8" cy="2000.6" r="10.8" stroke="#bebebe"/>
<circle cx="1126.2" cy="2000.6" r="10.8" stroke="#bebebe"/>
<circle cx="1156.7" cy="2000.6" r="10.8" stroke="#bebebe"/>
<circle cx="1187.2" cy="2000.6" r="10.8" stroke="#bebebe"/>
<circle cx="90.1" cy="2029.5" r="10.8" stroke="#bebebe"/>
<circle cx="120.6" cy="2029.5" r="10.8" stroke="#bebebe"/>
<circle cx="151.1" cy="2029.5" r="10.8" stroke="#bebebe"/>
<circle cx="181.5" cy="2029.5" r="10.8" stroke="#bebebe"/>
<circle cx="212.0" cy="2029.5" r="10.8" stroke="#d8d8d8"/>
<circle cx="242.5" cy="2029.5" r="10.8" stroke="#d8d8d8"/>
<circle cx="273.0" cy="2029.5" r="10.8" stroke="#d8d8d8"/>
<circle cx="303.4" cy="2029.5" r="10.8" stroke="#d8d8d8"/>
<circle cx="333.9" cy="2029.5" r="10.8" stroke="#ebebeb"/>
<circle cx="364.4" cy="2029.5" r="10.8" stroke="#ebebeb"/>
<circle cx="394.8" cy="2029.5" r="10.8" stroke="#ebebeb"/>
<circle cx="425.3" cy="2029.5" r="10.8" stroke="#ebebeb"/>
<circle cx="455.8" cy="2029.5" r="10.8" stroke="#ebebeb"/>
<circle cx="486.3" cy="2029.5" r="10.8" stroke="#abdda5"/>
<circle cx="516.7" cy="2029.5" r="10.8" stroke="#f0f9ee"/>
<circle cx="547.2" cy="2029.5" r="10.8" stroke="#f0f9ee"/>
<circle cx="577.7" cy="2029.5" r="10.8" stroke="#abdda5"/>
<circle cx="638.6" cy="2029.5" r="10.8" stroke="#f0f9ee"/>
<circle cx="669.1" cy="2029.5" r="10.8" stroke="#f0f9ee"/>
<circle cx="699.6" cy="2029.5" r="10.8" stroke="#f0f9ee"/>
<circle cx="791.0" cy="2029.5" r="10.8" stroke="#f0f9ee"/>
<circle cx="821.5" cy="2029.5" r="10.8" stroke="#abdda5"/>
<circle cx="852.0" cy="2029.5" r="10.8" stroke="#ebebeb"/>
<circle cx="882.4" cy="2029.5" r="10.8" stroke="#ebebeb"/>
<circle cx="912.9" cy="2029.5" r="10.8" stroke="#d8d8d8"/>
<circle cx="943.4" cy="2029.5" r="10.8" stroke="#d8d8d8"/>
<circle cx="973.9" cy="2029.5" r="10.8" stroke="#d8d8d8"/>
<circle cx="1004.3" cy="2029.5" r="10.8" stroke="#d8d8d8"/>
<circle cx="1034.8" cy="2029.5" r="10.8" stroke="#bebebe"/>
<circle cx="1065.3" cy="2029.5" r="10.8" stroke="#bebebe"/>
<circle cx="1095.8" cy="2029.5" r="10.8" stroke="#bebebe"/>
<circle cx="1126.2" cy="2029.5" r="10.8" stroke="#bebebe"/>
<circle cx="1156.7" cy="2029.5" r="10.8" stroke="#bebebe"/>
<circle cx="1187.2" cy="2029.5" r="10.8" stroke="#bebebe"/>
<circle cx="90.1" cy="2058.4" r="10.8" stroke="#a9a9a9"/>
<circle cx="120.6" cy="2058.4" r="10.8" stroke="#a9a9a9"/>
<circle cx="151.1" cy="2058.4" r="10.8" stroke="#bebebe"/>
<circle cx="181.5" cy="2058.4" r="10.8" stroke="#bebebe"/>
<circle cx="212.0" cy="2058.4" r="10.8" stroke="#bebebe"/>
<circle cx="242.5" cy="2058.4" r="10.8" stroke="#d8d8d8"/>
<circle cx="273.0" cy="2058.4" r="10.8" stroke="#d8d8d8"/>
<circle cx="303.4" cy="2058.4" r="10.8" stroke="#d8d8d8"/>
<circle cx="333.9" cy="2058.4" r="10.8" stroke="#d8d8d8"/>
<circle cx="364.4" cy="2058.4" r="10.8" stroke="#ebebeb"/>
<circle cx="394.8" cy="2058.4" r="10.8" stroke="#ebebeb"/>
<circle cx="425.3" cy="2058.4" r="10.8" stroke="#ebebeb"/>
<circle cx="455.8" cy="2058.4" r="10.8" stroke="#ebebeb"/>
<circle cx="486.3" cy="2058.4" r="10.8" stroke="#abdda5"/>
<circle cx="516.7" cy="2058.4" r="10.8" stroke="#ebebeb"/>
<circle cx="547.2" cy="2058.4" r="10.8" stroke="#ebebeb"/>
<circle cx="577.7" cy="2058.4" r="10.8" stroke="#80ca80"/>
<circle cx="608.2" cy="2058.4" r="10.8" stroke="#ebebeb"/>
<circle cx="638.6" cy="2058.4" r="10.8" stroke="#ebebeb"/>
<circle cx="669.1" cy="2058.4" r="10.8" stroke="#ebebeb"/>
<circle cx="699.6" cy="2058.4" r="10.8" stroke="#ebebeb"/>
<circle cx="730.1" cy="2058.4" r="10.8" stroke="#ebebeb"/>
<circle cx="760.5" cy="2058.4" r="10.8" stroke="#f0f9ee"/>
<circle cx="821.5" cy="2058.4" r="10.8" stroke="#cbeac5"/>
<circle cx="852.0" cy="2058.4" r="10.8" stroke="#ebebeb"/>
<circle cx="882.4" cy="2058.4" r="10.8" stroke="#d8d8d8"/>
<circle cx="912.9" cy="2058.4" r="10.8" stroke="#d8d8d8"/>
<circle cx="943.4" cy="2058.4" r="10.8" stroke="#d8d8d8"/>
<circle cx="973.9" cy="2058.4" r="10.8" stroke="#d8d8d8"/>
<circle cx="1004.3" cy="2058.4" r="10.8" stroke="#bebebe"/>
<circle cx="1034.8" cy="2058.4" r="10.8" stroke="#bebebe"/>
<circle cx="1065.3" cy="2058.4" r="10.8" stroke="#bebebe"/>
<circle cx="1095.8" cy="2058.4" r="10.8" stroke="#bebebe"/>
<circle cx="1126.2" cy="2058.4" r="10.8" stroke="#bebebe"/>
<circle cx="1156.7" cy="2058.4" r="10.8" stroke="#a9a9a9"/>
<circle cx="1187.2" cy="2058.4" r="10.8" stroke="#a9a9a9"/>
<circle cx="90.1" cy="2087.3" r="10.8" stroke="#a9a9a9"/>
<circle cx="120.6" cy="2087.3" r="10.8" stroke="#a9a9a9"/>
<circle cx="151.1" cy="2087.3" r="10.8" stroke="#a9a9a9"/>
<circle cx="181.5" cy="2087.3" r="10.8" stroke="#bebebe"/>
<circle cx="212.0" cy="2087.3" r="10.8" stroke="#bebebe"/>
<circle cx="242.5" cy="2087.3" r="10.8" stroke="#bebebe"/>
<circle cx="273.0" cy="2087.3" r="10.8" stroke="#bebebe"/>
<circle cx="303.4" cy="2087.3" r="10.8" stroke="#d8d8d8"/>
<circle cx="333.9" cy="2087.3" r="10.8" stroke="#d8d8d8"/>
<circle cx="364.4" cy="2087.3" r="10.8" stroke="#d8d8d8"/>
<circle cx="394.8" cy="2087.3" r="10.8" stroke="#d8d8d8"/>
<circle cx="425.3" cy="2087.3" r="10.8" stroke="#ebebeb"/>
<circle cx="455.8" cy="2087.3" r="10.8" stroke="#ebebeb"/>
<circle cx="486.3" cy="2087.3" r="10.8" stroke="#cbeac5"/>
<circle cx="516.7" cy="2087.3" r="10.8" stroke="#80ca80"/>
<circle cx="547.2" cy="2087.3" r="10.8" stroke="#cbeac5"/>
<circle cx="608.2" cy="2087.3" r="10.8" stroke="#ebebeb"/>
<circle cx="638.6" cy="2087.3" r="10.8" stroke="#d8d8d8"/>
<circle cx="669.1" cy="2087.3" r="10.8" stroke="#d8d8d8"/>
<circle cx="699.6" cy="2087.3" r="10.8" stroke="#d8d8d8"/>
<circle cx="730.1" cy="2087.3" r="10.8" stroke="#d8d8d8"/>
<circle cx="760.5" cy="2087.3" r="10.8" stroke="#ebebeb"/>
<circle cx="791.0" cy="2087.3" r="10.8" stroke="#ebebeb"/>
<circle cx="821.5" cy="2087.3" r="10.8" stroke="#d8d8d8"/>
<circle cx="852.0" cy="2087.3" r="10.8" stroke="#d8d8d8"/>
<circle cx="882.4" cy="2087.3" r="10.8" stroke="#d8d8d8"/>
<circle cx="912.9" cy="2087.3" r="10.8" stroke="#d8d8d8"/>
<circle cx="943.4" cy="2087.3" r="10.8" stroke="#d8d8d8"/>
<circle cx="973.9" cy="2087.3" r="10.8" stroke="#d8d8d8"/>
<circle cx="1004.3" cy="2087.3" r="10.8" stroke="#bebebe"/>
<circle cx="1034.8" cy="2087.3" r="10.8" stroke="#bebebe"/>
<circle cx="1065.3" cy="2087.3" r="10.8" stroke="#bebebe"/>
<circle cx="1095.8" cy="2087.3" r="10.8" stroke="#bebebe"/>
<circle cx="1126.2" cy="2087.3" r="10.8" stroke="#bebebe"/>
<circle cx="1156.7" cy="2087.3" r="10.8" stroke="#a9a9a9"/>
<circle cx="1187.2" cy="2087.3" r="10.8" stroke="#a9a9a9"/>
<circle cx="90.1" cy="2116.2" r="10.8" stroke="#a9a9a9"/>
<circle cx="120.6" cy="2116.2" r="10.8" stroke="#a9a9a9"/>
<circle cx="151.1" cy="2116.2" r="10.8" stroke="#a9a9a9"/>
<circle cx="181.5" cy="2116.2" r="10.8" stroke="#bebebe"/>
<circle cx="212.0" cy="2116.2" r="10.8" stroke="#bebebe"/>
<circle cx="242.5" cy="2116.2" r="10.8" stroke="#bebebe"/>
<circle cx="273.0" cy="2116.2" r="10.8" stroke="#bebebe"/>
<circle cx="303.4" cy="2116.2" r="10.8" stroke="#bebebe"/>
<circle cx="333.9" cy="2116.2" r="10.8" stroke="#d8d8d8"/>
<circle cx="364.4" cy="2116.2" r="10.8" stroke="#d8d8d8"/>
<circle cx="394.8" cy="2116.2" r="10.8" stroke="#d8d8d8"/>
<circle cx="425.3" cy="2116.2" r="10.8" stroke="#d8d8d8"/>
<circle cx="455.8" cy="2116.2" r="10.8" stroke="#d8d8d8"/>
<circle cx="486.3" cy="2116.2" r="10.8" stroke="#ebebeb"/>
<circle cx="516.7" cy="2116.2" r="10.8" stroke="#ebebeb"/>
<circle cx="577.7" cy="2116.2" r="10.8" stroke="#ebebeb"/>
<circle cx="608.2" cy="2116.2" r="10.8" stroke="#d8d8d8"/>
<circle cx="638.6" cy="2116.2" r="10.8" stroke="#d8d8d8"/>
<circle cx="669.1" cy="2116.2" r="10.8" stroke="#d8d8d8"/>
<circle cx="699.6" cy="2116.2" r="10.8" stroke="#d8d8d8"/>
<circle cx="730.1" cy="2116.2" r="10.8" stroke="#d8d8d8"/>
<circle cx="760.5" cy="2116.2" r="10.8" stroke="#ebebeb"/>
<circle cx="791.0" cy="2116.2" r="10.8" stroke="#bebebe"/>
<circle cx="852.0" cy="2116.2" r="10.8" stroke="#d8d8d8"/>
<circle cx="882.4" cy="2116.2" r="10.8" stroke="#d8d8d8"/>
<circle cx="912.9" cy="2116.2" r="10.8" stroke="#bebebe"/>
<circle cx="943.4" cy="2116.2" r="10.8" stroke="#bebebe"/>
<circle cx="973.9" cy="2116.2" r="10.8" stroke="#bebebe"/>
<circle cx="1004.3" cy="2116.2" r="10.8" stroke="#bebebe"/>
<circle cx="1034.8" cy="2116.2" r="10.8" stroke="#bebebe"/>
<circle cx="1065.3" cy="2116.2" r="10.8" stroke="#bebebe"/>
<circle cx="1095.8" cy="2116.2" r="10.8" stroke="#bebebe"/>
<circle cx="1126.2" cy="2116.2" r="10.8" stroke="#a9a9a9"/>
<circle cx="1156.7" cy="2116.2" r="10.8" stroke="#a9a9a9"/>
<circle cx="1187.2" cy="2116.2" r="10.8" stroke="#a9a9a9"/>
<circle cx="90.1" cy="2145.1" r="10.8" stroke="#a9a9a9"/>
<circle cx="120.6" cy="2145.1" r="10.8" stroke="#a9a9a9"/>
<circle cx="151.1" cy="2145.1" r="10.8" stroke="#a9a9a9"/>
<circle cx="181.5" cy="2145.1" r="10.8" stroke="#a9a9a9"/>
<circle cx="212.0" cy="2145.1" r="10.8" stroke="#bebebe"/>
<circle cx="242.5" cy="2145.1" r="10.8" stroke="#bebebe"/>
<circle cx="273.0" cy="2145.1" r="10.8" stroke="#bebebe"/>
<circle cx="303.4" cy="2145.1" r="10.8" stroke="#bebebe"/>
<circle cx="333.9" cy="2145.1" r="10.8" stroke="#bebebe"/>
<circle cx="364.4" cy="2145.1" r="10.8" stroke="#d8d8d8"/>
<circle cx="394.8" cy="2145.1" r="10.8" stroke="#d8d8d8"/>
<circle cx="425.3" cy="2145.1" r="10.8" stroke="#d8d8d8"/>
<circle cx="455.8" cy="2145.1" r="10.8" stroke="#d8d8d8"/>
<circle cx="486.3" cy="2145.1" r="10.8" stroke="#ebebeb"/>
<circle cx="516.7" cy="2145.1" r="10.8" stroke="#ebebeb"/>
<circle cx="547.2" cy="2145.1" r="10.8" stroke="#ebebeb"/>
<circle cx="577.7" cy="2145.1" r="10.8" stroke="#ebebeb"/>
<circle cx="608.2" cy="2145.1" r="10.8" stroke="#ebebeb"/>
<circle cx="638.6" cy="2145.1" r="10.8" stroke="#ebebeb"/>
<circle cx="669.1" cy="2145.1" r="10.8" stroke="#ebebeb"/>
<circle cx="699.6" cy="2145.1" r="10.8" stroke="#ebebeb"/>
<circle cx="730.1" cy="2145.1" r="10.8" stroke="#ebebeb"/>
<circle cx="760.5" cy="2145.1" r="10.8" stroke="#d8d8d8"/>
<circle cx="791.0" cy="2145.1" r="10.8" stroke="#d8d8d8"/>
<circle cx="821.5" cy="2145.1" r="10.8" stroke="#d8d8d8"/>
<circle cx="852.0" cy="2145.1" r="10.8" stroke="#bebebe"/>
<circle cx="882.4" cy="2145.1" r="10.8" stroke="#bebebe"/>
<circle cx="912.9" cy="2145.1" r="10.8" stroke="#bebebe"/>
<circle cx="943.4" cy="2145.1" r="10.8" stroke="#bebebe"/>
<circle cx="973.9" cy="2145.1" r="10.8" stroke="#bebebe"/>
<circle cx="1004.3" cy="2145.1" r="10.8" stroke="#bebebe"/>
<circle cx="1034.8" cy="2145.1" r="10.8" stroke="#a9a9a9"/>
<circle cx="1065.3" cy="2145.1" r="10.8" stroke="#a9a9a9"/>
<circle cx="1095.8" cy="2145.1" r="10.8" stroke="#a9a9a9"/>
<circle cx="1126.2" cy="2145.1" r="10.8" stroke="#a9a9a9"/>
<circle cx="1156.7" cy="2145.1" r="10.8" stroke="#a9a9a9"/>
<circle cx="1187.2" cy="2145.1" r="10.8" stroke="#a9a9a9"/>
<circle cx="90.1" cy="2174.1" r="10.8" stroke="#979797"/>
<circle cx="120.6" cy="2174.1" r="10.8" stroke="#979797"/>
<circle cx="151.1" cy="2174.1" r="10.8" stroke="#979797"/>
<circle cx="181.5" cy="2174.1" r="10.8" stroke="#a9a9a9"/>
<circle cx="212.0" cy="2174.1" r="10.8" stroke="#a9a9a9"/>
<circle cx="242.5" cy="2174.1" r="10.8" stroke="#bebebe"/>
<circle cx="273.0" cy="2174.1" r="10.8" stroke="#bebebe"/>
<circle cx="303.4" cy="2174.1" r="10.8" stroke="#bebebe"/>
<circle cx="333.9" cy="2174.1" r="10.8" stroke="#bebebe"/>
<circle cx="364.4" cy="2174.1" r="10.8" stroke="#bebebe"/>
<circle cx="394.8" cy="2174.1" r="10.8" stroke="#d8d8d8"/>
<circle cx="425.3" cy="2174.1" r="10.8" stroke="#d8d8d8"/>
<circle cx="455.8" cy="2174.1" r="10.8" stroke="#d8d8d8"/>
<circle cx="486.3" cy="2174.1" r="10.8" stroke="#d8d8d8"/>
<circle cx="516.7" cy="2174.1" r="10.8" stroke="#7e7e7e"/>
<circle cx="547.2" cy="2174.1" r="10.8" stroke="#ebebeb"/>
<circle cx="577.7" cy="2174.1" r="10.8" stroke="#ebebeb"/>
<circle cx="608.2" cy="2174.1" r="10.8" stroke="#ebebeb"/>
<circle cx="638.6" cy="2174.1" r="10.8" stroke="#ebebeb"/>
<circle cx="669.1" cy="2174.1" r="10.8" stroke="#ebebeb"/>
<circle cx="699.6" cy="2174.1" r="10.8" stroke="#ebebeb"/>
<circle cx="730.1" cy="2174.1" r="10.8" stroke="#ebebeb"/>
<circle cx="760.5" cy="2174.1" r="10.8" stroke="#d8d8d8"/>
<circle cx="791.0" cy="2174.1" r="10.8" stroke="#d8d8d8"/>
<circle cx="821.5" cy="2174.1" r="10.8" stroke="#bebebe"/>
<circle cx="852.0" cy="2174.1" r="10.8" stroke="#bebebe"/>
<circle cx="882.4" cy="2174.1" r="10.8" stroke="#bebebe"/>
<circle cx="912.9" cy="2174.1" r="10.8" stroke="#bebebe"/>
<circle cx="943.4" cy="2174.1" r="10.8" stroke="#bebebe"/>
<circle cx="973.9" cy="2174.1" r="10.8" stroke="#bebebe"/>
<circle cx="1004.3" cy="2174.1" r="10.8" stroke="#a9a9a9"/>
<circle cx="1034.8" cy="2174.1" r="10.8" stroke="#a9a9a9"/>
<circle cx="1065.3" cy="2174.1" r="10.8" stroke="#a9a9a9"/>
<circle cx="1095.8" cy="2174.1" r="10.8" stroke="#a9a9a9"/>
<circle cx="1126.2" cy="2174.1" r="10.8" stroke="#979797"/>
<circle cx="1156.7" cy="2174.1" r="10.8" stroke="#979797"/>
<circle cx="1187.2" cy="2174.1" r="10.8" stroke="#979797"/>
<circle cx="90.1" cy="2203.0" r="10.8" stroke="#979797"/>
<circle cx="120.6" cy="2203.0" r="10.8" stroke="#979797"/>
<circle cx="151.1" cy="2203.0" r="10.8" stroke="#979797"/>
<circle cx="181.5" cy="2203.0" r="10.8" stroke="#a9a9a9"/>
<circle cx="212.0" cy="2203.0" r="10.8" stroke="#a9a9a9"/>
<circle cx="242.5" cy="2203.0" r="10.8" stroke="#a9a9a9"/>
<circle cx="273.0" cy="2203.0" r="10.8" stroke="#bebebe"/>
<circle cx="303.4" cy="2203.0" r="10.8" stroke="#bebebe"/>
<circle cx="333.9" cy="2203.0" r="10.8" stroke="#bebebe"/>
<circle cx="364.4" cy="2203.0" r="10.8" stroke="#bebebe"/>
<circle cx="394.8" cy="2203.0" r="10.8" stroke="#bebebe"/>
<circle cx="425.3" cy="2203.0" r="10.8" stroke="#bebebe"/>
<circle cx="455.8" cy="2203.0" r="10.8" stroke="#d8d8d8"/>
<circle cx="486.3" cy="2203.0" r="10.8" stroke="#d8d8d8"/>
<circle cx="516.7" cy="2203.0" r="10.8" stroke="#d8d8d8"/>
<circle cx="547.2" cy="2203.0" r="10.8" stroke="#d8d8d8"/>
<circle cx="577.7" cy="2203.0" r="10.8" stroke="#bebebe"/>
<circle cx="608.2" cy="2203.0" r="10.8" stroke="#bebebe"/>
<circle cx="638.6" cy="2203.0" r="10.8" stroke="#bebebe"/>
<circle cx="669.1" cy="2203.0" r="10.8" stroke="#bebebe"/>
<circle cx="699.6" cy="2203.0" r="10.8" stroke="#a9a9a9"/>
<circle cx="730.1" cy="2203.0" r="10.8" stroke="#a9a9a9"/>
<circle cx="760.5" cy="2203.0" r="10.8" stroke="#a9a9a9"/>
<circle cx="791.0" cy="2203.0" r="10.8" stroke="#a9a9a9"/>
<circle cx="821.5" cy="2203.0" r="10.8" stroke="#a9a9a9"/>
<circle cx="852.0" cy="2203.0" r="10.8" stroke="#a9a9a9"/>
<circle cx="882.4" cy="2203.0" r="10.8" stroke="#a9a9a9"/>
<circle cx="912.9" cy="2203.0" r="10.8" stroke="#a9a9a9"/>
<circle cx="943.4" cy="2203.0" r="10.8" stroke="#a9a9a9"/>
<circle cx="973.9" cy="2203.0" r="10.8" stroke="#a9a9a9"/>
<circle cx="1004.3" cy="2203.0" r="10.8" stroke="#7e7e7e"/>
<circle cx="1034.8" cy="2203.0" r="10.8" stroke="#a9a9a9"/>
<circle cx="1065.3" cy="2203.0" r="10.8" stroke="#a9a9a9"/>
<circle cx="1095.8" cy="2203.0" r="10.8" stroke="#a9a9a9"/>
<circle cx="1126.2" cy="2203.0" r="10.8" stroke="#979797"/>
<circle cx="1156.7" cy="2203.0" r="10.8" stroke="#979797"/>
<circle cx="1187.2" cy="2203.0" r="10.8" stroke="#979797"/>
<circle cx="90.1" cy="2231.9" r="10.8" stroke="#979797"/>
<circle cx="120.6" cy="2231.9" r="10.8" stroke="#979797"/>
<circle cx="151.1" cy="2231.9" r="10.8" stroke="#979797"/>
<circle cx="181.5" cy="2231.9" r="10.8" stroke="#979797"/>
<circle cx="212.0" cy="2231.9" r="10.8" stroke="#a9a9a9"/>
<circle cx="242.5" cy="2231.9" r="10.8" stroke="#a9a9a9"/>
<circle cx="273.0" cy="2231.9" r="10.8" stroke="#a9a9a9"/>
<circle cx="303.4" cy="2231.9" r="10.8" stroke="#a9a9a9"/>
<circle cx="333.9" cy="2231.9" r="10.8" stroke="#a9a9a9"/>
<circle cx="364.4" cy="2231.9" r="10.8" stroke="#a9a9a9"/>
<circle cx="394.8" cy="2231.9" r="10.8" stroke="#a9a9a9"/>
<circle cx="425.3" cy="2231.9" r="10.8" stroke="#a9a9a9"/>
<circle cx="455.8" cy="2231.9" r="10.8" stroke="#a9a9a9"/>
<circle cx="486.3" cy="2231.9" r="10.8" stroke="#a9a9a9"/>
<circle cx="516.7" cy="2231.9" r="10.8" stroke="#a9a9a9"/>
<circle cx="547.2" cy="2231.9" r="10.8" stroke="#a9a9a9"/>
<circle cx="577.7" cy="2231.9" r="10.8" stroke="#a9a9a9"/>
<circle cx="608.2" cy="2231.9" r="10.8" stroke="#a9a9a9"/>
<circle cx="638.6" cy="2231.9" r="10.8" stroke="#a9a9a9"/>
<circle cx="669.1" cy="2231.9" r="10.8" stroke="#a9a9a9"/>
<circle cx="699.6" cy="2231.9" r="10.8" stroke="#a9a9a9"/>
<circle cx="730.1" cy="2231.9" r="10.8" stroke="#a9a9a9"/>
<circle cx="760.5" cy="2231.9" r="10.8" stroke="#a9a9a9"/>
<circle cx="791.0" cy="2231.9" r="10.8" stroke="#a9a9a9"/>
<circle cx="821.5" cy="2231.9" r="10.8" stroke="#a9a9a9"/>
<circle cx="852.0" cy="2231.9" r="10.8" stroke="#a9a9a9"/>
<circle cx="882.4" cy="2231.9" r="10.8" stroke="#a9a9a9"/>
<circle cx="912.9" cy="2231.9" r="10.8" stroke="#a9a9a9"/>
<circle cx="943.4" cy="2231.9" r="10.8" stroke="#a9a9a9"/>
<circle cx="973.9" cy="2231.9" r="10.8" stroke="#a9a9a9"/>
<circle cx="1004.3" cy="2231.9" r="10.8" stroke="#a9a9a9"/>
<circle cx="1034.8" cy="2231.9" r="10.8" stroke="#a9a9a9"/>
<circle cx="1065.3" cy="2231.9" r="10.8" stroke="#a9a9a9"/>
<circle cx="1095.8" cy="2231.9" r="10.8" stroke="#979797"/>
<circle cx="1126.2" cy="2231.9" r="10.8" stroke="#979797"/>
<circle cx="1156.7" cy="2231.9" r="10.8" stroke="#979797"/>
<circle cx="1187.2" cy="2231.9" r="10.8" stroke="#979797"/>
<circle cx="90.1" cy="2260.8" r="10.8" stroke="#979797"/>
<circle cx="120.6" cy="2260.8" r="10.8" stroke="#979797"/>
<circle cx="151.1" cy="2260.8" r="10.8" stroke="#979797"/>
<circle cx="181.5" cy="2260.8" r="10.8" stroke="#979797"/>
<circle cx="212.0" cy="2260.8" r="10.8" stroke="#979797"/>
<circle cx="242.5" cy="2260.8" r="10.8" stroke="#979797"/>
<circle cx="273.0" cy="2260.8" r="10.8" stroke="#a9a9a9"/>
<circle cx="303.4" cy="2260.8" r="10.8" stroke="#a9a9a9"/>
<circle cx="333.9" cy="2260.8" r="10.8" stroke="#a9a9a9"/>
<circle cx="364.4" cy="2260.8" r="10.8" stroke="#a9a9a9"/>
<circle cx="394.8" cy="2260.8" r="10.8" stroke="#a9a9a9"/>
<circle cx="425.3" cy="2260.8" r="10.8" stroke="#a9a9a9"/>
<circle cx="455.8" cy="2260.8" r="10.8" stroke="#a9a9a9"/>
<circle cx="486.3" cy="2260.8" r="10.8" stroke="#a9a9a9"/>
<circle cx="516.7" cy="2260.8" r="10.8" stroke="#a9a9a9"/>
<circle cx="547.2" cy="2260.8" r="10.8" stroke="#a9a9a9"/>
<circle cx="577.7" cy="2260.8" r="10.8" stroke="#a9a9a9"/>
<circle cx="608.2" cy="2260.8" r="10.8" stroke="#a9a9a9"/>
<circle cx="638.6" cy="2260.8" r="10.8" stroke="#a9a9a9"/>
<circle cx="669.1" cy="2260.8" r="10.8" stroke="#a9a9a9"/>
<circle cx="699.6" cy="2260.8" r="10.8" stroke="#a9a9a9"/>
<circle cx="730.1" cy="2260.8" r="10.8" stroke="#a9a9a9"/>
<circle cx="760.5" cy="2260.8" r="10.8" stroke="#a9a9a9"/>
<circle cx="791.0" cy="2260.8" r="10.8" stroke="#a9a9a9"/>
<circle cx="821.5" cy="2260.8" r="10.8" stroke="#a9a9a9"/>
<circle cx="852.0" cy="2260.8" r="10.8" stroke="#a9a9a9"/>
<circle cx="882.4" cy="2260.8" r="10.8" stroke="#a9a9a9"/>
<circle cx="912.9" cy="2260.8" r="10.8" stroke="#a9a9a9"/>
<circle cx="943.4" cy="2260.8" r="10.8" stroke="#a9a9a9"/>
<circle cx="973.9" cy="2260.8" r="10.8" stroke="#a9a9a9"/>
<circle cx="1004.3" cy="2260.8" r="10.8" stroke="#a9a9a9"/>
<circle cx="1034.8" cy="2260.8" r="10.8" stroke="#979797"/>
<circle cx="1065.3" cy="2260.8" r="10.8" stroke="#979797"/>
<circle cx="1095.8" cy="2260.8" r="10.8" stroke="#979797"/>
<circle cx="1126.2" cy="2260.8" r="10.8" stroke="#979797"/>
<circle cx="1156.7" cy="2260.8" r="10.8" stroke="#979797"/>
<circle cx="1187.2" cy="2260.8" r="10.8" stroke="#979797"/>
<circle cx="90.1" cy="2289.7" r="10.8" stroke="#979797"/>
<circle cx="120.6" cy="2289.7" r="10.8" stroke="#979797"/>
<circle cx="151.1" cy="2289.7" r="10.8" stroke="#979797"/>
<circle cx="181.5" cy="2289.7" r="10.8" stroke="#979797"/>
<circle cx="212.0" cy="2289.7" r="10.8" stroke="#979797"/>
<circle cx="242.5" cy="2289.7" r="10.8" stroke="#979797"/>
<circle cx="273.0" cy="2289.7" r="10.8" stroke="#979797"/>
<circle cx="303.4" cy="2289.7" r="10.8" stroke="#979797"/>
<circle cx="333.9" cy="2289.7" r="10.8" stroke="#979797"/>
<circle cx="364.4" cy="2289.7" r="10.8" stroke="#979797"/>
<circle cx="394.8" cy="2289.7" r="10.8" stroke="#979797"/>
<circle cx="425.3" cy="2289.7" r="10.8" stroke="#979797"/>
<circle cx="455.8" cy="2289.7" r="10.8" stroke="#979797"/>
<circle cx="486.3" cy="2289.7" r="10.8" stroke="#979797"/>
<circle cx="516.7" cy="2289.7" r="10.8" stroke="#979797"/>
<circle cx="547.2" cy="2289.7" r="10.8" stroke="#979797"/>
<circle cx="577.7" cy="2289.7" r="10.8" stroke="#979797"/>
<circle cx="608.2" cy="2289.7" r="10.8" stroke="#979797"/>
<circle cx="638.6" cy="2289.7" r="10.8" stroke="#979797"/>
<circle cx="669.1" cy="2289.7" r="10.8" stroke="#979797"/>
<circle cx="699.6" cy="2289.7" r="10.8" stroke="#979797"/>
<circle cx="730.1" cy="2289.7" r="10.8" stroke="#979797"/>
<circle cx="760.5" cy="2289.7" r="10.8" stroke="#979797"/>
<circle cx="791.0" cy="2289.7" r="10.8" stroke="#979797"/>
<circle cx="821.5" cy="2289.7" r="10.8" stroke="#979797"/>
<circle cx="852.0" cy="2289.7" r="10.8" stroke="#979797"/>
<circle cx="882.4" cy="2289.7" r="10.8" stroke="#979797"/>
<circle cx="912.9" cy="2289.7" r="10.8" stroke="#979797"/>
<circle cx="943.4" cy="2289.7" r="10.8" stroke="#979797"/>
<circle cx="973.9" cy="2289.7" r="10.8" stroke="#979797"/>
<circle cx="1004.3" cy="2289.7" r="10.8" stroke="#979797"/>
<circle cx="1034.8" cy="2289.7" r="10.8" stroke="#979797"/>
<circle cx="1065.3" cy="2289.7" r="10.8" stroke="#979797"/>
<circle cx="1095.8" cy="2289.7" r="10.8" stroke="#979797"/>
<circle cx="1126.2" cy="2289.7" r="10.8" stroke="#979797"/>
<circle cx="1156.7" cy="2289.7" r="10.8" stroke="#979797"/>
<circle cx="1187.2" cy="2289.7" r="10.8" stroke="#979797"/>
</g><g opacity="0.93">
<circle cx="273.0" cy="1220.0" r="8.3" fill="#ff9999"/>
<circle cx="303.4" cy="1220.0" r="8.3" fill="#ff9999"/>
<circle cx="333.9" cy="1220.0" r="8.3" fill="#ff9999"/>
<circle cx="364.4" cy="1220.0" r="8.3" fill="#ff9999"/>
<circle cx="394.8" cy="1220.0" r="8.3" fill="#ff9999"/>
<circle cx="425.3" cy="1220.0" r="8.3" fill="#ff9999"/>
<circle cx="455.8" cy="1220.0" r="8.3" fill="#ff9999"/>
<circle cx="486.3" cy="1220.0" r="8.3" fill="#ff9999"/>
<circle cx="516.7" cy="1220.0" r="8.3" fill="#ff9999"/>
<circle cx="547.2" cy="1220.0" r="8.3" fill="#ff9999"/>
<circle cx="577.7" cy="1220.0" r="8.3" fill="#ff9999"/>
<circle cx="608.2" cy="1220.0" r="8.3" fill="#ff9999"/>
<circle cx="638.6" cy="1220.0" r="8.3" fill="#ff9999"/>
<circle cx="669.1" cy="1220.0" r="8.3" fill="#ff9999"/>
<circle cx="699.6" cy="1220.0" r="8.3" fill="#ff9999"/>
<circle cx="730.1" cy="1220.0" r="8.3" fill="#ff9999"/>
<circle cx="760.5" cy="1220.0" r="8.3" fill="#ff9999"/>
<circle cx="791.0" cy="1220.0" r="8.3" fill="#ff9999"/>
<circle cx="821.5" cy="1220.0" r="8.3" fill="#ff9999"/>
<circle cx="852.0" cy="1220.0" r="8.3" fill="#ff9999"/>
<circle cx="882.4" cy="1220.0" r="8.3" fill="#ff9999"/>
<circle cx="912.9" cy="1220.0" r="8.3" fill="#ff9999"/>
<circle cx="943.4" cy="1220.0" r="8.3" fill="#ff9999"/>
<circle cx="973.9" cy="1220.0" r="8.3" fill="#ff9999"/>
<circle cx="1004.3" cy="1220.0" r="8.3" fill="#ff9999"/>
<circle cx="242.5" cy="1248.9" r="8.3" fill="#ff9999"/>
<circle cx="273.0" cy="1248.9" r="8.3" fill="#ff9999"/>
<circle cx="303.4" cy="1248.9" r="8.3" fill="#ff9999"/>
<circle cx="333.9" cy="1248.9" r="8.3" fill="#ff9999"/>
<circle cx="364.4" cy="1248.9" r="8.3" fill="#ff9999"/>
<circle cx="394.8" cy="1248.9" r="8.3" fill="#ff9999"/>
<circle cx="425.3" cy="1248.9" r="8.3" fill="#ff9999"/>
<circle cx="455.8" cy="1248.9" r="8.3" fill="#ff9999"/>
<circle cx="486.3" cy="1248.9" r="8.3" fill="#ff9999"/>
<circle cx="516.7" cy="1248.9" r="8.3" fill="#ff9999"/>
<circle cx="547.2" cy="1248.9" r="8.3" fill="#ff9999"/>
<circle cx="577.7" cy="1248.9" r="8.3" fill="#ff9999"/>
<circle cx="608.2" cy="1248.9" r="8.3" fill="#ffa6a6"/>
<circle cx="638.6" cy="1248.9" r="8.3" fill="#ffb2b2"/>
<circle cx="669.1" cy="1248.9" r="8.3" fill="#ffb2b2"/>
<circle cx="699.6" cy="1248.9" r="8.3" fill="#ffa6a6"/>
<circle cx="730.1" cy="1248.9" r="8.3" fill="#ffa6a6"/>
<circle cx="760.5" cy="1248.9" r="8.3" fill="#ff9999"/>
<circle cx="791.0" cy="1248.9" r="8.3" fill="#ff9999"/>
<circle cx="821.5" cy="1248.9" r="8.3" fill="#ff9999"/>
<circle cx="852.0" cy="1248.9" r="8.3" fill="#ff9999"/>
<circle cx="882.4" cy="1248.9" r="8.3" fill="#ff9999"/>
<circle cx="912.9" cy="1248.9" r="8.3" fill="#ff9999"/>
<circle cx="943.4" cy="1248.9" r="8.3" fill="#ff9999"/>
<circle cx="973.9" cy="1248.9" r="8.3" fill="#ff9999"/>
<circle cx="1004.3" cy="1248.9" r="8.3" fill="#ff9999"/>
<circle cx="1034.8" cy="1248.9" r="8.3" fill="#ff9999"/>
<circle cx="181.5" cy="1277.8" r="8.3" fill="#ff6666"/>
<circle cx="212.0" cy="1277.8" r="8.3" fill="#ff9999"/>
<circle cx="242.5" cy="1277.8" r="8.3" fill="#ff9999"/>
<circle cx="273.0" cy="1277.8" r="8.3" fill="#ff9999"/>
<circle cx="303.4" cy="1277.8" r="8.3" fill="#ff9999"/>
<circle cx="333.9" cy="1277.8" r="8.3" fill="#ff9999"/>
<circle cx="364.4" cy="1277.8" r="8.3" fill="#ff9999"/>
<circle cx="394.8" cy="1277.8" r="8.3" fill="#ff8080"/>
<circle cx="425.3" cy="1277.8" r="8.3" fill="#ff8080"/>
<circle cx="455.8" cy="1277.8" r="8.3" fill="#ff8080"/>
<circle cx="486.3" cy="1277.8" r="8.3" fill="#ff8080"/>
<circle cx="516.7" cy="1277.8" r="8.3" fill="#ff8080"/>
<circle cx="547.2" cy="1277.8" r="8.3" fill="#ff8c8c"/>
<circle cx="577.7" cy="1277.8" r="8.3" fill="#ff9999"/>
<circle cx="608.2" cy="1277.8" r="8.3" fill="#ffb2b2"/>
<circle cx="638.6" cy="1277.8" r="8.3" fill="#ff8c8c"/>
<circle cx="669.1" cy="1277.8" r="8.3" fill="#ffbfbf"/>
<circle cx="699.6" cy="1277.8" r="8.3" fill="#ff9999"/>
<circle cx="730.1" cy="1277.8" r="8.3" fill="#ff9999"/>
<circle cx="760.5" cy="1277.8" r="8.3" fill="#ff8c8c"/>
<circle cx="791.0" cy="1277.8" r="8.3" fill="#ff8080"/>
<circle cx="821.5" cy="1277.8" r="8.3" fill="#ff8080"/>
<circle cx="852.0" cy="1277.8" r="8.3" fill="#ff8c8c"/>
<circle cx="882.4" cy="1277.8" r="8.3" fill="#ff8080"/>
<circle cx="912.9" cy="1277.8" r="8.3" fill="#ff8080"/>
<circle cx="943.4" cy="1277.8" r="8.3" fill="#ff8080"/>
<circle cx="973.9" cy="1277.8" r="8.3" fill="#ff8080"/>
<circle cx="1004.3" cy="1277.8" r="8.3" fill="#ff8c8c"/>
<circle cx="1034.8" cy="1277.8" r="8.3" fill="#ff8c8c"/>
<circle cx="1065.3" cy="1277.8" r="8.3" fill="#ff9999"/>
<circle cx="1095.8" cy="1277.8" r="8.3" fill="#ffcccc"/>
<circle cx="120.6" cy="1306.7" r="8.3" fill="#ff6666"/>
<circle cx="151.1" cy="1306.7" r="8.3" fill="#ff9999"/>
<circle cx="181.5" cy="1306.7" r="8.3" fill="#ff9999"/>
<circle cx="212.0" cy="1306.7" r="8.3" fill="#ff9999"/>
<circle cx="242.5" cy="1306.7" r="8.3" fill="#ff9999"/>
<circle cx="273.0" cy="1306.7" r="8.3" fill="#ff9999"/>
<circle cx="303.4" cy="1306.7" r="8.3" fill="#ff9999"/>
<circle cx="333.9" cy="1306.7" r="8.3" fill="#ff8080"/>
<circle cx="364.4" cy="1306.7" r="8.3" fill="#ff8080"/>
<circle cx="394.8" cy="1306.7" r="8.3" fill="#ff8080"/>
<circle cx="425.3" cy="1306.7" r="8.3" fill="#ff8080"/>
<circle cx="455.8" cy="1306.7" r="8.3" fill="#ff6666"/>
<circle cx="486.3" cy="1306.7" r="8.3" fill="#ff6666"/>
<circle cx="516.7" cy="1306.7" r="8.3" fill="#ff8080"/>
<circle cx="547.2" cy="1306.7" r="8.3" fill="#ff8080"/>
<circle cx="577.7" cy="1306.7" r="8.3" fill="#ff7373"/>
<circle cx="608.2" cy="1306.7" r="8.3" fill="#ff1919"/>
<circle cx="638.6" cy="1306.7" r="8.3" fill="#ff1919"/>
<circle cx="669.1" cy="1306.7" r="8.3" fill="#ff1919"/>
<circle cx="699.6" cy="1306.7" r="8.3" fill="#ff1919"/>
<circle cx="730.1" cy="1306.7" r="8.3" fill="#ff4d4d"/>
<circle cx="760.5" cy="1306.7" r="8.3" fill="#ff8080"/>
<circle cx="791.0" cy="1306.7" r="8.3" fill="#ff7373"/>
<circle cx="821.5" cy="1306.7" r="8.3" fill="#ff7373"/>
<circle cx="852.0" cy="1306.7" r="8.3" fill="#ff7373"/>
<circle cx="882.4" cy="1306.7" r="8.3" fill="#ff7373"/>
<circle cx="912.9" cy="1306.7" r="8.3" fill="#ff7373"/>
<circle cx="943.4" cy="1306.7" r="8.3" fill="#ff7373"/>
<circle cx="973.9" cy="1306.7" r="8.3" fill="#ff8080"/>
<circle cx="1004.3" cy="1306.7" r="8.3" fill="#ff8c8c"/>
<circle cx="1034.8" cy="1306.7" r="8.3" fill="#ff8c8c"/>
<circle cx="1065.3" cy="1306.7" r="8.3" fill="#ff9999"/>
<circle cx="1095.8" cy="1306.7" r="8.3" fill="#ff9999"/>
<circle cx="1126.2" cy="1306.7" r="8.3" fill="#ff9999"/>
<circle cx="1156.7" cy="1306.7" r="8.3" fill="#ffbfbf"/>
<circle cx="90.1" cy="1335.6" r="8.3" fill="#ff9999"/>
<circle cx="120.6" cy="1335.6" r="8.3" fill="#ff9999"/>
<circle cx="151.1" cy="1335.6" r="8.3" fill="#ff9999"/>
<circle cx="181.5" cy="1335.6" r="8.3" fill="#ff9999"/>
<circle cx="212.0" cy="1335.6" r="8.3" fill="#ff9999"/>
<circle cx="242.5" cy="1335.6" r="8.3" fill="#ff9999"/>
<circle cx="273.0" cy="1335.6" r="8.3" fill="#ff9999"/>
<circle cx="303.4" cy="1335.6" r="8.3" fill="#ff9999"/>
<circle cx="333.9" cy="1335.6" r="8.3" fill="#ff8080"/>
<circle cx="364.4" cy="1335.6" r="8.3" fill="#ff8080"/>
<circle cx="394.8" cy="1335.6" r="8.3" fill="#ff8080"/>
<circle cx="425.3" cy="1335.6" r="8.3" fill="#ff8080"/>
<circle cx="455.8" cy="1335.6" r="8.3" fill="#ff8080"/>
<circle cx="486.3" cy="1335.6" r="8.3" fill="#ff8080"/>
<circle cx="516.7" cy="1335.6" r="8.3" fill="#ff1919"/>
<circle cx="547.2" cy="1335.6" r="8.3" fill="#ff0000"/>
<circle cx="577.7" cy="1335.6" r="8.3" fill="#ff0000"/>
<circle cx="608.2" cy="1335.6" r="8.3" fill="#ff0000"/>
<circle cx="638.6" cy="1335.6" r="8.3" fill="#ff0000"/>
<circle cx="669.1" cy="1335.6" r="8.3" fill="#ff0000"/>
<circle cx="699.6" cy="1335.6" r="8.3" fill="#ff0000"/>
<circle cx="730.1" cy="1335.6" r="8.3" fill="#ff0000"/>
<circle cx="760.5" cy="1335.6" r="8.3" fill="#ff1919"/>
<circle cx="791.0" cy="1335.6" r="8.3" fill="#ff4d4d"/>
<circle cx="821.5" cy="1335.6" r="8.3" fill="#ff5959"/>
<circle cx="852.0" cy="1335.6" r="8.3" fill="#ff6666"/>
<circle cx="882.4" cy="1335.6" r="8.3" fill="#ff6666"/>
<circle cx="912.9" cy="1335.6" r="8.3" fill="#ff7373"/>
<circle cx="943.4" cy="1335.6" r="8.3" fill="#ff8080"/>
<circle cx="973.9" cy="1335.6" r="8.3" fill="#ff8080"/>
<circle cx="1004.3" cy="1335.6" r="8.3" fill="#ff8080"/>
<circle cx="1034.8" cy="1335.6" r="8.3" fill="#ff8c8c"/>
<circle cx="1065.3" cy="1335.6" r="8.3" fill="#ff9999"/>
<circle cx="1095.8" cy="1335.6" r="8.3" fill="#ff9999"/>
<circle cx="1126.2" cy="1335.6" r="8.3" fill="#ff9999"/>
<circle cx="1156.7" cy="1335.6" r="8.3" fill="#ffa6a6"/>
<circle cx="1187.2" cy="1335.6" r="8.3" fill="#ffa6a6"/>
<circle cx="90.1" cy="1364.5" r="8.3" fill="#ff9999"/>
<circle cx="120.6" cy="1364.5" r="8.3" fill="#ff9999"/>
<circle cx="151.1" cy="1364.5" r="8.3" fill="#ff9999"/>
<circle cx="181.5" cy="1364.5" r="8.3" fill="#ff9999"/>
<circle cx="212.0" cy="1364.5" r="8.3" fill="#ff9999"/>
<circle cx="242.5" cy="1364.5" r="8.3" fill="#ff9999"/>
<circle cx="273.0" cy="1364.5" r="8.3" fill="#ff8080"/>
<circle cx="303.4" cy="1364.5" r="8.3" fill="#ff8080"/>
<circle cx="333.9" cy="1364.5" r="8.3" fill="#ff8080"/>
<circle cx="364.4" cy="1364.5" r="8.3" fill="#ff8080"/>
<circle cx="394.8" cy="1364.5" r="8.3" fill="#ff8080"/>
<circle cx="425.3" cy="1364.5" r="8.3" fill="#ff8080"/>
<circle cx="455.8" cy="1364.5" r="8.3" fill="#ff6666"/>
<circle cx="486.3" cy="1364.5" r="8.3" fill="#ff0000"/>
<circle cx="516.7" cy="1364.5" r="8.3" fill="#ff0000"/>
<circle cx="547.2" cy="1364.5" r="8.3" fill="#ff0000"/>
<circle cx="577.7" cy="1364.5" r="8.3" fill="#ff0000"/>
<circle cx="608.2" cy="1364.5" r="8.3" fill="#ff0000"/>
<circle cx="638.6" cy="1364.5" r="8.3" fill="#ff0000"/>
<circle cx="669.1" cy="1364.5" r="8.3" fill="#ff0000"/>
<circle cx="699.6" cy="1364.5" r="8.3" fill="#ff0000"/>
<circle cx="730.1" cy="1364.5" r="8.3" fill="#ff0000"/>
<circle cx="760.5" cy="1364.5" r="8.3" fill="#ff0000"/>
<circle cx="791.0" cy="1364.5" r="8.3" fill="#ff3333"/>
<circle cx="821.5" cy="1364.5" r="8.3" fill="#ff4d4d"/>
<circle cx="852.0" cy="1364.5" r="8.3" fill="#ff4d4d"/>
<circle cx="882.4" cy="1364.5" r="8.3" fill="#ff6666"/>
<circle cx="912.9" cy="1364.5" r="8.3" fill="#ff6666"/>
<circle cx="943.4" cy="1364.5" r="8.3" fill="#ff7373"/>
<circle cx="973.9" cy="1364.5" r="8.3" fill="#ff7373"/>
<circle cx="1004.3" cy="1364.5" r="8.3" fill="#ff8080"/>
<circle cx="1034.8" cy="1364.5" r="8.3" fill="#ff8080"/>
<circle cx="1065.3" cy="1364.5" r="8.3" fill="#ff8c8c"/>
<circle cx="1095.8" cy="1364.5" r="8.3" fill="#ff8c8c"/>
<circle cx="1126.2" cy="1364.5" r="8.3" fill="#ff9999"/>
<circle cx="1156.7" cy="1364.5" r="8.3" fill="#ff9999"/>
<circle cx="1187.2" cy="1364.5" r="8.3" fill="#ff9999"/>
<circle cx="90.1" cy="1393.4" r="8.3" fill="#ff9999"/>
<circle cx="120.6" cy="1393.4" r="8.3" fill="#ff9999"/>
<circle cx="151.1" cy="1393.4" r="8.3" fill="#ff9999"/>
<circle cx="181.5" cy="1393.4" r="8.3" fill="#ff9999"/>
<circle cx="212.0" cy="1393.4" r="8.3" fill="#ff9999"/>
<circle cx="242.5" cy="1393.4" r="8.3" fill="#ff9999"/>
<circle cx="273.0" cy="1393.4" r="8.3" fill="#ff8080"/>
<circle cx="303.4" cy="1393.4" r="8.3" fill="#ff8080"/>
<circle cx="333.9" cy="1393.4" r="8.3" fill="#ff8080"/>
<circle cx="364.4" cy="1393.4" r="8.3" fill="#ff6666"/>
<circle cx="394.8" cy="1393.4" r="8.3" fill="#ff6666"/>
<circle cx="425.3" cy="1393.4" r="8.3" fill="#ff4d4d"/>
<circle cx="455.8" cy="1393.4" r="8.3" fill="#ff1919"/>
<circle cx="486.3" cy="1393.4" r="8.3" fill="#ff0000"/>
<circle cx="516.7" cy="1393.4" r="8.3" fill="#ff0000"/>
<circle cx="547.2" cy="1393.4" r="8.3" fill="#ff1919"/>
<circle cx="577.7" cy="1393.4" r="8.3" fill="#ff8080"/>
<circle cx="608.2" cy="1393.4" r="8.3" fill="#ff9999"/>
<circle cx="638.6" cy="1393.4" r="8.3" fill="#ffa6a6"/>
<circle cx="669.1" cy="1393.4" r="8.3" fill="#ff8c8c"/>
<circle cx="699.6" cy="1393.4" r="8.3" fill="#ff8080"/>
<circle cx="730.1" cy="1393.4" r="8.3" fill="#ff6666"/>
<circle cx="760.5" cy="1393.4" r="8.3" fill="#ff0000"/>
<circle cx="791.0" cy="1393.4" r="8.3" fill="#ff0000"/>
<circle cx="821.5" cy="1393.4" r="8.3" fill="#ff1919"/>
<circle cx="852.0" cy="1393.4" r="8.3" fill="#ff3333"/>
<circle cx="882.4" cy="1393.4" r="8.3" fill="#ff6666"/>
<circle cx="912.9" cy="1393.4" r="8.3" fill="#ff4d4d"/>
<circle cx="943.4" cy="1393.4" r="8.3" fill="#ff5959"/>
<circle cx="973.9" cy="1393.4" r="8.3" fill="#ff6666"/>
<circle cx="1004.3" cy="1393.4" r="8.3" fill="#ff7373"/>
<circle cx="1034.8" cy="1393.4" r="8.3" fill="#ff7373"/>
<circle cx="1065.3" cy="1393.4" r="8.3" fill="#ff8080"/>
<circle cx="1095.8" cy="1393.4" r="8.3" fill="#ff8c8c"/>
<circle cx="1126.2" cy="1393.4" r="8.3" fill="#ff8c8c"/>
<circle cx="1156.7" cy="1393.4" r="8.3" fill="#ff9999"/>
<circle cx="1187.2" cy="1393.4" r="8.3" fill="#ff9999"/>
<circle cx="90.1" cy="1422.3" r="8.3" fill="#ff9999"/>
<circle cx="120.6" cy="1422.3" r="8.3" fill="#ff9999"/>
<circle cx="151.1" cy="1422.3" r="8.3" fill="#ff9999"/>
<circle cx="181.5" cy="1422.3" r="8.3" fill="#ff9999"/>
<circle cx="212.0" cy="1422.3" r="8.3" fill="#ff9999"/>
<circle cx="242.5" cy="1422.3" r="8.3" fill="#ff8080"/>
<circle cx="273.0" cy="1422.3" r="8.3" fill="#ff8080"/>
<circle cx="303.4" cy="1422.3" r="8.3" fill="#ff8080"/>
<circle cx="333.9" cy="1422.3" r="8.3" fill="#ff6666"/>
<circle cx="364.4" cy="1422.3" r="8.3" fill="#ff6666"/>
<circle cx="394.8" cy="1422.3" r="8.3" fill="#ff4d4d"/>
<circle cx="425.3" cy="1422.3" r="8.3" fill="#ff4d4d"/>
<circle cx="455.8" cy="1422.3" r="8.3" fill="#ff0000"/>
<circle cx="486.3" cy="1422.3" r="8.3" fill="#ff0000"/>
<circle cx="516.7" cy="1422.3" r="8.3" fill="#ff6666"/>
<circle cx="547.2" cy="1422.3" r="8.3" fill="#ffd9d9"/>
<circle cx="730.1" cy="1422.3" r="8.3" fill="#ffe6e6"/>
<circle cx="760.5" cy="1422.3" r="8.3" fill="#ff8080"/>
<circle cx="791.0" cy="1422.3" r="8.3" fill="#ff4d4d"/>
<circle cx="821.5" cy="1422.3" r="8.3" fill="#ff4d4d"/>
<circle cx="852.0" cy="1422.3" r="8.3" fill="#ff4d4d"/>
<circle cx="882.4" cy="1422.3" r="8.3" fill="#ff4d4d"/>
<circle cx="912.9" cy="1422.3" r="8.3" fill="#ff3333"/>
<circle cx="943.4" cy="1422.3" r="8.3" fill="#ff4d4d"/>
<circle cx="973.9" cy="1422.3" r="8.3" fill="#ff5959"/>
<circle cx="1004.3" cy="1422.3" r="8.3" fill="#ff8080"/>
<circle cx="1034.8" cy="1422.3" r="8.3" fill="#ff7373"/>
<circle cx="1065.3" cy="1422.3" r="8.3" fill="#ff8080"/>
<circle cx="1095.8" cy="1422.3" r="8.3" fill="#ff8080"/>
<circle cx="1126.2" cy="1422.3" r="8.3" fill="#ff8c8c"/>
<circle cx="1156.7" cy="1422.3" r="8.3" fill="#ff9999"/>
<circle cx="1187.2" cy="1422.3" r="8.3" fill="#ff9999"/>
<circle cx="90.1" cy="1451.2" r="8.3" fill="#ff9999"/>
<circle cx="120.6" cy="1451.2" r="8.3" fill="#ff9999"/>
<circle cx="151.1" cy="1451.2" r="8.3" fill="#ff9999"/>
<circle cx="181.5" cy="1451.2" r="8.3" fill="#ff9999"/>
<circle cx="212.0" cy="1451.2" r="8.3" fill="#ff9999"/>
<circle cx="242.5" cy="1451.2" r="8.3" fill="#ff8080"/>
<circle cx="273.0" cy="1451.2" r="8.3" fill="#ff8080"/>
<circle cx="303.4" cy="1451.2" r="8.3" fill="#ff8080"/>
<circle cx="333.9" cy="1451.2" r="8.3" fill="#ff6666"/>
<circle cx="364.4" cy="1451.2" r="8.3" fill="#ff6666"/>
<circle cx="394.8" cy="1451.2" r="8.3" fill="#ff6666"/>
<circle cx="425.3" cy="1451.2" r="8.3" fill="#ff4d4d"/>
<circle cx="455.8" cy="1451.2" r="8.3" fill="#ff0000"/>
<circle cx="486.3" cy="1451.2" r="8.3" fill="#ff1919"/>
<circle cx="516.7" cy="1451.2" r="8.3" fill="#ffbfbf"/>
<circle cx="760.5" cy="1451.2" r="8.3" fill="#ffd9d9"/>
<circle cx="791.0" cy="1451.2" r="8.3" fill="#ff8c8c"/>
<circle cx="821.5" cy="1451.2" r="8.3" fill="#ff4d4d"/>
<circle cx="852.0" cy="1451.2" r="8.3" fill="#ff3333"/>
<circle cx="882.4" cy="1451.2" r="8.3" fill="#ff1919"/>
<circle cx="912.9" cy="1451.2" r="8.3" fill="#ff4d4d"/>
<circle cx="943.4" cy="1451.2" r="8.3" fill="#ff4d4d"/>
<circle cx="973.9" cy="1451.2" r="8.3" fill="#ff4d4d"/>
<circle cx="1004.3" cy="1451.2" r="8.3" fill="#ff6666"/>
<circle cx="1034.8" cy="1451.2" r="8.3" fill="#ff6666"/>
<circle cx="1065.3" cy="1451.2" r="8.3" fill="#ff8080"/>
<circle cx="1095.8" cy="1451.2" r="8.3" fill="#ff8080"/>
<circle cx="1126.2" cy="1451.2" r="8.3" fill="#ff8c8c"/>
<circle cx="1156.7" cy="1451.2" r="8.3" fill="#ff9999"/>
<circle cx="1187.2" cy="1451.2" r="8.3" fill="#ff9999"/>
<circle cx="90.1" cy="1480.2" r="8.3" fill="#ff9999"/>
<circle cx="120.6" cy="1480.2" r="8.3" fill="#ff9999"/>
<circle cx="151.1" cy="1480.2" r="8.3" fill="#ff9999"/>
<circle cx="181.5" cy="1480.2" r="8.3" fill="#ff9999"/>
<circle cx="212.0" cy="1480.2" r="8.3" fill="#ff9999"/>
<circle cx="242.5" cy="1480.2" r="8.3" fill="#ff9999"/>
<circle cx="273.0" cy="1480.2" r="8.3" fill="#ff9999"/>
<circle cx="303.4" cy="1480.2" r="8.3" fill="#ff8c8c"/>
<circle cx="333.9" cy="1480.2" r="8.3" fill="#ff7373"/>
<circle cx="364.4" cy="1480.2" r="8.3" fill="#ff7373"/>
<circle cx="394.8" cy="1480.2" r="8.3" fill="#ff7373"/>
<circle cx="425.3" cy="1480.2" r="8.3" fill="#ff7373"/>
<circle cx="455.8" cy="1480.2" r="8.3" fill="#ff6666"/>
<circle cx="486.3" cy="1480.2" r="8.3" fill="#ff7373"/>
<circle cx="516.7" cy="1480.2" r="8.3" fill="#ffcccc"/>
<circle cx="760.5" cy="1480.2" r="8.3" fill="#ffe6e6"/>
<circle cx="791.0" cy="1480.2" r="8.3" fill="#ffa6a6"/>
<circle cx="821.5" cy="1480.2" r="8.3" fill="#ff4d4d"/>
<circle cx="852.0" cy="1480.2" r="8.3" fill="#ff5959"/>
<circle cx="882.4" cy="1480.2" r="8.3" fill="#ff5959"/>
<circle cx="912.9" cy="1480.2" r="8.3" fill="#ff5959"/>
<circle cx="943.4" cy="1480.2" r="8.3" fill="#ff5959"/>
<circle cx="973.9" cy="1480.2" r="8.3" fill="#ff5959"/>
<circle cx="1004.3" cy="1480.2" r="8.3" fill="#ff4d4d"/>
<circle cx="1034.8" cy="1480.2" r="8.3" fill="#ff7373"/>
<circle cx="1065.3" cy="1480.2" r="8.3" fill="#ff8080"/>
<circle cx="1095.8" cy="1480.2" r="8.3" fill="#ff8080"/>
<circle cx="1126.2" cy="1480.2" r="8.3" fill="#ff8c8c"/>
<circle cx="1156.7" cy="1480.2" r="8.3" fill="#ff9999"/>
<circle cx="1187.2" cy="1480.2" r="8.3" fill="#ff9999"/>
<circle cx="90.1" cy="1509.1" r="8.3" fill="#ff9999"/>
<circle cx="120.6" cy="1509.1" r="8.3" fill="#ff9999"/>
<circle cx="151.1" cy="1509.1" r="8.3" fill="#ff9999"/>
<circle cx="181.5" cy="1509.1" r="8.3" fill="#ff9999"/>
<circle cx="212.0" cy="1509.1" r="8.3" fill="#ff9999"/>
<circle cx="242.5" cy="1509.1" r="8.3" fill="#ff9999"/>
<circle cx="273.0" cy="1509.1" r="8.3" fill="#ff9999"/>
<circle cx="303.4" cy="1509.1" r="8.3" fill="#ff9999"/>
<circle cx="333.9" cy="1509.1" r="8.3" fill="#ff8080"/>
<circle cx="364.4" cy="1509.1" r="8.3" fill="#ff8080"/>
<circle cx="394.8" cy="1509.1" r="8.3" fill="#ff8080"/>
<circle cx="425.3" cy="1509.1" r="8.3" fill="#ff8080"/>
<circle cx="455.8" cy="1509.1" r="8.3" fill="#ff8080"/>
<circle cx="486.3" cy="1509.1" r="8.3" fill="#ff8c8c"/>
<circle cx="516.7" cy="1509.1" r="8.3" fill="#ffe6e6"/>
<circle cx="760.5" cy="1509.1" r="8.3" fill="#ffffff"/>
<circle cx="791.0" cy="1509.1" r="8.3" fill="#ffb2b2"/>
<circle cx="821.5" cy="1509.1" r="8.3" fill="#ff7373"/>
<circle cx="852.0" cy="1509.1" r="8.3" fill="#ff6666"/>
<circle cx="882.4" cy="1509.1" r="8.3" fill="#ff5959"/>
<circle cx="912.9" cy="1509.1" r="8.3" fill="#ff6666"/>
<circle cx="943.4" cy="1509.1" r="8.3" fill="#ff6666"/>
<circle cx="973.9" cy="1509.1" r="8.3" fill="#ff6666"/>
<circle cx="1004.3" cy="1509.1" r="8.3" fill="#ff5959"/>
<circle cx="1034.8" cy="1509.1" r="8.3" fill="#ff6666"/>
<circle cx="1065.3" cy="1509.1" r="8.3" fill="#ff8080"/>
<circle cx="1095.8" cy="1509.1" r="8.3" fill="#ff8080"/>
<circle cx="1126.2" cy="1509.1" r="8.3" fill="#ff8c8c"/>
<circle cx="1156.7" cy="1509.1" r="8.3" fill="#ff8c8c"/>
<circle cx="1187.2" cy="1509.1" r="8.3" fill="#ff8c8c"/>
<circle cx="90.1" cy="1538.0" r="8.3" fill="#ff9999"/>
<circle cx="120.6" cy="1538.0" r="8.3" fill="#ff9999"/>
<circle cx="151.1" cy="1538.0" r="8.3" fill="#ff9999"/>
<circle cx="181.5" cy="1538.0" r="8.3" fill="#ff9999"/>
<circle cx="212.0" cy="1538.0" r="8.3" fill="#ff9999"/>
<circle cx="242.5" cy="1538.0" r="8.3" fill="#ff9999"/>
<circle cx="273.0" cy="1538.0" r="8.3" fill="#ff9999"/>
<circle cx="303.4" cy="1538.0" r="8.3" fill="#ff9999"/>
<circle cx="333.9" cy="1538.0" r="8.3" fill="#ff9999"/>
<circle cx="364.4" cy="1538.0" r="8.3" fill="#ff9999"/>
<circle cx="394.8" cy="1538.0" r="8.3" fill="#ff9999"/>
<circle cx="425.3" cy="1538.0" r="8.3" fill="#ff9999"/>
<circle cx="455.8" cy="1538.0" r="8.3" fill="#8080ff"/>
<circle cx="486.3" cy="1538.0" r="8.3" fill="#8080ff"/>
<circle cx="516.7" cy="1538.0" r="8.3" fill="#d9d9ff"/>
<circle cx="760.5" cy="1538.0" r="8.3" fill="#ffffff"/>
<circle cx="791.0" cy="1538.0" r="8.3" fill="#ffe6e6"/>
<circle cx="821.5" cy="1538.0" r="8.3" fill="#ff9999"/>
<circle cx="852.0" cy="1538.0" r="8.3" fill="#ff7373"/>
<circle cx="882.4" cy="1538.0" r="8.3" fill="#ff6666"/>
<circle cx="912.9" cy="1538.0" r="8.3" fill="#ff6666"/>
<circle cx="943.4" cy="1538.0" r="8.3" fill="#ff6666"/>
<circle cx="973.9" cy="1538.0" r="8.3" fill="#ff7373"/>
<circle cx="1004.3" cy="1538.0" r="8.3" fill="#ff7373"/>
<circle cx="1034.8" cy="1538.0" r="8.3" fill="#ff8080"/>
<circle cx="1065.3" cy="1538.0" r="8.3" fill="#ff8080"/>
<circle cx="1095.8" cy="1538.0" r="8.3" fill="#ff8c8c"/>
<circle cx="1126.2" cy="1538.0" r="8.3" fill="#ff8c8c"/>
<circle cx="1156.7" cy="1538.0" r="8.3" fill="#ff8c8c"/>
<circle cx="1187.2" cy="1538.0" r="8.3" fill="#ff8c8c"/>
<circle cx="90.1" cy="1566.9" r="8.3" fill="#ff9999"/>
<circle cx="120.6" cy="1566.9" r="8.3" fill="#ff9999"/>
<circle cx="151.1" cy="1566.9" r="8.3" fill="#ff9999"/>
<circle cx="181.5" cy="1566.9" r="8.3" fill="#ff9999"/>
<circle cx="212.0" cy="1566.9" r="8.3" fill="#ff9999"/>
<circle cx="242.5" cy="1566.9" r="8.3" fill="#ff9999"/>
<circle cx="273.0" cy="1566.9" r="8.3" fill="#ff9999"/>
<circle cx="303.4" cy="1566.9" r="8.3" fill="#ff9999"/>
<circle cx="333.9" cy="1566.9" r="8.3" fill="#ff9999"/>
<circle cx="364.4" cy="1566.9" r="8.3" fill="#ff8080"/>
<circle cx="394.8" cy="1566.9" r="8.3" fill="#ff8c8c"/>
<circle cx="425.3" cy="1566.9" r="8.3" fill="#9999ff"/>
<circle cx="455.8" cy="1566.9" r="8.3" fill="#8080ff"/>
<circle cx="486.3" cy="1566.9" r="8.3" fill="#8080ff"/>
<circle cx="516.7" cy="1566.9" r="8.3" fill="#ccccff"/>
<circle cx="760.5" cy="1566.9" r="8.3" fill="#f2f2ff"/>
<circle cx="791.0" cy="1566.9" r="8.3" fill="#e6e6ff"/>
<circle cx="821.5" cy="1566.9" r="8.3" fill="#b2b2ff"/>
<circle cx="852.0" cy="1566.9" r="8.3" fill="#8080ff"/>
<circle cx="882.4" cy="1566.9" r="8.3" fill="#ff8080"/>
<circle cx="912.9" cy="1566.9" r="8.3" fill="#ff8080"/>
<circle cx="943.4" cy="1566.9" r="8.3" fill="#ff8080"/>
<circle cx="973.9" cy="1566.9" r="8.3" fill="#ff8080"/>
<circle cx="1004.3" cy="1566.9" r="8.3" fill="#ff8080"/>
<circle cx="1034.8" cy="1566.9" r="8.3" fill="#ff8080"/>
<circle cx="1065.3" cy="1566.9" r="8.3" fill="#ff8080"/>
<circle cx="1095.8" cy="1566.9" r="8.3" fill="#ff8c8c"/>
<circle cx="1126.2" cy="1566.9" r="8.3" fill="#ff8c8c"/>
<circle cx="1156.7" cy="1566.9" r="8.3" fill="#ff8c8c"/>
<circle cx="1187.2" cy="1566.9" r="8.3" fill="#ff8c8c"/>
<circle cx="90.1" cy="1595.8" r="8.3" fill="#ff9999"/>
<circle cx="120.6" cy="1595.8" r="8.3" fill="#ff9999"/>
<circle cx="151.1" cy="1595.8" r="8.3" fill="#ff9999"/>
<circle cx="181.5" cy="1595.8" r="8.3" fill="#ff9999"/>
<circle cx="212.0" cy="1595.8" r="8.3" fill="#ff9999"/>
<circle cx="242.5" cy="1595.8" r="8.3" fill="#ff9999"/>
<circle cx="273.0" cy="1595.8" r="8.3" fill="#ff9999"/>
<circle cx="303.4" cy="1595.8" r="8.3" fill="#ff9999"/>
<circle cx="333.9" cy="1595.8" r="8.3" fill="#ff9999"/>
<circle cx="364.4" cy="1595.8" r="8.3" fill="#ff9999"/>
<circle cx="394.8" cy="1595.8" r="8.3" fill="#9999ff"/>
<circle cx="425.3" cy="1595.8" r="8.3" fill="#9999ff"/>
<circle cx="455.8" cy="1595.8" r="8.3" fill="#8080ff"/>
<circle cx="486.3" cy="1595.8" r="8.3" fill="#8080ff"/>
<circle cx="516.7" cy="1595.8" r="8.3" fill="#b2b2ff"/>
<circle cx="547.2" cy="1595.8" r="8.3" fill="#f2f2ff"/>
<circle cx="730.1" cy="1595.8" r="8.3" fill="#ffffff"/>
<circle cx="760.5" cy="1595.8" r="8.3" fill="#e6e6ff"/>
<circle cx="791.0" cy="1595.8" r="8.3" fill="#bfbfff"/>
<circle cx="821.5" cy="1595.8" r="8.3" fill="#b2b2ff"/>
<circle cx="852.0" cy="1595.8" r="8.3" fill="#9999ff"/>
<circle cx="882.4" cy="1595.8" r="8.3" fill="#8080ff"/>
<circle cx="912.9" cy="1595.8" r="8.3" fill="#ff8080"/>
<circle cx="943.4" cy="1595.8" r="8.3" fill="#ff8080"/>
<circle cx="973.9" cy="1595.8" r="8.3" fill="#ff8080"/>
<circle cx="1004.3" cy="1595.8" r="8.3" fill="#ff8080"/>
<circle cx="1034.8" cy="1595.8" r="8.3" fill="#ff8080"/>
<circle cx="1065.3" cy="1595.8" r="8.3" fill="#ff8080"/>
<circle cx="1095.8" cy="1595.8" r="8.3" fill="#ff8c8c"/>
<circle cx="1126.2" cy="1595.8" r="8.3" fill="#ff8c8c"/>
<circle cx="1156.7" cy="1595.8" r="8.3" fill="#ff8c8c"/>
<circle cx="1187.2" cy="1595.8" r="8.3" fill="#ff8c8c"/>
<circle cx="90.1" cy="1624.7" r="8.3" fill="#ff9999"/>
<circle cx="120.6" cy="1624.7" r="8.3" fill="#ff9999"/>
<circle cx="151.1" cy="1624.7" r="8.3" fill="#ff9999"/>
<circle cx="181.5" cy="1624.7" r="8.3" fill="#ff9999"/>
<circle cx="212.0" cy="1624.7" r="8.3" fill="#ff9999"/>
<circle cx="242.5" cy="1624.7" r="8.3" fill="#ff9999"/>
<circle cx="273.0" cy="1624.7" r="8.3" fill="#ff9999"/>
<circle cx="303.4" cy="1624.7" r="8.3" fill="#ff9999"/>
<circle cx="333.9" cy="1624.7" r="8.3" fill="#ff9999"/>
<circle cx="364.4" cy="1624.7" r="8.3" fill="#ff9999"/>
<circle cx="394.8" cy="1624.7" r="8.3" fill="#ff9999"/>
<circle cx="425.3" cy="1624.7" r="8.3" fill="#b2b2ff"/>
<circle cx="455.8" cy="1624.7" r="8.3" fill="#8080ff"/>
<circle cx="486.3" cy="1624.7" r="8.3" fill="#3333ff"/>
<circle cx="516.7" cy="1624.7" r="8.3" fill="#6666ff"/>
<circle cx="547.2" cy="1624.7" r="8.3" fill="#9999ff"/>
<circle cx="577.7" cy="1624.7" r="8.3" fill="#ccccff"/>
<circle cx="608.2" cy="1624.7" r="8.3" fill="#e6e6ff"/>
<circle cx="638.6" cy="1624.7" r="8.3" fill="#e6e6ff"/>
<circle cx="669.1" cy="1624.7" r="8.3" fill="#ccccff"/>
<circle cx="699.6" cy="1624.7" r="8.3" fill="#ccccff"/>
<circle cx="730.1" cy="1624.7" r="8.3" fill="#ccccff"/>
<circle cx="760.5" cy="1624.7" r="8.3" fill="#bfbfff"/>
<circle cx="791.0" cy="1624.7" r="8.3" fill="#b2b2ff"/>
<circle cx="821.5" cy="1624.7" r="8.3" fill="#8080ff"/>
<circle cx="852.0" cy="1624.7" r="8.3" fill="#9999ff"/>
<circle cx="882.4" cy="1624.7" r="8.3" fill="#6666ff"/>
<circle cx="912.9" cy="1624.7" r="8.3" fill="#ff8080"/>
<circle cx="943.4" cy="1624.7" r="8.3" fill="#ff8080"/>
<circle cx="973.9" cy="1624.7" r="8.3" fill="#ff8c8c"/>
<circle cx="1004.3" cy="1624.7" r="8.3" fill="#ff8080"/>
<circle cx="1034.8" cy="1624.7" r="8.3" fill="#ff8080"/>
<circle cx="1065.3" cy="1624.7" r="8.3" fill="#ff8080"/>
<circle cx="1095.8" cy="1624.7" r="8.3" fill="#ff8c8c"/>
<circle cx="1126.2" cy="1624.7" r="8.3" fill="#ff8c8c"/>
<circle cx="1156.7" cy="1624.7" r="8.3" fill="#ff8c8c"/>
<circle cx="1187.2" cy="1624.7" r="8.3" fill="#ff8c8c"/>
<circle cx="90.1" cy="1653.6" r="8.3" fill="#ff9999"/>
<circle cx="120.6" cy="1653.6" r="8.3" fill="#ff9999"/>
<circle cx="151.1" cy="1653.6" r="8.3" fill="#ff9999"/>
<circle cx="181.5" cy="1653.6" r="8.3" fill="#ff9999"/>
<circle cx="212.0" cy="1653.6" r="8.3" fill="#ff9999"/>
<circle cx="242.5" cy="1653.6" r="8.3" fill="#ff9999"/>
<circle cx="273.0" cy="1653.6" r="8.3" fill="#ff9999"/>
<circle cx="303.4" cy="1653.6" r="8.3" fill="#ff9999"/>
<circle cx="333.9" cy="1653.6" r="8.3" fill="#ff9999"/>
<circle cx="364.4" cy="1653.6" r="8.3" fill="#ffa6a6"/>
<circle cx="394.8" cy="1653.6" r="8.3" fill="#bfbfff"/>
<circle cx="425.3" cy="1653.6" r="8.3" fill="#ccccff"/>
<circle cx="455.8" cy="1653.6" r="8.3" fill="#bfbfff"/>
<circle cx="486.3" cy="1653.6" r="8.3" fill="#8080ff"/>
<circle cx="516.7" cy="1653.6" r="8.3" fill="#3333ff"/>
<circle cx="547.2" cy="1653.6" r="8.3" fill="#6666ff"/>
<circle cx="577.7" cy="1653.6" r="8.3" fill="#8080ff"/>
<circle cx="608.2" cy="1653.6" r="8.3" fill="#9999ff"/>
<circle cx="638.6" cy="1653.6" r="8.3" fill="#9999ff"/>
<circle cx="669.1" cy="1653.6" r="8.3" fill="#9999ff"/>
<circle cx="699.6" cy="1653.6" r="8.3" fill="#6666ff"/>
<circle cx="730.1" cy="1653.6" r="8.3" fill="#8080ff"/>
<circle cx="760.5" cy="1653.6" r="8.3" fill="#8080ff"/>
<circle cx="791.0" cy="1653.6" r="8.3" fill="#ccccff"/>
<circle cx="821.5" cy="1653.6" r="8.3" fill="#d9d9ff"/>
<circle cx="852.0" cy="1653.6" r="8.3" fill="#9999ff"/>
<circle cx="882.4" cy="1653.6" r="8.3" fill="#9999ff"/>
<circle cx="912.9" cy="1653.6" r="8.3" fill="#ff8c8c"/>
<circle cx="943.4" cy="1653.6" r="8.3" fill="#ff8c8c"/>
<circle cx="973.9" cy="1653.6" r="8.3" fill="#ff8c8c"/>
<circle cx="1004.3" cy="1653.6" r="8.3" fill="#ff8c8c"/>
<circle cx="1034.8" cy="1653.6" r="8.3" fill="#ff8c8c"/>
<circle cx="1065.3" cy="1653.6" r="8.3" fill="#ff8c8c"/>
<circle cx="1095.8" cy="1653.6" r="8.3" fill="#ff9999"/>
<circle cx="1126.2" cy="1653.6" r="8.3" fill="#ff8c8c"/>
<circle cx="1156.7" cy="1653.6" r="8.3" fill="#ff8c8c"/>
<circle cx="1187.2" cy="1653.6" r="8.3" fill="#ff8c8c"/>
<circle cx="90.1" cy="1682.5" r="8.3" fill="#ffa6a6"/>
<circle cx="120.6" cy="1682.5" r="8.3" fill="#ffa6a6"/>
<circle cx="151.1" cy="1682.5" r="8.3" fill="#ffa6a6"/>
<circle cx="181.5" cy="1682.5" r="8.3" fill="#ffa6a6"/>
<circle cx="212.0" cy="1682.5" r="8.3" fill="#ffa6a6"/>
<circle cx="242.5" cy="1682.5" r="8.3" fill="#ffa6a6"/>
<circle cx="273.0" cy="1682.5" r="8.3" fill="#ffa6a6"/>
<circle cx="303.4" cy="1682.5" r="8.3" fill="#ffa6a6"/>
<circle cx="333.9" cy="1682.5" r="8.3" fill="#ffa6a6"/>
<circle cx="364.4" cy="1682.5" r="8.3" fill="#ffa6a6"/>
<circle cx="394.8" cy="1682.5" r="8.3" fill="#bfbfff"/>
<circle cx="425.3" cy="1682.5" r="8.3" fill="#bfbfff"/>
<circle cx="455.8" cy="1682.5" r="8.3" fill="#b2b2ff"/>
<circle cx="486.3" cy="1682.5" r="8.3" fill="#9999ff"/>
<circle cx="516.7" cy="1682.5" r="8.3" fill="#9999ff"/>
<circle cx="547.2" cy="1682.5" r="8.3" fill="#9999ff"/>
<circle cx="577.7" cy="1682.5" r="8.3" fill="#6666ff"/>
<circle cx="608.2" cy="1682.5" r="8.3" fill="#3333ff"/>
<circle cx="638.6" cy="1682.5" r="8.3" fill="#6666ff"/>
<circle cx="669.1" cy="1682.5" r="8.3" fill="#6666ff"/>
<circle cx="699.6" cy="1682.5" r="8.3" fill="#6666ff"/>
<circle cx="730.1" cy="1682.5" r="8.3" fill="#9999ff"/>
<circle cx="760.5" cy="1682.5" r="8.3" fill="#8080ff"/>
<circle cx="791.0" cy="1682.5" r="8.3" fill="#d9d9ff"/>
<circle cx="821.5" cy="1682.5" r="8.3" fill="#e6e6ff"/>
<circle cx="852.0" cy="1682.5" r="8.3" fill="#ccccff"/>
<circle cx="882.4" cy="1682.5" r="8.3" fill="#9999ff"/>
<circle cx="912.9" cy="1682.5" r="8.3" fill="#ff8c8c"/>
<circle cx="943.4" cy="1682.5" r="8.3" fill="#ff8c8c"/>
<circle cx="973.9" cy="1682.5" r="8.3" fill="#ff9999"/>
<circle cx="1004.3" cy="1682.5" r="8.3" fill="#ff9999"/>
<circle cx="1034.8" cy="1682.5" r="8.3" fill="#ff9999"/>
<circle cx="1065.3" cy="1682.5" r="8.3" fill="#ff9999"/>
<circle cx="1095.8" cy="1682.5" r="8.3" fill="#ff9999"/>
<circle cx="1126.2" cy="1682.5" r="8.3" fill="#ff9999"/>
<circle cx="1156.7" cy="1682.5" r="8.3" fill="#ff9999"/>
<circle cx="1187.2" cy="1682.5" r="8.3" fill="#ff9999"/>
<circle cx="90.1" cy="1711.5" r="8.3" fill="#ffa6a6"/>
<circle cx="120.6" cy="1711.5" r="8.3" fill="#ffa6a6"/>
<circle cx="151.1" cy="1711.5" r="8.3" fill="#ffa6a6"/>
<circle cx="181.5" cy="1711.5" r="8.3" fill="#ffa6a6"/>
<circle cx="212.0" cy="1711.5" r="8.3" fill="#ffa6a6"/>
<circle cx="242.5" cy="1711.5" r="8.3" fill="#ffa6a6"/>
<circle cx="273.0" cy="1711.5" r="8.3" fill="#ffa6a6"/>
<circle cx="303.4" cy="1711.5" r="8.3" fill="#ffa6a6"/>
<circle cx="333.9" cy="1711.5" r="8.3" fill="#ffa6a6"/>
<circle cx="364.4" cy="1711.5" r="8.3" fill="#ffa6a6"/>
<circle cx="394.8" cy="1711.5" r="8.3" fill="#bfbfff"/>
<circle cx="425.3" cy="1711.5" r="8.3" fill="#ccccff"/>
<circle cx="455.8" cy="1711.5" r="8.3" fill="#d9d9ff"/>
<circle cx="486.3" cy="1711.5" r="8.3" fill="#9999ff"/>
<circle cx="516.7" cy="1711.5" r="8.3" fill="#e6e6ff"/>
<circle cx="547.2" cy="1711.5" r="8.3" fill="#b2b2ff"/>
<circle cx="577.7" cy="1711.5" r="8.3" fill="#ccccff"/>
<circle cx="608.2" cy="1711.5" r="8.3" fill="#9999ff"/>
<circle cx="638.6" cy="1711.5" r="8.3" fill="#8080ff"/>
<circle cx="669.1" cy="1711.5" r="8.3" fill="#9999ff"/>
<circle cx="699.6" cy="1711.5" r="8.3" fill="#6666ff"/>
<circle cx="730.1" cy="1711.5" r="8.3" fill="#b2b2ff"/>
<circle cx="760.5" cy="1711.5" r="8.3" fill="#9999ff"/>
<circle cx="791.0" cy="1711.5" r="8.3" fill="#f2f2ff"/>
<circle cx="821.5" cy="1711.5" r="8.3" fill="#e6e6ff"/>
<circle cx="852.0" cy="1711.5" r="8.3" fill="#d9d9ff"/>
<circle cx="882.4" cy="1711.5" r="8.3" fill="#b2b2ff"/>
<circle cx="912.9" cy="1711.5" r="8.3" fill="#ff9999"/>
<circle cx="943.4" cy="1711.5" r="8.3" fill="#ff9999"/>
<circle cx="973.9" cy="1711.5" r="8.3" fill="#ff9999"/>
<circle cx="1004.3" cy="1711.5" r="8.3" fill="#ff9999"/>
<circle cx="1034.8" cy="1711.5" r="8.3" fill="#ff9999"/>
<circle cx="1065.3" cy="1711.5" r="8.3" fill="#ff9999"/>
<circle cx="1095.8" cy="1711.5" r="8.3" fill="#ff9999"/>
<circle cx="1126.2" cy="1711.5" r="8.3" fill="#ff9999"/>
<circle cx="1156.7" cy="1711.5" r="8.3" fill="#ff9999"/>
<circle cx="1187.2" cy="1711.5" r="8.3" fill="#ff9999"/>
<circle cx="90.1" cy="1740.4" r="8.3" fill="#ffa6a6"/>
<circle cx="120.6" cy="1740.4" r="8.3" fill="#ffa6a6"/>
<circle cx="151.1" cy="1740.4" r="8.3" fill="#ffa6a6"/>
<circle cx="181.5" cy="1740.4" r="8.3" fill="#ffa6a6"/>
<circle cx="212.0" cy="1740.4" r="8.3" fill="#ffa6a6"/>
<circle cx="242.5" cy="1740.4" r="8.3" fill="#ffa6a6"/>
<circle cx="273.0" cy="1740.4" r="8.3" fill="#ffa6a6"/>
<circle cx="303.4" cy="1740.4" r="8.3" fill="#ffa6a6"/>
<circle cx="333.9" cy="1740.4" r="8.3" fill="#ffa6a6"/>
<circle cx="364.4" cy="1740.4" r="8.3" fill="#ffa6a6"/>
<circle cx="394.8" cy="1740.4" r="8.3" fill="#bfbfff"/>
<circle cx="425.3" cy="1740.4" r="8.3" fill="#ccccff"/>
<circle cx="455.8" cy="1740.4" r="8.3" fill="#d9d9ff"/>
<circle cx="486.3" cy="1740.4" r="8.3" fill="#ccccff"/>
<circle cx="516.7" cy="1740.4" r="8.3" fill="#d9d9ff"/>
<circle cx="547.2" cy="1740.4" r="8.3" fill="#ffffff"/>
<circle cx="577.7" cy="1740.4" r="8.3" fill="#d9d9ff"/>
<circle cx="608.2" cy="1740.4" r="8.3" fill="#f2f2ff"/>
<circle cx="638.6" cy="1740.4" r="8.3" fill="#bfbfff"/>
<circle cx="669.1" cy="1740.4" r="8.3" fill="#ccccff"/>
<circle cx="699.6" cy="1740.4" r="8.3" fill="#8080ff"/>
<circle cx="730.1" cy="1740.4" r="8.3" fill="#d9d9ff"/>
<circle cx="760.5" cy="1740.4" r="8.3" fill="#8080ff"/>
<circle cx="791.0" cy="1740.4" r="8.3" fill="#bfbfff"/>
<circle cx="821.5" cy="1740.4" r="8.3" fill="#e6e6ff"/>
<circle cx="852.0" cy="1740.4" r="8.3" fill="#e6e6ff"/>
<circle cx="882.4" cy="1740.4" r="8.3" fill="#b2b2ff"/>
<circle cx="912.9" cy="1740.4" r="8.3" fill="#ff9999"/>
<circle cx="943.4" cy="1740.4" r="8.3" fill="#ff9999"/>
<circle cx="973.9" cy="1740.4" r="8.3" fill="#ffa6a6"/>
<circle cx="1004.3" cy="1740.4" r="8.3" fill="#ffa6a6"/>
<circle cx="1034.8" cy="1740.4" r="8.3" fill="#ffa6a6"/>
<circle cx="1065.3" cy="1740.4" r="8.3" fill="#ffa6a6"/>
<circle cx="1095.8" cy="1740.4" r="8.3" fill="#ffa6a6"/>
<circle cx="1126.2" cy="1740.4" r="8.3" fill="#ffa6a6"/>
<circle cx="1156.7" cy="1740.4" r="8.3" fill="#ffa6a6"/>
<circle cx="1187.2" cy="1740.4" r="8.3" fill="#ffa6a6"/>
<circle cx="90.1" cy="1769.3" r="8.3" fill="#ffa6a6"/>
<circle cx="120.6" cy="1769.3" r="8.3" fill="#ffa6a6"/>
<circle cx="151.1" cy="1769.3" r="8.3" fill="#ffa6a6"/>
<circle cx="181.5" cy="1769.3" r="8.3" fill="#ffa6a6"/>
<circle cx="212.0" cy="1769.3" r="8.3" fill="#ffa6a6"/>
<circle cx="242.5" cy="1769.3" r="8.3" fill="#ffa6a6"/>
<circle cx="273.0" cy="1769.3" r="8.3" fill="#ffa6a6"/>
<circle cx="303.4" cy="1769.3" r="8.3" fill="#ffa6a6"/>
<circle cx="333.9" cy="1769.3" r="8.3" fill="#ffa6a6"/>
<circle cx="364.4" cy="1769.3" r="8.3" fill="#ffa6a6"/>
<circle cx="394.8" cy="1769.3" r="8.3" fill="#ffb2b2"/>
<circle cx="425.3" cy="1769.3" r="8.3" fill="#ccccff"/>
<circle cx="455.8" cy="1769.3" r="8.3" fill="#bfbfff"/>
<circle cx="486.3" cy="1769.3" r="8.3" fill="#bfbfff"/>
<circle cx="516.7" cy="1769.3" r="8.3" fill="#ccccff"/>
<circle cx="547.2" cy="1769.3" r="8.3" fill="#e6e6ff"/>
<circle cx="577.7" cy="1769.3" r="8.3" fill="#f2f2ff"/>
<circle cx="608.2" cy="1769.3" r="8.3" fill="#f2f2ff"/>
<circle cx="638.6" cy="1769.3" r="8.3" fill="#e6e6ff"/>
<circle cx="669.1" cy="1769.3" r="8.3" fill="#e6e6ff"/>
<circle cx="699.6" cy="1769.3" r="8.3" fill="#8080ff"/>
<circle cx="730.1" cy="1769.3" r="8.3" fill="#bfbfff"/>
<circle cx="760.5" cy="1769.3" r="8.3" fill="#bfbfff"/>
<circle cx="791.0" cy="1769.3" r="8.3" fill="#ccccff"/>
<circle cx="821.5" cy="1769.3" r="8.3" fill="#d9d9ff"/>
<circle cx="852.0" cy="1769.3" r="8.3" fill="#f2f2ff"/>
<circle cx="882.4" cy="1769.3" r="8.3" fill="#b2b2ff"/>
<circle cx="912.9" cy="1769.3" r="8.3" fill="#ff9999"/>
<circle cx="943.4" cy="1769.3" r="8.3" fill="#ff9999"/>
<circle cx="973.9" cy="1769.3" r="8.3" fill="#ffa6a6"/>
<circle cx="1004.3" cy="1769.3" r="8.3" fill="#ffa6a6"/>
<circle cx="1034.8" cy="1769.3" r="8.3" fill="#ffa6a6"/>
<circle cx="1065.3" cy="1769.3" r="8.3" fill="#ffa6a6"/>
<circle cx="1095.8" cy="1769.3" r="8.3" fill="#ffa6a6"/>
<circle cx="1126.2" cy="1769.3" r="8.3" fill="#ffa6a6"/>
<circle cx="1156.7" cy="1769.3" r="8.3" fill="#ffa6a6"/>
<circle cx="1187.2" cy="1769.3" r="8.3" fill="#ffa6a6"/>
<circle cx="90.1" cy="1798.2" r="8.3" fill="#ffa6a6"/>
<circle cx="120.6" cy="1798.2" r="8.3" fill="#ffa6a6"/>
<circle cx="151.1" cy="1798.2" r="8.3" fill="#ffa6a6"/>
<circle cx="181.5" cy="1798.2" r="8.3" fill="#ffa6a6"/>
<circle cx="212.0" cy="1798.2" r="8.3" fill="#ffa6a6"/>
<circle cx="242.5" cy="1798.2" r="8.3" fill="#ffa6a6"/>
<circle cx="273.0" cy="1798.2" r="8.3" fill="#ffa6a6"/>
<circle cx="303.4" cy="1798.2" r="8.3" fill="#ffa6a6"/>
<circle cx="333.9" cy="1798.2" r="8.3" fill="#ffa6a6"/>
<circle cx="364.4" cy="1798.2" r="8.3" fill="#ffa6a6"/>
<circle cx="394.8" cy="1798.2" r="8.3" fill="#ffa6a6"/>
<circle cx="425.3" cy="1798.2" r="8.3" fill="#ccccff"/>
<circle cx="455.8" cy="1798.2" r="8.3" fill="#ccccff"/>
<circle cx="486.3" cy="1798.2" r="8.3" fill="#d9d9ff"/>
<circle cx="516.7" cy="1798.2" r="8.3" fill="#9999ff"/>
<circle cx="547.2" cy="1798.2" r="8.3" fill="#f2f2ff"/>
<circle cx="577.7" cy="1798.2" r="8.3" fill="#ffffff"/>
<circle cx="608.2" cy="1798.2" r="8.3" fill="#ffffff"/>
<circle cx="638.6" cy="1798.2" r="8.3" fill="#ffffff"/>
<circle cx="669.1" cy="1798.2" r="8.3" fill="#f2f2ff"/>
<circle cx="699.6" cy="1798.2" r="8.3" fill="#b2b2ff"/>
<circle cx="730.1" cy="1798.2" r="8.3" fill="#ccccff"/>
<circle cx="760.5" cy="1798.2" r="8.3" fill="#8080ff"/>
<circle cx="791.0" cy="1798.2" r="8.3" fill="#ff9999"/>
<circle cx="821.5" cy="1798.2" r="8.3" fill="#d9d9ff"/>
<circle cx="852.0" cy="1798.2" r="8.3" fill="#f2f2ff"/>
<circle cx="882.4" cy="1798.2" r="8.3" fill="#ffb2b2"/>
<circle cx="912.9" cy="1798.2" r="8.3" fill="#ffa6a6"/>
<circle cx="943.4" cy="1798.2" r="8.3" fill="#ffa6a6"/>
<circle cx="973.9" cy="1798.2" r="8.3" fill="#ffa6a6"/>
<circle cx="1004.3" cy="1798.2" r="8.3" fill="#ffa6a6"/>
<circle cx="1034.8" cy="1798.2" r="8.3" fill="#ffa6a6"/>
<circle cx="1065.3" cy="1798.2" r="8.3" fill="#ffa6a6"/>
<circle cx="1095.8" cy="1798.2" r="8.3" fill="#ffa6a6"/>
<circle cx="1126.2" cy="1798.2" r="8.3" fill="#ffa6a6"/>
<circle cx="1156.7" cy="1798.2" r="8.3" fill="#ffa6a6"/>
<circle cx="1187.2" cy="1798.2" r="8.3" fill="#ffa6a6"/>
<circle cx="90.1" cy="1827.1" r="8.3" fill="#ffa6a6"/>
<circle cx="120.6" cy="1827.1" r="8.3" fill="#ffa6a6"/>
<circle cx="151.1" cy="1827.1" r="8.3" fill="#ffa6a6"/>
<circle cx="181.5" cy="1827.1" r="8.3" fill="#ffa6a6"/>
<circle cx="212.0" cy="1827.1" r="8.3" fill="#ffa6a6"/>
<circle cx="242.5" cy="1827.1" r="8.3" fill="#ffa6a6"/>
<circle cx="273.0" cy="1827.1" r="8.3" fill="#ffa6a6"/>
<circle cx="303.4" cy="1827.1" r="8.3" fill="#ffa6a6"/>
<circle cx="333.9" cy="1827.1" r="8.3" fill="#ffa6a6"/>
<circle cx="364.4" cy="1827.1" r="8.3" fill="#ffa6a6"/>
<circle cx="394.8" cy="1827.1" r="8.3" fill="#ffa6a6"/>
<circle cx="425.3" cy="1827.1" r="8.3" fill="#ffb2b2"/>
<circle cx="455.8" cy="1827.1" r="8.3" fill="#ccccff"/>
<circle cx="486.3" cy="1827.1" r="8.3" fill="#9999ff"/>
<circle cx="516.7" cy="1827.1" r="8.3" fill="#d9d9ff"/>
<circle cx="547.2" cy="1827.1" r="8.3" fill="#e6e6ff"/>
<circle cx="577.7" cy="1827.1" r="8.3" fill="#ffffff"/>
<circle cx="608.2" cy="1827.1" r="8.3" fill="#e6e6ff"/>
<circle cx="638.6" cy="1827.1" r="8.3" fill="#f2f2ff"/>
<circle cx="669.1" cy="1827.1" r="8.3" fill="#e6e6ff"/>
<circle cx="699.6" cy="1827.1" r="8.3" fill="#b2b2ff"/>
<circle cx="730.1" cy="1827.1" r="8.3" fill="#d9d9ff"/>
<circle cx="760.5" cy="1827.1" r="8.3" fill="#8080ff"/>
<circle cx="791.0" cy="1827.1" r="8.3" fill="#ff8080"/>
<circle cx="821.5" cy="1827.1" r="8.3" fill="#ffffff"/>
<circle cx="882.4" cy="1827.1" r="8.3" fill="#ffb2b2"/>
<circle cx="912.9" cy="1827.1" r="8.3" fill="#ffa6a6"/>
<circle cx="943.4" cy="1827.1" r="8.3" fill="#ffa6a6"/>
<circle cx="973.9" cy="1827.1" r="8.3" fill="#ffa6a6"/>
<circle cx="1004.3" cy="1827.1" r="8.3" fill="#ffa6a6"/>
<circle cx="1034.8" cy="1827.1" r="8.3" fill="#ffa6a6"/>
<circle cx="1065.3" cy="1827.1" r="8.3" fill="#ffa6a6"/>
<circle cx="1095.8" cy="1827.1" r="8.3" fill="#ffa6a6"/>
<circle cx="1126.2" cy="1827.1" r="8.3" fill="#ffa6a6"/>
<circle cx="1156.7" cy="1827.1" r="8.3" fill="#ffa6a6"/>
<circle cx="1187.2" cy="1827.1" r="8.3" fill="#ffa6a6"/>
<circle cx="90.1" cy="1856.0" r="8.3" fill="#ffa6a6"/>
<circle cx="120.6" cy="1856.0" r="8.3" fill="#ffa6a6"/>
<circle cx="151.1" cy="1856.0" r="8.3" fill="#ffa6a6"/>
<circle cx="181.5" cy="1856.0" r="8.3" fill="#ffa6a6"/>
<circle cx="212.0" cy="1856.0" r="8.3" fill="#ffa6a6"/>
<circle cx="242.5" cy="1856.0" r="8.3" fill="#ffa6a6"/>
<circle cx="273.0" cy="1856.0" r="8.3" fill="#ffa6a6"/>
<circle cx="303.4" cy="1856.0" r="8.3" fill="#ffa6a6"/>
<circle cx="333.9" cy="1856.0" r="8.3" fill="#ffa6a6"/>
<circle cx="364.4" cy="1856.0" r="8.3" fill="#ffa6a6"/>
<circle cx="394.8" cy="1856.0" r="8.3" fill="#ffa6a6"/>
<circle cx="425.3" cy="1856.0" r="8.3" fill="#ffa6a6"/>
<circle cx="455.8" cy="1856.0" r="8.3" fill="#bfbfff"/>
<circle cx="486.3" cy="1856.0" r="8.3" fill="#ccccff"/>
<circle cx="516.7" cy="1856.0" r="8.3" fill="#ffffff"/>
<circle cx="547.2" cy="1856.0" r="8.3" fill="#ffd9d9"/>
<circle cx="577.7" cy="1856.0" r="8.3" fill="#d9d9ff"/>
<circle cx="608.2" cy="1856.0" r="8.3" fill="#e6e6ff"/>
<circle cx="638.6" cy="1856.0" r="8.3" fill="#f2f2ff"/>
<circle cx="669.1" cy="1856.0" r="8.3" fill="#d9d9ff"/>
<circle cx="699.6" cy="1856.0" r="8.3" fill="#9999ff"/>
<circle cx="730.1" cy="1856.0" r="8.3" fill="#ccccff"/>
<circle cx="760.5" cy="1856.0" r="8.3" fill="#ff7373"/>
<circle cx="791.0" cy="1856.0" r="8.3" fill="#ff9999"/>
<circle cx="821.5" cy="1856.0" r="8.3" fill="#f2f2ff"/>
<circle cx="852.0" cy="1856.0" r="8.3" fill="#f2f2ff"/>
<circle cx="882.4" cy="1856.0" r="8.3" fill="#ffb2b2"/>
<circle cx="912.9" cy="1856.0" r="8.3" fill="#ffb2b2"/>
<circle cx="943.4" cy="1856.0" r="8.3" fill="#ffb2b2"/>
<circle cx="973.9" cy="1856.0" r="8.3" fill="#ffa6a6"/>
<circle cx="1004.3" cy="1856.0" r="8.3" fill="#ffa6a6"/>
<circle cx="1034.8" cy="1856.0" r="8.3" fill="#ffa6a6"/>
<circle cx="1065.3" cy="1856.0" r="8.3" fill="#ffa6a6"/>
<circle cx="1095.8" cy="1856.0" r="8.3" fill="#ffa6a6"/>
<circle cx="1126.2" cy="1856.0" r="8.3" fill="#ffa6a6"/>
<circle cx="1156.7" cy="1856.0" r="8.3" fill="#ffa6a6"/>
<circle cx="1187.2" cy="1856.0" r="8.3" fill="#ffa6a6"/>
<circle cx="90.1" cy="1884.9" r="8.3" fill="#ffa6a6"/>
<circle cx="120.6" cy="1884.9" r="8.3" fill="#ffa6a6"/>
<circle cx="151.1" cy="1884.9" r="8.3" fill="#ffa6a6"/>
<circle cx="181.5" cy="1884.9" r="8.3" fill="#ffa6a6"/>
<circle cx="212.0" cy="1884.9" r="8.3" fill="#ffa6a6"/>
<circle cx="242.5" cy="1884.9" r="8.3" fill="#ffa6a6"/>
<circle cx="273.0" cy="1884.9" r="8.3" fill="#ffa6a6"/>
<circle cx="303.4" cy="1884.9" r="8.3" fill="#ffa6a6"/>
<circle cx="333.9" cy="1884.9" r="8.3" fill="#ffa6a6"/>
<circle cx="364.4" cy="1884.9" r="8.3" fill="#ffa6a6"/>
<circle cx="394.8" cy="1884.9" r="8.3" fill="#ffa6a6"/>
<circle cx="425.3" cy="1884.9" r="8.3" fill="#ffa6a6"/>
<circle cx="455.8" cy="1884.9" r="8.3" fill="#ffb2b2"/>
<circle cx="486.3" cy="1884.9" r="8.3" fill="#d9d9ff"/>
<circle cx="516.7" cy="1884.9" r="8.3" fill="#ffd9d9"/>
<circle cx="547.2" cy="1884.9" r="8.3" fill="#ff9999"/>
<circle cx="577.7" cy="1884.9" r="8.3" fill="#d9d9ff"/>
<circle cx="608.2" cy="1884.9" r="8.3" fill="#f2f2ff"/>
<circle cx="638.6" cy="1884.9" r="8.3" fill="#d9d9ff"/>
<circle cx="669.1" cy="1884.9" r="8.3" fill="#ccccff"/>
<circle cx="699.6" cy="1884.9" r="8.3" fill="#b2b2ff"/>
<circle cx="730.1" cy="1884.9" r="8.3" fill="#ccccff"/>
<circle cx="760.5" cy="1884.9" r="8.3" fill="#ff5959"/>
<circle cx="791.0" cy="1884.9" r="8.3" fill="#ff9999"/>
<circle cx="821.5" cy="1884.9" r="8.3" fill="#bfbfff"/>
<circle cx="852.0" cy="1884.9" r="8.3" fill="#f2f2ff"/>
<circle cx="882.4" cy="1884.9" r="8.3" fill="#ffb2b2"/>
<circle cx="912.9" cy="1884.9" r="8.3" fill="#ffb2b2"/>
<circle cx="943.4" cy="1884.9" r="8.3" fill="#ffb2b2"/>
<circle cx="973.9" cy="1884.9" r="8.3" fill="#ffb2b2"/>
<circle cx="1004.3" cy="1884.9" r="8.3" fill="#ffb2b2"/>
<circle cx="1034.8" cy="1884.9" r="8.3" fill="#ffa6a6"/>
<circle cx="1065.3" cy="1884.9" r="8.3" fill="#ffa6a6"/>
<circle cx="1095.8" cy="1884.9" r="8.3" fill="#ffa6a6"/>
<circle cx="1126.2" cy="1884.9" r="8.3" fill="#ffa6a6"/>
<circle cx="1156.7" cy="1884.9" r="8.3" fill="#ffa6a6"/>
<circle cx="1187.2" cy="1884.9" r="8.3" fill="#ffa6a6"/>
<circle cx="90.1" cy="1913.8" r="8.3" fill="#ffb2b2"/>
<circle cx="120.6" cy="1913.8" r="8.3" fill="#ffb2b2"/>
<circle cx="151.1" cy="1913.8" r="8.3" fill="#ffb2b2"/>
<circle cx="181.5" cy="1913.8" r="8.3" fill="#ffb2b2"/>
<circle cx="212.0" cy="1913.8" r="8.3" fill="#ffb2b2"/>
<circle cx="242.5" cy="1913.8" r="8.3" fill="#ffb2b2"/>
<circle cx="273.0" cy="1913.8" r="8.3" fill="#ffb2b2"/>
<circle cx="303.4" cy="1913.8" r="8.3" fill="#ffb2b2"/>
<circle cx="333.9" cy="1913.8" r="8.3" fill="#ffb2b2"/>
<circle cx="364.4" cy="1913.8" r="8.3" fill="#ffb2b2"/>
<circle cx="394.8" cy="1913.8" r="8.3" fill="#ffb2b2"/>
<circle cx="425.3" cy="1913.8" r="8.3" fill="#ffb2b2"/>
<circle cx="455.8" cy="1913.8" r="8.3" fill="#ffb2b2"/>
<circle cx="486.3" cy="1913.8" r="8.3" fill="#b2b2ff"/>
<circle cx="516.7" cy="1913.8" r="8.3" fill="#8080ff"/>
<circle cx="547.2" cy="1913.8" r="8.3" fill="#ffbfbf"/>
<circle cx="577.7" cy="1913.8" r="8.3" fill="#ffd9d9"/>
<circle cx="608.2" cy="1913.8" r="8.3" fill="#ffcccc"/>
<circle cx="638.6" cy="1913.8" r="8.3" fill="#e6e6ff"/>
<circle cx="669.1" cy="1913.8" r="8.3" fill="#ffcccc"/>
<circle cx="699.6" cy="1913.8" r="8.3" fill="#ccccff"/>
<circle cx="730.1" cy="1913.8" r="8.3" fill="#ff8c8c"/>
<circle cx="760.5" cy="1913.8" r="8.3" fill="#ff3333"/>
<circle cx="791.0" cy="1913.8" r="8.3" fill="#ffbfbf"/>
<circle cx="821.5" cy="1913.8" r="8.3" fill="#f2f2ff"/>
<circle cx="852.0" cy="1913.8" r="8.3" fill="#f2f2ff"/>
<circle cx="882.4" cy="1913.8" r="8.3" fill="#ffb2b2"/>
<circle cx="912.9" cy="1913.8" r="8.3" fill="#ffb2b2"/>
<circle cx="943.4" cy="1913.8" r="8.3" fill="#ffb2b2"/>
<circle cx="973.9" cy="1913.8" r="8.3" fill="#ffb2b2"/>
<circle cx="1004.3" cy="1913.8" r="8.3" fill="#ffb2b2"/>
<circle cx="1034.8" cy="1913.8" r="8.3" fill="#ffb2b2"/>
<circle cx="1065.3" cy="1913.8" r="8.3" fill="#ffb2b2"/>
<circle cx="1095.8" cy="1913.8" r="8.3" fill="#ffb2b2"/>
<circle cx="1126.2" cy="1913.8" r="8.3" fill="#ffb2b2"/>
<circle cx="1156.7" cy="1913.8" r="8.3" fill="#ffb2b2"/>
<circle cx="1187.2" cy="1913.8" r="8.3" fill="#ffb2b2"/>
<circle cx="90.1" cy="1942.8" r="8.3" fill="#ffb2b2"/>
<circle cx="120.6" cy="1942.8" r="8.3" fill="#ffb2b2"/>
<circle cx="151.1" cy="1942.8" r="8.3" fill="#ffb2b2"/>
<circle cx="181.5" cy="1942.8" r="8.3" fill="#ffb2b2"/>
<circle cx="212.0" cy="1942.8" r="8.3" fill="#ffb2b2"/>
<circle cx="242.5" cy="1942.8" r="8.3" fill="#ffb2b2"/>
<circle cx="273.0" cy="1942.8" r="8.3" fill="#ffb2b2"/>
<circle cx="303.4" cy="1942.8" r="8.3" fill="#ffb2b2"/>
<circle cx="333.9" cy="1942.8" r="8.3" fill="#ffb2b2"/>
<circle cx="364.4" cy="1942.8" r="8.3" fill="#ffb2b2"/>
<circle cx="394.8" cy="1942.8" r="8.3" fill="#ffb2b2"/>
<circle cx="425.3" cy="1942.8" r="8.3" fill="#ffb2b2"/>
<circle cx="455.8" cy="1942.8" r="8.3" fill="#ffb2b2"/>
<circle cx="486.3" cy="1942.8" r="8.3" fill="#ff9999"/>
<circle cx="516.7" cy="1942.8" r="8.3" fill="#ffd9d9"/>
<circle cx="547.2" cy="1942.8" r="8.3" fill="#f2f2ff"/>
<circle cx="577.7" cy="1942.8" r="8.3" fill="#ffcccc"/>
<circle cx="608.2" cy="1942.8" r="8.3" fill="#ffcccc"/>
<circle cx="638.6" cy="1942.8" r="8.3" fill="#ffcccc"/>
<circle cx="669.1" cy="1942.8" r="8.3" fill="#ffcccc"/>
<circle cx="699.6" cy="1942.8" r="8.3" fill="#ffcccc"/>
<circle cx="730.1" cy="1942.8" r="8.3" fill="#ffbfbf"/>
<circle cx="760.5" cy="1942.8" r="8.3" fill="#ff4d4d"/>
<circle cx="791.0" cy="1942.8" r="8.3" fill="#ffb2b2"/>
<circle cx="821.5" cy="1942.8" r="8.3" fill="#ffffff"/>
<circle cx="852.0" cy="1942.8" r="8.3" fill="#ffe6e6"/>
<circle cx="882.4" cy="1942.8" r="8.3" fill="#ffbfbf"/>
<circle cx="912.9" cy="1942.8" r="8.3" fill="#ffb2b2"/>
<circle cx="943.4" cy="1942.8" r="8.3" fill="#ffb2b2"/>
<circle cx="973.9" cy="1942.8" r="8.3" fill="#ffb2b2"/>
<circle cx="1004.3" cy="1942.8" r="8.3" fill="#ffb2b2"/>
<circle cx="1034.8" cy="1942.8" r="8.3" fill="#ffb2b2"/>
<circle cx="1065.3" cy="1942.8" r="8.3" fill="#ffb2b2"/>
<circle cx="1095.8" cy="1942.8" r="8.3" fill="#ffb2b2"/>
<circle cx="1126.2" cy="1942.8" r="8.3" fill="#ffb2b2"/>
<circle cx="1156.7" cy="1942.8" r="8.3" fill="#ffb2b2"/>
<circle cx="1187.2" cy="1942.8" r="8.3" fill="#ffb2b2"/>
<circle cx="90.1" cy="1971.7" r="8.3" fill="#ffb2b2"/>
<circle cx="120.6" cy="1971.7" r="8.3" fill="#ffb2b2"/>
<circle cx="151.1" cy="1971.7" r="8.3" fill="#ffb2b2"/>
<circle cx="181.5" cy="1971.7" r="8.3" fill="#ffb2b2"/>
<circle cx="212.0" cy="1971.7" r="8.3" fill="#ffb2b2"/>
<circle cx="242.5" cy="1971.7" r="8.3" fill="#ffb2b2"/>
<circle cx="273.0" cy="1971.7" r="8.3" fill="#ffb2b2"/>
<circle cx="303.4" cy="1971.7" r="8.3" fill="#ffb2b2"/>
<circle cx="333.9" cy="1971.7" r="8.3" fill="#ffb2b2"/>
<circle cx="364.4" cy="1971.7" r="8.3" fill="#ffb2b2"/>
<circle cx="394.8" cy="1971.7" r="8.3" fill="#ffb2b2"/>
<circle cx="425.3" cy="1971.7" r="8.3" fill="#ffb2b2"/>
<circle cx="455.8" cy="1971.7" r="8.3" fill="#ffb2b2"/>
<circle cx="486.3" cy="1971.7" r="8.3" fill="#ffb2b2"/>
<circle cx="516.7" cy="1971.7" r="8.3" fill="#ffd9d9"/>
<circle cx="547.2" cy="1971.7" r="8.3" fill="#ffb2b2"/>
<circle cx="577.7" cy="1971.7" r="8.3" fill="#ffbfbf"/>
<circle cx="608.2" cy="1971.7" r="8.3" fill="#ffbfbf"/>
<circle cx="638.6" cy="1971.7" r="8.3" fill="#ffbfbf"/>
<circle cx="669.1" cy="1971.7" r="8.3" fill="#ffb2b2"/>
<circle cx="699.6" cy="1971.7" r="8.3" fill="#ffbfbf"/>
<circle cx="730.1" cy="1971.7" r="8.3" fill="#ffb2b2"/>
<circle cx="760.5" cy="1971.7" r="8.3" fill="#ff3333"/>
<circle cx="791.0" cy="1971.7" r="8.3" fill="#ff9999"/>
<circle cx="821.5" cy="1971.7" r="8.3" fill="#fff2f2"/>
<circle cx="852.0" cy="1971.7" r="8.3" fill="#fff2f2"/>
<circle cx="882.4" cy="1971.7" r="8.3" fill="#ffb2b2"/>
<circle cx="912.9" cy="1971.7" r="8.3" fill="#ffb2b2"/>
<circle cx="943.4" cy="1971.7" r="8.3" fill="#ffb2b2"/>
<circle cx="973.9" cy="1971.7" r="8.3" fill="#ffb2b2"/>
<circle cx="1004.3" cy="1971.7" r="8.3" fill="#ffb2b2"/>
<circle cx="1034.8" cy="1971.7" r="8.3" fill="#ffb2b2"/>
<circle cx="1065.3" cy="1971.7" r="8.3" fill="#ffb2b2"/>
<circle cx="1095.8" cy="1971.7" r="8.3" fill="#ffb2b2"/>
<circle cx="1126.2" cy="1971.7" r="8.3" fill="#ffb2b2"/>
<circle cx="1156.7" cy="1971.7" r="8.3" fill="#ffb2b2"/>
<circle cx="1187.2" cy="1971.7" r="8.3" fill="#ffb2b2"/>
<circle cx="90.1" cy="2000.6" r="8.3" fill="#ffb2b2"/>
<circle cx="120.6" cy="2000.6" r="8.3" fill="#ffb2b2"/>
<circle cx="151.1" cy="2000.6" r="8.3" fill="#ffb2b2"/>
<circle cx="181.5" cy="2000.6" r="8.3" fill="#ffb2b2"/>
<circle cx="212.0" cy="2000.6" r="8.3" fill="#ffb2b2"/>
<circle cx="242.5" cy="2000.6" r="8.3" fill="#ffb2b2"/>
<circle cx="273.0" cy="2000.6" r="8.3" fill="#ffb2b2"/>
<circle cx="303.4" cy="2000.6" r="8.3" fill="#ffb2b2"/>
<circle cx="333.9" cy="2000.6" r="8.3" fill="#ffb2b2"/>
<circle cx="364.4" cy="2000.6" r="8.3" fill="#ffb2b2"/>
<circle cx="394.8" cy="2000.6" r="8.3" fill="#ffb2b2"/>
<circle cx="425.3" cy="2000.6" r="8.3" fill="#ffb2b2"/>
<circle cx="455.8" cy="2000.6" r="8.3" fill="#ffb2b2"/>
<circle cx="486.3" cy="2000.6" r="8.3" fill="#ffb2b2"/>
<circle cx="516.7" cy="2000.6" r="8.3" fill="#ff8080"/>
<circle cx="547.2" cy="2000.6" r="8.3" fill="#ffcccc"/>
<circle cx="577.7" cy="2000.6" r="8.3" fill="#ffbfbf"/>
<circle cx="608.2" cy="2000.6" r="8.3" fill="#ffbfbf"/>
<circle cx="638.6" cy="2000.6" r="8.3" fill="#ffbfbf"/>
<circle cx="669.1" cy="2000.6" r="8.3" fill="#ffb2b2"/>
<circle cx="699.6" cy="2000.6" r="8.3" fill="#ffbfbf"/>
<circle cx="730.1" cy="2000.6" r="8.3" fill="#ffb2b2"/>
<circle cx="760.5" cy="2000.6" r="8.3" fill="#ff4d4d"/>
<circle cx="791.0" cy="2000.6" r="8.3" fill="#ff8c8c"/>
<circle cx="821.5" cy="2000.6" r="8.3" fill="#ffffff"/>
<circle cx="852.0" cy="2000.6" r="8.3" fill="#ffe6e6"/>
<circle cx="882.4" cy="2000.6" r="8.3" fill="#ffb2b2"/>
<circle cx="912.9" cy="2000.6" r="8.3" fill="#ffb2b2"/>
<circle cx="943.4" cy="2000.6" r="8.3" fill="#ffb2b2"/>
<circle cx="973.9" cy="2000.6" r="8.3" fill="#ffb2b2"/>
<circle cx="1004.3" cy="2000.6" r="8.3" fill="#ffb2b2"/>
<circle cx="1034.8" cy="2000.6" r="8.3" fill="#ffb2b2"/>
<circle cx="1065.3" cy="2000.6" r="8.3" fill="#ffb2b2"/>
<circle cx="1095.8" cy="2000.6" r="8.3" fill="#ffb2b2"/>
<circle cx="1126.2" cy="2000.6" r="8.3" fill="#ffb2b2"/>
<circle cx="1156.7" cy="2000.6" r="8.3" fill="#ffb2b2"/>
<circle cx="1187.2" cy="2000.6" r="8.3" fill="#ffb2b2"/>
<circle cx="90.1" cy="2029.5" r="8.3" fill="#ffb2b2"/>
<circle cx="120.6" cy="2029.5" r="8.3" fill="#ffb2b2"/>
<circle cx="151.1" cy="2029.5" r="8.3" fill="#ffb2b2"/>
<circle cx="181.5" cy="2029.5" r="8.3" fill="#ffb2b2"/>
<circle cx="212.0" cy="2029.5" r="8.3" fill="#ffb2b2"/>
<circle cx="242.5" cy="2029.5" r="8.3" fill="#ffb2b2"/>
<circle cx="273.0" cy="2029.5" r="8.3" fill="#ffb2b2"/>
<circle cx="303.4" cy="2029.5" r="8.3" fill="#ffb2b2"/>
<circle cx="333.9" cy="2029.5" r="8.3" fill="#ffb2b2"/>
<circle cx="364.4" cy="2029.5" r="8.3" fill="#ffb2b2"/>
<circle cx="394.8" cy="2029.5" r="8.3" fill="#ffb2b2"/>
<circle cx="425.3" cy="2029.5" r="8.3" fill="#ffb2b2"/>
<circle cx="455.8" cy="2029.5" r="8.3" fill="#ffb2b2"/>
<circle cx="486.3" cy="2029.5" r="8.3" fill="#ff8c8c"/>
<circle cx="516.7" cy="2029.5" r="8.3" fill="#ff7373"/>
<circle cx="547.2" cy="2029.5" r="8.3" fill="#fff2f2"/>
<circle cx="577.7" cy="2029.5" r="8.3" fill="#ffb2b2"/>
<circle cx="608.2" cy="2029.5" r="8.3" fill="#ffb2b2"/>
<circle cx="638.6" cy="2029.5" r="8.3" fill="#ffb2b2"/>
<circle cx="669.1" cy="2029.5" r="8.3" fill="#ffb2b2"/>
<circle cx="699.6" cy="2029.5" r="8.3" fill="#ffb2b2"/>
<circle cx="730.1" cy="2029.5" r="8.3" fill="#ffb2b2"/>
<circle cx="760.5" cy="2029.5" r="8.3" fill="#ff7373"/>
<circle cx="791.0" cy="2029.5" r="8.3" fill="#ffb2b2"/>
<circle cx="821.5" cy="2029.5" r="8.3" fill="#ffd9d9"/>
<circle cx="852.0" cy="2029.5" r="8.3" fill="#ffd9d9"/>
<circle cx="882.4" cy="2029.5" r="8.3" fill="#ffb2b2"/>
<circle cx="912.9" cy="2029.5" r="8.3" fill="#ffb2b2"/>
<circle cx="943.4" cy="2029.5" r="8.3" fill="#ffb2b2"/>
<circle cx="973.9" cy="2029.5" r="8.3" fill="#ffb2b2"/>
<circle cx="1004.3" cy="2029.5" r="8.3" fill="#ffb2b2"/>
<circle cx="1034.8" cy="2029.5" r="8.3" fill="#ffb2b2"/>
<circle cx="1065.3" cy="2029.5" r="8.3" fill="#ffb2b2"/>
<circle cx="1095.8" cy="2029.5" r="8.3" fill="#ffb2b2"/>
<circle cx="1126.2" cy="2029.5" r="8.3" fill="#ffb2b2"/>
<circle cx="1156.7" cy="2029.5" r="8.3" fill="#ffb2b2"/>
<circle cx="1187.2" cy="2029.5" r="8.3" fill="#ffb2b2"/>
<circle cx="90.1" cy="2058.4" r="8.3" fill="#ffbfbf"/>
<circle cx="120.6" cy="2058.4" r="8.3" fill="#ffbfbf"/>
<circle cx="151.1" cy="2058.4" r="8.3" fill="#ffbfbf"/>
<circle cx="181.5" cy="2058.4" r="8.3" fill="#ffbfbf"/>
<circle cx="212.0" cy="2058.4" r="8.3" fill="#ffbfbf"/>
<circle cx="242.5" cy="2058.4" r="8.3" fill="#ffbfbf"/>
<circle cx="273.0" cy="2058.4" r="8.3" fill="#ffbfbf"/>
<circle cx="303.4" cy="2058.4" r="8.3" fill="#ffbfbf"/>
<circle cx="333.9" cy="2058.4" r="8.3" fill="#ffbfbf"/>
<circle cx="364.4" cy="2058.4" r="8.3" fill="#ffbfbf"/>
<circle cx="394.8" cy="2058.4" r="8.3" fill="#ffbfbf"/>
<circle cx="425.3" cy="2058.4" r="8.3" fill="#ffbfbf"/>
<circle cx="455.8" cy="2058.4" r="8.3" fill="#ffbfbf"/>
<circle cx="486.3" cy="2058.4" r="8.3" fill="#ff8080"/>
<circle cx="516.7" cy="2058.4" r="8.3" fill="#ff8c8c"/>
<circle cx="547.2" cy="2058.4" r="8.3" fill="#ff8c8c"/>
<circle cx="577.7" cy="2058.4" r="8.3" fill="#ffa6a6"/>
<circle cx="608.2" cy="2058.4" r="8.3" fill="#ffcccc"/>
<circle cx="638.6" cy="2058.4" r="8.3" fill="#ffbfbf"/>
<circle cx="669.1" cy="2058.4" r="8.3" fill="#ffbfbf"/>
<circle cx="699.6" cy="2058.4" r="8.3" fill="#ffbfbf"/>
<circle cx="730.1" cy="2058.4" r="8.3" fill="#ffbfbf"/>
<circle cx="760.5" cy="2058.4" r="8.3" fill="#ff5959"/>
<circle cx="791.0" cy="2058.4" r="8.3" fill="#ffb2b2"/>
<circle cx="821.5" cy="2058.4" r="8.3" fill="#fff2f2"/>
<circle cx="852.0" cy="2058.4" r="8.3" fill="#ffcccc"/>
<circle cx="882.4" cy="2058.4" r="8.3" fill="#ffb2b2"/>
<circle cx="912.9" cy="2058.4" r="8.3" fill="#ffb2b2"/>
<circle cx="943.4" cy="2058.4" r="8.3" fill="#ffb2b2"/>
<circle cx="973.9" cy="2058.4" r="8.3" fill="#ffb2b2"/>
<circle cx="1004.3" cy="2058.4" r="8.3" fill="#ffb2b2"/>
<circle cx="1034.8" cy="2058.4" r="8.3" fill="#ffb2b2"/>
<circle cx="1065.3" cy="2058.4" r="8.3" fill="#ffb2b2"/>
<circle cx="1095.8" cy="2058.4" r="8.3" fill="#ffb2b2"/>
<circle cx="1126.2" cy="2058.4" r="8.3" fill="#ffb2b2"/>
<circle cx="1156.7" cy="2058.4" r="8.3" fill="#ffb2b2"/>
<circle cx="1187.2" cy="2058.4" r="8.3" fill="#ffb2b2"/>
<circle cx="90.1" cy="2087.3" r="8.3" fill="#ffbfbf"/>
<circle cx="120.6" cy="2087.3" r="8.3" fill="#ffbfbf"/>
<circle cx="151.1" cy="2087.3" r="8.3" fill="#ffbfbf"/>
<circle cx="181.5" cy="2087.3" r="8.3" fill="#ffbfbf"/>
<circle cx="212.0" cy="2087.3" r="8.3" fill="#ffbfbf"/>
<circle cx="242.5" cy="2087.3" r="8.3" fill="#ffbfbf"/>
<circle cx="273.0" cy="2087.3" r="8.3" fill="#ffbfbf"/>
<circle cx="303.4" cy="2087.3" r="8.3" fill="#ffbfbf"/>
<circle cx="333.9" cy="2087.3" r="8.3" fill="#ffbfbf"/>
<circle cx="364.4" cy="2087.3" r="8.3" fill="#ffbfbf"/>
<circle cx="394.8" cy="2087.3" r="8.3" fill="#ffbfbf"/>
<circle cx="425.3" cy="2087.3" r="8.3" fill="#ffb2b2"/>
<circle cx="455.8" cy="2087.3" r="8.3" fill="#ffa6a6"/>
<circle cx="486.3" cy="2087.3" r="8.3" fill="#ff7373"/>
<circle cx="516.7" cy="2087.3" r="8.3" fill="#ff8080"/>
<circle cx="547.2" cy="2087.3" r="8.3" fill="#ffb2b2"/>
<circle cx="577.7" cy="2087.3" r="8.3" fill="#ffe6e6"/>
<circle cx="608.2" cy="2087.3" r="8.3" fill="#ffbfbf"/>
<circle cx="638.6" cy="2087.3" r="8.3" fill="#ffbfbf"/>
<circle cx="669.1" cy="2087.3" r="8.3" fill="#ffbfbf"/>
<circle cx="699.6" cy="2087.3" r="8.3" fill="#ffbfbf"/>
<circle cx="730.1" cy="2087.3" r="8.3" fill="#ffbfbf"/>
<circle cx="760.5" cy="2087.3" r="8.3" fill="#ffb2b2"/>
<circle cx="791.0" cy="2087.3" r="8.3" fill="#ffb2b2"/>
<circle cx="821.5" cy="2087.3" r="8.3" fill="#ffcccc"/>
<circle cx="852.0" cy="2087.3" r="8.3" fill="#ffcccc"/>
<circle cx="882.4" cy="2087.3" r="8.3" fill="#ffbfbf"/>
<circle cx="912.9" cy="2087.3" r="8.3" fill="#ffbfbf"/>
<circle cx="943.4" cy="2087.3" r="8.3" fill="#ffbfbf"/>
<circle cx="973.9" cy="2087.3" r="8.3" fill="#ffbfbf"/>
<circle cx="1004.3" cy="2087.3" r="8.3" fill="#ffbfbf"/>
<circle cx="1034.8" cy="2087.3" r="8.3" fill="#ffbfbf"/>
<circle cx="1065.3" cy="2087.3" r="8.3" fill="#ffbfbf"/>
<circle cx="1095.8" cy="2087.3" r="8.3" fill="#ffbfbf"/>
<circle cx="1126.2" cy="2087.3" r="8.3" fill="#ffbfbf"/>
<circle cx="1156.7" cy="2087.3" r="8.3" fill="#ffbfbf"/>
<circle cx="1187.2" cy="2087.3" r="8.3" fill="#ffbfbf"/>
<circle cx="90.1" cy="2116.2" r="8.3" fill="#ffbfbf"/>
<circle cx="120.6" cy="2116.2" r="8.3" fill="#ffbfbf"/>
<circle cx="151.1" cy="2116.2" r="8.3" fill="#ffbfbf"/>
<circle cx="181.5" cy="2116.2" r="8.3" fill="#ffbfbf"/>
<circle cx="212.0" cy="2116.2" r="8.3" fill="#ffbfbf"/>
<circle cx="242.5" cy="2116.2" r="8.3" fill="#ffbfbf"/>
<circle cx="273.0" cy="2116.2" r="8.3" fill="#ffbfbf"/>
<circle cx="303.4" cy="2116.2" r="8.3" fill="#ffbfbf"/>
<circle cx="333.9" cy="2116.2" r="8.3" fill="#ffbfbf"/>
<circle cx="364.4" cy="2116.2" r="8.3" fill="#ffbfbf"/>
<circle cx="394.8" cy="2116.2" r="8.3" fill="#ffbfbf"/>
<circle cx="425.3" cy="2116.2" r="8.3" fill="#ffb2b2"/>
<circle cx="455.8" cy="2116.2" r="8.3" fill="#ffb2b2"/>
<circle cx="486.3" cy="2116.2" r="8.3" fill="#ff9999"/>
<circle cx="516.7" cy="2116.2" r="8.3" fill="#ffb2b2"/>
<circle cx="547.2" cy="2116.2" r="8.3" fill="#fff2f2"/>
<circle cx="577.7" cy="2116.2" r="8.3" fill="#ffcccc"/>
<circle cx="608.2" cy="2116.2" r="8.3" fill="#ffbfbf"/>
<circle cx="638.6" cy="2116.2" r="8.3" fill="#ffbfbf"/>
<circle cx="669.1" cy="2116.2" r="8.3" fill="#ffbfbf"/>
<circle cx="699.6" cy="2116.2" r="8.3" fill="#ffbfbf"/>
<circle cx="730.1" cy="2116.2" r="8.3" fill="#ffbfbf"/>
<circle cx="760.5" cy="2116.2" r="8.3" fill="#ff8080"/>
<circle cx="791.0" cy="2116.2" r="8.3" fill="#ffbfbf"/>
<circle cx="821.5" cy="2116.2" r="8.3" fill="#ffe6e6"/>
<circle cx="852.0" cy="2116.2" r="8.3" fill="#ffbfbf"/>
<circle cx="882.4" cy="2116.2" r="8.3" fill="#ffbfbf"/>
<circle cx="912.9" cy="2116.2" r="8.3" fill="#ffbfbf"/>
<circle cx="943.4" cy="2116.2" r="8.3" fill="#ffbfbf"/>
<circle cx="973.9" cy="2116.2" r="8.3" fill="#ffbfbf"/>
<circle cx="1004.3" cy="2116.2" r="8.3" fill="#ffbfbf"/>
<circle cx="1034.8" cy="2116.2" r="8.3" fill="#ffbfbf"/>
<circle cx="1065.3" cy="2116.2" r="8.3" fill="#ffbfbf"/>
<circle cx="1095.8" cy="2116.2" r="8.3" fill="#ffbfbf"/>
<circle cx="1126.2" cy="2116.2" r="8.3" fill="#ffbfbf"/>
<circle cx="1156.7" cy="2116.2" r="8.3" fill="#ffbfbf"/>
<circle cx="1187.2" cy="2116.2" r="8.3" fill="#ffbfbf"/>
<circle cx="90.1" cy="2145.1" r="8.3" fill="#ffbfbf"/>
<circle cx="120.6" cy="2145.1" r="8.3" fill="#ffbfbf"/>
<circle cx="151.1" cy="2145.1" r="8.3" fill="#ffbfbf"/>
<circle cx="181.5" cy="2145.1" r="8.3" fill="#ffbfbf"/>
<circle cx="212.0" cy="2145.1" r="8.3" fill="#ffbfbf"/>
<circle cx="242.5" cy="2145.1" r="8.3" fill="#ffbfbf"/>
<circle cx="273.0" cy="2145.1" r="8.3" fill="#ffbfbf"/>
<circle cx="303.4" cy="2145.1" r="8.3" fill="#ffbfbf"/>
<circle cx="333.9" cy="2145.1" r="8.3" fill="#ffbfbf"/>
<circle cx="364.4" cy="2145.1" r="8.3" fill="#ffbfbf"/>
<circle cx="394.8" cy="2145.1" r="8.3" fill="#ffbfbf"/>
<circle cx="425.3" cy="2145.1" r="8.3" fill="#ffbfbf"/>
<circle cx="455.8" cy="2145.1" r="8.3" fill="#ffbfbf"/>
<circle cx="486.3" cy="2145.1" r="8.3" fill="#ffcccc"/>
<circle cx="516.7" cy="2145.1" r="8.3" fill="#ffcccc"/>
<circle cx="547.2" cy="2145.1" r="8.3" fill="#ffcccc"/>
<circle cx="577.7" cy="2145.1" r="8.3" fill="#ffcccc"/>
<circle cx="608.2" cy="2145.1" r="8.3" fill="#ffcccc"/>
<circle cx="638.6" cy="2145.1" r="8.3" fill="#ffcccc"/>
<circle cx="669.1" cy="2145.1" r="8.3" fill="#ffcccc"/>
<circle cx="699.6" cy="2145.1" r="8.3" fill="#ffcccc"/>
<circle cx="730.1" cy="2145.1" r="8.3" fill="#ffcccc"/>
<circle cx="760.5" cy="2145.1" r="8.3" fill="#ffbfbf"/>
<circle cx="791.0" cy="2145.1" r="8.3" fill="#ffbfbf"/>
<circle cx="821.5" cy="2145.1" r="8.3" fill="#ffbfbf"/>
<circle cx="852.0" cy="2145.1" r="8.3" fill="#ffbfbf"/>
<circle cx="882.4" cy="2145.1" r="8.3" fill="#ffbfbf"/>
<circle cx="912.9" cy="2145.1" r="8.3" fill="#ffbfbf"/>
<circle cx="943.4" cy="2145.1" r="8.3" fill="#ffbfbf"/>
<circle cx="973.9" cy="2145.1" r="8.3" fill="#ffbfbf"/>
<circle cx="1004.3" cy="2145.1" r="8.3" fill="#ffbfbf"/>
<circle cx="1034.8" cy="2145.1" r="8.3" fill="#ffbfbf"/>
<circle cx="1065.3" cy="2145.1" r="8.3" fill="#ffbfbf"/>
<circle cx="1095.8" cy="2145.1" r="8.3" fill="#ffbfbf"/>
<circle cx="1126.2" cy="2145.1" r="8.3" fill="#ffbfbf"/>
<circle cx="1156.7" cy="2145.1" r="8.3" fill="#ffbfbf"/>
<circle cx="1187.2" cy="2145.1" r="8.3" fill="#ffbfbf"/>
<circle cx="90.1" cy="2174.1" r="8.3" fill="#ffbfbf"/>
<circle cx="120.6" cy="2174.1" r="8.3" fill="#ffbfbf"/>
<circle cx="151.1" cy="2174.1" r="8.3" fill="#ffbfbf"/>
<circle cx="181.5" cy="2174.1" r="8.3" fill="#ffbfbf"/>
<circle cx="212.0" cy="2174.1" r="8.3" fill="#ffbfbf"/>
<circle cx="242.5" cy="2174.1" r="8.3" fill="#ffbfbf"/>
<circle cx="273.0" cy="2174.1" r="8.3" fill="#ffbfbf"/>
<circle cx="303.4" cy="2174.1" r="8.3" fill="#ffbfbf"/>
<circle cx="333.9" cy="2174.1" r="8.3" fill="#ffbfbf"/>
<circle cx="364.4" cy="2174.1" r="8.3" fill="#ffbfbf"/>
<circle cx="394.8" cy="2174.1" r="8.3" fill="#ffbfbf"/>
<circle cx="425.3" cy="2174.1" r="8.3" fill="#ffbfbf"/>
<circle cx="455.8" cy="2174.1" r="8.3" fill="#ffbfbf"/>
<circle cx="486.3" cy="2174.1" r="8.3" fill="#ffcccc"/>
<circle cx="516.7" cy="2174.1" r="8.3" fill="#ffcccc"/>
<circle cx="547.2" cy="2174.1" r="8.3" fill="#ffcccc"/>
<circle cx="577.7" cy="2174.1" r="8.3" fill="#ffcccc"/>
<circle cx="608.2" cy="2174.1" r="8.3" fill="#ffcccc"/>
<circle cx="638.6" cy="2174.1" r="8.3" fill="#ffcccc"/>
<circle cx="669.1" cy="2174.1" r="8.3" fill="#ffcccc"/>
<circle cx="699.6" cy="2174.1" r="8.3" fill="#ffcccc"/>
<circle cx="730.1" cy="2174.1" r="8.3" fill="#ffcccc"/>
<circle cx="760.5" cy="2174.1" r="8.3" fill="#ffbfbf"/>
<circle cx="791.0" cy="2174.1" r="8.3" fill="#ffbfbf"/>
<circle cx="821.5" cy="2174.1" r="8.3" fill="#ffbfbf"/>
<circle cx="852.0" cy="2174.1" r="8.3" fill="#ffbfbf"/>
<circle cx="882.4" cy="2174.1" r="8.3" fill="#ffbfbf"/>
<circle cx="912.9" cy="2174.1" r="8.3" fill="#ffbfbf"/>
<circle cx="943.4" cy="2174.1" r="8.3" fill="#ffbfbf"/>
<circle cx="973.9" cy="2174.1" r="8.3" fill="#ffbfbf"/>
<circle cx="1004.3" cy="2174.1" r="8.3" fill="#ffbfbf"/>
<circle cx="1034.8" cy="2174.1" r="8.3" fill="#ffbfbf"/>
<circle cx="1065.3" cy="2174.1" r="8.3" fill="#ffbfbf"/>
<circle cx="1095.8" cy="2174.1" r="8.3" fill="#ffbfbf"/>
<circle cx="1126.2" cy="2174.1" r="8.3" fill="#ffbfbf"/>
<circle cx="1156.7" cy="2174.1" r="8.3" fill="#ffbfbf"/>
<circle cx="1187.2" cy="2174.1" r="8.3" fill="#ffbfbf"/>
<circle cx="90.1" cy="2203.0" r="8.3" fill="#ffbfbf"/>
<circle cx="120.6" cy="2203.0" r="8.3" fill="#ffbfbf"/>
<circle cx="151.1" cy="2203.0" r="8.3" fill="#ffbfbf"/>
<circle cx="181.5" cy="2203.0" r="8.3" fill="#ffbfbf"/>
<circle cx="212.0" cy="2203.0" r="8.3" fill="#ffbfbf"/>
<circle cx="242.5" cy="2203.0" r="8.3" fill="#ffbfbf"/>
<circle cx="273.0" cy="2203.0" r="8.3" fill="#ffbfbf"/>
<circle cx="303.4" cy="2203.0" r="8.3" fill="#ffbfbf"/>
<circle cx="333.9" cy="2203.0" r="8.3" fill="#ffbfbf"/>
<circle cx="364.4" cy="2203.0" r="8.3" fill="#ffbfbf"/>
<circle cx="394.8" cy="2203.0" r="8.3" fill="#ffbfbf"/>
<circle cx="425.3" cy="2203.0" r="8.3" fill="#ffbfbf"/>
<circle cx="455.8" cy="2203.0" r="8.3" fill="#ffbfbf"/>
<circle cx="486.3" cy="2203.0" r="8.3" fill="#ffbfbf"/>
<circle cx="516.7" cy="2203.0" r="8.3" fill="#ffbfbf"/>
<circle cx="547.2" cy="2203.0" r="8.3" fill="#ffbfbf"/>
<circle cx="577.7" cy="2203.0" r="8.3" fill="#ffbfbf"/>
<circle cx="608.2" cy="2203.0" r="8.3" fill="#ffbfbf"/>
<circle cx="638.6" cy="2203.0" r="8.3" fill="#ffbfbf"/>
<circle cx="669.1" cy="2203.0" r="8.3" fill="#ffbfbf"/>
<circle cx="699.6" cy="2203.0" r="8.3" fill="#ffbfbf"/>
<circle cx="730.1" cy="2203.0" r="8.3" fill="#ffbfbf"/>
<circle cx="760.5" cy="2203.0" r="8.3" fill="#ffbfbf"/>
<circle cx="791.0" cy="2203.0" r="8.3" fill="#ffbfbf"/>
<circle cx="821.5" cy="2203.0" r="8.3" fill="#ffbfbf"/>
<circle cx="852.0" cy="2203.0" r="8.3" fill="#ffbfbf"/>
<circle cx="882.4" cy="2203.0" r="8.3" fill="#ffbfbf"/>
<circle cx="912.9" cy="2203.0" r="8.3" fill="#ffbfbf"/>
<circle cx="943.4" cy="2203.0" r="8.3" fill="#ffbfbf"/>
<circle cx="973.9" cy="2203.0" r="8.3" fill="#ffbfbf"/>
<circle cx="1004.3" cy="2203.0" r="8.3" fill="#ffbfbf"/>
<circle cx="1034.8" cy="2203.0" r="8.3" fill="#ffbfbf"/>
<circle cx="1065.3" cy="2203.0" r="8.3" fill="#ffbfbf"/>
<circle cx="1095.8" cy="2203.0" r="8.3" fill="#ffbfbf"/>
<circle cx="1126.2" cy="2203.0" r="8.3" fill="#ffbfbf"/>
<circle cx="1156.7" cy="2203.0" r="8.3" fill="#ffbfbf"/>
<circle cx="1187.2" cy="2203.0" r="8.3" fill="#ffbfbf"/>
<circle cx="90.1" cy="2231.9" r="8.3" fill="#ffbfbf"/>
<circle cx="120.6" cy="2231.9" r="8.3" fill="#ffbfbf"/>
<circle cx="151.1" cy="2231.9" r="8.3" fill="#ffbfbf"/>
<circle cx="181.5" cy="2231.9" r="8.3" fill="#ffbfbf"/>
<circle cx="212.0" cy="2231.9" r="8.3" fill="#ffbfbf"/>
<circle cx="242.5" cy="2231.9" r="8.3" fill="#ffbfbf"/>
<circle cx="273.0" cy="2231.9" r="8.3" fill="#ffbfbf"/>
<circle cx="303.4" cy="2231.9" r="8.3" fill="#ffbfbf"/>
<circle cx="333.9" cy="2231.9" r="8.3" fill="#ffbfbf"/>
<circle cx="364.4" cy="2231.9" r="8.3" fill="#ffbfbf"/>
<circle cx="394.8" cy="2231.9" r="8.3" fill="#ffbfbf"/>
<circle cx="425.3" cy="2231.9" r="8.3" fill="#ffbfbf"/>
<circle cx="455.8" cy="2231.9" r="8.3" fill="#ffbfbf"/>
<circle cx="486.3" cy="2231.9" r="8.3" fill="#ffbfbf"/>
<circle cx="516.7" cy="2231.9" r="8.3" fill="#ffbfbf"/>
<circle cx="547.2" cy="2231.9" r="8.3" fill="#ffbfbf"/>
<circle cx="577.7" cy="2231.9" r="8.3" fill="#ffbfbf"/>
<circle cx="608.2" cy="2231.9" r="8.3" fill="#ffbfbf"/>
<circle cx="638.6" cy="2231.9" r="8.3" fill="#ffbfbf"/>
<circle cx="669.1" cy="2231.9" r="8.3" fill="#ffbfbf"/>
<circle cx="699.6" cy="2231.9" r="8.3" fill="#ffbfbf"/>
<circle cx="730.1" cy="2231.9" r="8.3" fill="#ffbfbf"/>
<circle cx="760.5" cy="2231.9" r="8.3" fill="#ffbfbf"/>
<circle cx="791.0" cy="2231.9" r="8.3" fill="#ffbfbf"/>
<circle cx="821.5" cy="2231.9" r="8.3" fill="#ffbfbf"/>
<circle cx="852.0" cy="2231.9" r="8.3" fill="#ffbfbf"/>
<circle cx="882.4" cy="2231.9" r="8.3" fill="#ffbfbf"/>
<circle cx="912.9" cy="2231.9" r="8.3" fill="#ffbfbf"/>
<circle cx="943.4" cy="2231.9" r="8.3" fill="#ffbfbf"/>
<circle cx="973.9" cy="2231.9" r="8.3" fill="#ffbfbf"/>
<circle cx="1004.3" cy="2231.9" r="8.3" fill="#ffbfbf"/>
<circle cx="1034.8" cy="2231.9" r="8.3" fill="#ffbfbf"/>
<circle cx="1065.3" cy="2231.9" r="8.3" fill="#ffbfbf"/>
<circle cx="1095.8" cy="2231.9" r="8.3" fill="#ffbfbf"/>
<circle cx="1126.2" cy="2231.9" r="8.3" fill="#ffbfbf"/>
<circle cx="1156.7" cy="2231.9" r="8.3" fill="#ffbfbf"/>
<circle cx="1187.2" cy="2231.9" r="8.3" fill="#ffbfbf"/>
<circle cx="90.1" cy="2260.8" r="8.3" fill="#ffbfbf"/>
<circle cx="120.6" cy="2260.8" r="8.3" fill="#ffbfbf"/>
<circle cx="151.1" cy="2260.8" r="8.3" fill="#ffbfbf"/>
<circle cx="181.5" cy="2260.8" r="8.3" fill="#ffbfbf"/>
<circle cx="212.0" cy="2260.8" r="8.3" fill="#ffbfbf"/>
<circle cx="242.5" cy="2260.8" r="8.3" fill="#ffbfbf"/>
<circle cx="273.0" cy="2260.8" r="8.3" fill="#ffbfbf"/>
<circle cx="303.4" cy="2260.8" r="8.3" fill="#ffbfbf"/>
<circle cx="333.9" cy="2260.8" r="8.3" fill="#ffbfbf"/>
<circle cx="364.4" cy="2260.8" r="8.3" fill="#ffbfbf"/>
<circle cx="394.8" cy="2260.8" r="8.3" fill="#ffbfbf"/>
<circle cx="425.3" cy="2260.8" r="8.3" fill="#ffbfbf"/>
<circle cx="455.8" cy="2260.8" r="8.3" fill="#ffbfbf"/>
<circle cx="486.3" cy="2260.8" r="8.3" fill="#ffbfbf"/>
<circle cx="516.7" cy="2260.8" r="8.3" fill="#ffbfbf"/>
<circle cx="547.2" cy="2260.8" r="8.3" fill="#ffbfbf"/>
<circle cx="577.7" cy="2260.8" r="8.3" fill="#ffbfbf"/>
<circle cx="608.2" cy="2260.8" r="8.3" fill="#ffbfbf"/>
<circle cx="638.6" cy="2260.8" r="8.3" fill="#ffbfbf"/>
<circle cx="669.1" cy="2260.8" r="8.3" fill="#ffbfbf"/>
<circle cx="699.6" cy="2260.8" r="8.3" fill="#ffbfbf"/>
<circle cx="730.1" cy="2260.8" r="8.3" fill="#ffbfbf"/>
<circle cx="760.5" cy="2260.8" r="8.3" fill="#ffbfbf"/>
<circle cx="791.0" cy="2260.8" r="8.3" fill="#ffbfbf"/>
<circle cx="821.5" cy="2260.8" r="8.3" fill="#ffbfbf"/>
<circle cx="852.0" cy="2260.8" r="8.3" fill="#ffbfbf"/>
<circle cx="882.4" cy="2260.8" r="8.3" fill="#ffbfbf"/>
<circle cx="912.9" cy="2260.8" r="8.3" fill="#ffbfbf"/>
<circle cx="943.4" cy="2260.8" r="8.3" fill="#ffbfbf"/>
<circle cx="973.9" cy="2260.8" r="8.3" fill="#ffbfbf"/>
<circle cx="1004.3" cy="2260.8" r="8.3" fill="#ffbfbf"/>
<circle cx="1034.8" cy="2260.8" r="8.3" fill="#ffbfbf"/>
<circle cx="1065.3" cy="2260.8" r="8.3" fill="#ffbfbf"/>
<circle cx="1095.8" cy="2260.8" r="8.3" fill="#ffbfbf"/>
<circle cx="1126.2" cy="2260.8" r="8.3" fill="#ffbfbf"/>
<circle cx="1156.7" cy="2260.8" r="8.3" fill="#ffbfbf"/>
<circle cx="1187.2" cy="2260.8" r="8.3" fill="#ffbfbf"/>
<circle cx="90.1" cy="2289.7" r="8.3" fill="#ffbfbf"/>
<circle cx="120.6" cy="2289.7" r="8.3" fill="#ffbfbf"/>
<circle cx="151.1" cy="2289.7" r="8.3" fill="#ffbfbf"/>
<circle cx="181.5" cy="2289.7" r="8.3" fill="#ffbfbf"/>
<circle cx="212.0" cy="2289.7" r="8.3" fill="#ffbfbf"/>
<circle cx="242.5" cy="2289.7" r="8.3" fill="#ffbfbf"/>
<circle cx="273.0" cy="2289.7" r="8.3" fill="#ffbfbf"/>
<circle cx="303.4" cy="2289.7" r="8.3" fill="#ffbfbf"/>
<circle cx="333.9" cy="2289.7" r="8.3" fill="#ffbfbf"/>
<circle cx="364.4" cy="2289.7" r="8.3" fill="#ffbfbf"/>
<circle cx="394.8" cy="2289.7" r="8.3" fill="#ffbfbf"/>
<circle cx="425.3" cy="2289.7" r="8.3" fill="#ffbfbf"/>
<circle cx="455.8" cy="2289.7" r="8.3" fill="#ffbfbf"/>
<circle cx="486.3" cy="2289.7" r="8.3" fill="#ffbfbf"/>
<circle cx="516.7" cy="2289.7" r="8.3" fill="#ffbfbf"/>
<circle cx="547.2" cy="2289.7" r="8.3" fill="#ffbfbf"/>
<circle cx="577.7" cy="2289.7" r="8.3" fill="#ffbfbf"/>
<circle cx="608.2" cy="2289.7" r="8.3" fill="#ffbfbf"/>
<circle cx="638.6" cy="2289.7" r="8.3" fill="#ffbfbf"/>
<circle cx="669.1" cy="2289.7" r="8.3" fill="#ffbfbf"/>
<circle cx="699.6" cy="2289.7" r="8.3" fill="#ffbfbf"/>
<circle cx="730.1" cy="2289.7" r="8.3" fill="#ffbfbf"/>
<circle cx="760.5" cy="2289.7" r="8.3" fill="#ffbfbf"/>
<circle cx="791.0" cy="2289.7" r="8.3" fill="#ffbfbf"/>
<circle cx="821.5" cy="2289.7" r="8.3" fill="#ffbfbf"/>
<circle cx="852.0" cy="2289.7" r="8.3" fill="#ffbfbf"/>
<circle cx="882.4" cy="2289.7" r="8.3" fill="#ffbfbf"/>
<circle cx="912.9" cy="2289.7" r="8.3" fill="#ffbfbf"/>
<circle cx="943.4" cy="2289.7" r="8.3" fill="#ffbfbf"/>
<circle cx="973.9" cy="2289.7" r="8.3" fill="#ffbfbf"/>
<circle cx="1004.3" cy="2289.7" r="8.3" fill="#ffbfbf"/>
<circle cx="1034.8" cy="2289.7" r="8.3" fill="#ffbfbf"/>
<circle cx="1065.3" cy="2289.7" r="8.3" fill="#ffbfbf"/>
<circle cx="1095.8" cy="2289.7" r="8.3" fill="#ffbfbf"/>
<circle cx="1126.2" cy="2289.7" r="8.3" fill="#ffbfbf"/>
<circle cx="1156.7" cy="2289.7" r="8.3" fill="#ffbfbf"/>
<circle cx="1187.2" cy="2289.7" r="8.3" fill="#ffbfbf"/>
</g>
<g fill="none" stroke="#111" stroke-width="1.15" stroke-linejoin="round">
<path d="M99.3 1450.7C112.6 1439.8 153.4 1403.8 179.1 1385.5C204.8 1367.3 226.6 1355.5 253.4 1341.0C280.2 1326.6 312.2 1310.7 339.8 1298.6C367.4 1286.5 392.4 1277.2 419.2 1268.3C445.9 1259.3 476.3 1250.8 500.1 1245.0C523.9 1239.2 537.8 1236.3 562.0 1233.4C586.1 1230.5 620.2 1227.6 645.2 1227.6C670.2 1227.6 683.6 1228.6 712.1 1233.4C740.6 1238.2 784.0 1247.5 816.2 1256.5C848.4 1265.6 878.1 1276.3 905.2 1287.5C932.2 1298.7 952.7 1309.5 978.4 1323.9C1004.1 1338.3 1033.0 1356.8 1059.3 1374.1C1085.6 1391.5 1116.1 1413.5 1136.4 1427.9C1156.6 1442.4 1173.5 1455.3 1181.0 1460.7"/>
<path d="M102.0 1454.0C115.2 1443.1 155.8 1407.1 181.4 1388.8C206.9 1370.5 228.5 1358.8 255.2 1344.3C281.8 1329.8 313.7 1313.9 341.2 1301.8C368.7 1289.6 393.6 1280.3 420.2 1271.4C446.8 1262.4 477.2 1253.9 500.9 1248.1C524.6 1242.3 538.3 1239.3 562.3 1236.4C586.4 1233.5 620.3 1230.7 645.2 1230.6C670.1 1230.6 683.2 1231.6 711.6 1236.4C739.9 1241.2 783.3 1250.6 815.3 1259.6C847.4 1268.6 877.0 1279.3 903.9 1290.5C930.8 1301.8 951.1 1312.5 976.7 1326.9C1002.2 1341.4 1031.0 1359.8 1057.3 1377.2C1083.5 1394.6 1113.9 1416.7 1134.1 1431.2C1154.2 1445.7 1171.1 1458.7 1178.5 1464.2"/>
<path d="M100.3 1580.6C113.6 1568.8 154.4 1531.3 180.0 1510.0C205.7 1488.6 227.4 1471.6 254.2 1452.5C280.9 1433.3 312.9 1411.6 340.5 1394.9C368.0 1378.3 393.0 1364.5 419.7 1352.6C446.3 1340.6 476.8 1330.4 500.5 1323.3C524.2 1316.2 538.0 1313.2 562.2 1310.2C586.3 1307.1 623.5 1305.6 645.2 1305.1C666.9 1304.6 675.1 1304.6 692.6 1307.0C710.2 1309.5 730.0 1313.8 750.6 1319.7C771.1 1325.6 796.5 1334.5 815.7 1342.5C835.0 1350.5 851.2 1359.3 866.0 1367.7C880.8 1376.1 890.4 1383.2 904.5 1392.9C918.6 1402.7 931.4 1412.1 950.7 1426.2C969.9 1440.3 995.6 1459.0 1020.0 1477.5C1044.4 1496.0 1077.4 1522.1 1097.0 1537.2C1116.6 1552.4 1123.9 1556.2 1137.5 1568.5C1151.2 1580.8 1172.1 1603.8 1179.0 1610.9"/>
<path d="M102.4 1583.0C115.7 1571.3 156.5 1533.8 182.1 1512.5C207.7 1491.1 229.4 1474.2 256.1 1455.1C282.7 1436.0 314.6 1414.3 342.1 1397.7C369.6 1381.1 394.4 1367.4 421.0 1355.5C447.5 1343.6 477.8 1333.4 501.4 1326.4C525.0 1319.4 538.6 1316.4 562.6 1313.4C586.6 1310.4 629.1 1309.1 645.4 1308.3C661.7 1307.6 657.8 1308.6 660.3 1308.7"/>
<path d="M100.3 1652.3C106.7 1646.7 125.5 1629.6 138.6 1618.7C151.8 1607.7 159.7 1599.0 179.0 1586.7C198.3 1574.4 227.2 1560.1 254.2 1544.8C281.2 1529.5 313.3 1510.2 340.9 1494.8C368.4 1479.5 393.1 1466.6 419.7 1452.5C446.3 1438.3 476.8 1421.0 500.5 1410.1C524.2 1399.1 545.5 1392.0 562.2 1386.9C578.8 1381.7 586.8 1381.1 600.6 1379.3C614.4 1377.5 632.4 1376.5 645.2 1376.3C658.0 1376.1 666.3 1377.0 677.5 1378.2C688.6 1379.3 699.9 1380.2 712.1 1383.2C724.3 1386.3 737.7 1391.2 750.6 1396.7C763.4 1402.1 776.3 1408.2 789.1 1415.9C801.9 1423.6 814.7 1433.6 827.5 1442.9C840.4 1452.2 853.2 1462.0 866.0 1471.6C878.8 1481.3 890.4 1490.3 904.5 1500.6C918.6 1510.9 931.6 1521.7 950.7 1533.2C969.7 1544.7 994.2 1554.6 1018.6 1569.5C1043.0 1584.5 1077.1 1609.7 1097.0 1623.0C1116.8 1636.3 1123.9 1638.6 1137.5 1649.2C1151.2 1659.8 1172.1 1680.4 1179.0 1686.6"/>
<path d="M100.3 1662.6C106.7 1656.9 125.5 1639.6 138.6 1628.9C151.8 1618.1 159.7 1610.6 179.0 1598.1C198.3 1585.6 227.3 1568.2 254.2 1553.9C281.1 1539.5 312.9 1525.0 340.5 1512.0C368.0 1499.0 393.0 1487.8 419.7 1475.7C446.3 1463.5 478.7 1449.3 500.5 1439.0C522.3 1428.8 542.0 1418.3 550.3 1414.1"/>
<path d="M841.0 1416.6C848.3 1422.6 870.8 1440.8 885.3 1452.5C899.7 1464.1 911.6 1475.2 927.6 1486.8C943.7 1498.4 966.4 1512.3 981.5 1522.1C996.7 1531.8 999.3 1532.2 1018.6 1545.3C1037.8 1558.4 1077.1 1586.9 1097.0 1600.8C1116.8 1614.7 1123.9 1616.9 1137.5 1628.5C1151.2 1640.0 1172.1 1663.0 1179.0 1669.9"/>
<path d="M100.3 1680.2C106.7 1674.5 125.5 1656.8 138.6 1646.0C151.8 1635.2 159.7 1627.3 179.0 1615.2C198.3 1603.2 227.3 1585.5 254.2 1573.6C281.1 1561.7 317.3 1549.7 340.5 1543.8C363.6 1537.9 369.5 1539.0 392.9 1537.9C416.4 1536.8 466.6 1537.3 481.3 1537.2"/>
<path d="M792.9 1566.0C801.9 1565.4 831.4 1562.5 846.8 1562.2C862.2 1561.8 869.3 1561.8 885.3 1564.1C901.3 1566.3 926.8 1571.4 942.9 1575.6C958.9 1579.7 968.9 1584.6 981.5 1589.1C994.1 1593.6 999.3 1591.6 1018.6 1602.3C1037.8 1613.0 1077.1 1640.5 1097.0 1653.3C1116.8 1666.1 1123.9 1668.2 1137.5 1679.2C1151.2 1690.2 1172.1 1712.7 1179.0 1719.4"/>
<path d="M100.3 1722.4C106.7 1716.5 125.5 1698.2 138.6 1687.1C151.8 1676.0 165.2 1664.7 179.0 1655.7C192.8 1646.7 208.4 1639.0 221.4 1633.1C234.3 1627.2 243.6 1623.9 256.7 1620.4C269.8 1616.9 281.3 1612.3 300.1 1611.9C318.9 1611.5 349.8 1613.4 369.7 1618.0C389.7 1622.5 404.3 1631.5 419.7 1639.2C435.1 1646.9 448.6 1656.8 462.1 1664.2C475.5 1671.6 483.8 1677.1 500.5 1683.6C517.2 1690.0 543.1 1698.4 562.2 1702.7C581.2 1707.0 600.2 1707.9 614.9 1709.3C629.6 1710.6 638.5 1710.8 650.2 1710.8C662.0 1710.8 668.8 1711.3 685.6 1709.3C702.3 1707.3 730.1 1703.3 750.6 1698.7C771.0 1694.1 789.0 1688.3 808.3 1681.5C827.5 1674.8 849.9 1664.1 866.0 1658.3C882.0 1652.5 889.8 1649.4 904.5 1646.8C919.3 1644.3 938.6 1642.7 954.6 1643.0C970.6 1643.3 990.0 1647.1 1000.7 1648.7C1011.4 1650.4 1008.9 1649.9 1018.6 1653.1C1028.2 1656.3 1045.0 1661.6 1058.4 1668.0C1071.9 1674.4 1086.1 1683.1 1099.3 1691.6C1112.5 1700.2 1124.2 1708.3 1137.5 1719.3C1150.8 1730.3 1172.1 1751.3 1179.0 1757.7"/>
<path d="M100.3 1734.9C106.7 1729.0 125.5 1710.0 138.6 1699.2C151.8 1688.4 165.2 1678.3 179.0 1669.9C192.8 1661.6 208.4 1654.8 221.4 1649.2C234.3 1643.6 243.6 1639.4 256.7 1636.3C269.8 1633.2 285.1 1631.1 300.1 1630.6C315.1 1630.0 331.0 1630.1 346.5 1633.1C362.0 1636.1 376.3 1641.3 392.9 1648.7C409.6 1656.1 428.5 1668.5 446.4 1677.5C464.3 1686.5 481.2 1695.7 500.5 1702.7C519.8 1709.8 543.1 1715.8 562.2 1719.9C581.2 1724.0 600.2 1725.8 614.9 1727.5C629.6 1729.1 638.5 1729.5 650.2 1729.6C662.0 1729.7 668.8 1730.2 685.6 1728.0C702.3 1725.7 730.1 1720.7 750.6 1715.8C771.0 1711.0 789.0 1705.4 808.3 1698.7C827.5 1692.0 849.9 1681.2 866.0 1675.5C882.0 1669.7 889.8 1666.7 904.5 1664.2C919.3 1661.7 938.6 1660.0 954.6 1660.3C970.6 1660.7 990.0 1664.5 1000.7 1666.1C1011.4 1667.7 1008.9 1666.8 1018.6 1670.0C1028.2 1673.2 1045.0 1678.9 1058.4 1685.4C1071.9 1691.8 1086.1 1700.8 1099.3 1708.8C1112.5 1716.7 1124.2 1722.5 1137.5 1733.0C1150.8 1743.5 1172.1 1765.4 1179.0 1771.9"/>
<path d="M100.3 1864.8C106.7 1856.1 125.8 1826.2 138.6 1812.7C151.5 1799.3 164.4 1791.7 177.3 1784.1C190.1 1776.4 202.9 1770.9 215.7 1766.7C228.6 1762.5 241.5 1760.3 254.3 1759.0C267.1 1757.8 279.9 1758.1 292.7 1759.0C305.5 1760.0 318.3 1762.2 331.2 1764.8C344.0 1767.4 356.9 1770.5 369.7 1774.4C382.5 1778.2 395.3 1783.7 408.1 1787.9C420.9 1792.1 433.8 1795.9 446.6 1799.4C459.5 1802.9 472.3 1805.8 485.2 1809.0C498.0 1812.2 510.8 1815.9 523.6 1818.8C536.4 1821.7 549.3 1824.2 562.2 1826.4C575.0 1828.5 586.8 1830.1 600.6 1831.4C614.4 1832.7 629.9 1833.7 645.2 1833.9C660.5 1834.2 675.1 1833.9 692.6 1832.9C710.2 1832.0 731.3 1830.0 750.6 1828.3C769.8 1826.5 789.0 1824.6 808.3 1822.5C827.5 1820.5 846.8 1817.9 866.0 1816.0C885.2 1814.0 904.5 1811.7 923.7 1811.0C943.0 1810.4 965.5 1810.8 981.5 1812.1C997.6 1813.4 1007.2 1815.4 1020.0 1818.7C1032.8 1822.0 1045.6 1826.0 1058.4 1832.1C1071.3 1838.2 1084.1 1844.9 1097.0 1855.1C1109.8 1865.3 1123.9 1879.3 1135.4 1893.5C1147.0 1907.6 1158.9 1926.8 1166.2 1939.9C1173.5 1953.0 1175.0 1952.8 1179.0 1972.2C1183.0 1991.5 1188.8 2032.7 1190.1 2055.9C1191.5 2079.1 1189.1 2097.1 1187.1 2111.4C1185.0 2125.7 1180.3 2130.9 1177.8 2141.7C1175.3 2152.6 1174.5 2164.6 1172.3 2176.5C1170.2 2188.5 1167.4 2201.6 1164.7 2213.6C1162.0 2225.5 1159.3 2236.6 1156.0 2248.4C1152.7 2260.1 1146.6 2278.1 1144.7 2284.0"/>
<path d="M101.1 1865.4C107.5 1856.7 126.6 1826.9 139.4 1813.5C152.2 1800.1 165.1 1792.6 177.9 1785.0C190.6 1777.4 203.3 1771.9 216.1 1767.8C228.9 1763.7 241.6 1761.5 254.4 1760.2C267.2 1759.0 279.9 1759.3 292.6 1760.3C305.4 1761.3 318.1 1763.5 330.9 1766.1C343.7 1768.6 356.5 1771.8 369.3 1775.7C382.1 1779.5 394.8 1785.0 407.6 1789.2C420.5 1793.4 433.4 1797.3 446.2 1800.8C459.1 1804.3 472.0 1807.2 484.8 1810.4C497.6 1813.7 510.4 1817.4 523.3 1820.3C536.1 1823.2 549.0 1825.8 561.9 1827.9C574.8 1830.1 586.6 1831.8 600.5 1833.0C614.3 1834.3 629.8 1835.3 645.2 1835.6C660.6 1835.9 675.1 1835.6 692.7 1834.7C710.3 1833.7 731.4 1831.8 750.7 1830.1C770.0 1828.3 789.2 1826.4 808.5 1824.3C827.7 1822.3 847.0 1819.7 866.2 1817.8C885.4 1815.9 904.6 1813.6 923.8 1813.0C943.0 1812.3 965.4 1812.8 981.4 1814.1C997.3 1815.4 1006.8 1817.3 1019.5 1820.7C1032.2 1824.0 1044.8 1828.0 1057.5 1834.0C1070.2 1840.0 1082.9 1846.6 1095.6 1856.8C1108.3 1866.9 1122.3 1880.8 1133.7 1894.8C1145.2 1908.9 1157.1 1928.0 1164.2 1941.0C1171.4 1953.9 1172.9 1953.5 1176.8 1972.6C1180.7 1991.8 1186.5 2033.0 1187.8 2056.1C1189.1 2079.1 1186.8 2096.9 1184.7 2111.1C1182.7 2125.3 1177.9 2130.3 1175.4 2141.2C1173.0 2152.0 1172.1 2164.1 1169.9 2176.1C1167.7 2188.1 1164.9 2201.1 1162.2 2213.0C1159.5 2224.9 1156.9 2236.0 1153.5 2247.7C1150.2 2259.4 1144.1 2277.3 1142.2 2283.2"/>
<path d="M192.6 2284.0C190.0 2279.9 183.4 2274.4 177.0 2259.4C170.6 2244.4 159.8 2217.6 154.2 2193.9C148.6 2170.2 144.0 2140.7 143.4 2117.0C142.7 2093.3 146.6 2070.8 150.3 2051.5C154.1 2032.2 159.3 2016.2 165.7 2001.4C172.1 1986.7 180.5 1973.7 188.8 1963.1C197.1 1952.5 204.8 1945.3 215.7 1937.9C226.7 1930.5 241.5 1923.2 254.3 1918.7C267.1 1914.2 279.9 1912.6 292.7 1911.0C305.5 1909.4 318.3 1909.1 331.2 1909.1C344.0 1909.1 356.9 1909.9 369.7 1911.0C382.5 1912.1 395.3 1913.9 408.1 1915.7C420.9 1917.4 433.8 1919.9 446.6 1921.7C459.5 1923.5 472.3 1925.0 485.2 1926.5C498.0 1927.9 510.8 1929.2 523.6 1930.3C536.4 1931.4 541.9 1931.9 562.2 1932.8C582.4 1933.7 613.8 1934.3 645.2 1935.8C676.6 1937.4 720.2 1940.6 750.6 1941.9C780.9 1943.2 801.9 1943.1 827.5 1943.7C853.2 1944.3 882.1 1943.7 904.5 1945.6C927.0 1947.6 946.2 1951.2 962.3 1955.3C978.3 1959.5 987.9 1963.6 1000.7 1970.7C1013.5 1977.7 1028.3 1987.3 1039.3 1997.6C1050.2 2007.9 1059.1 2020.1 1066.2 2032.3C1073.2 2044.5 1077.7 2056.7 1081.5 2070.8C1085.4 2084.9 1088.3 2101.0 1089.2 2117.0C1090.1 2133.0 1088.8 2151.9 1087.2 2166.9C1085.6 2182.0 1083.4 2193.9 1079.7 2207.3C1076.0 2220.8 1070.5 2234.9 1065.0 2247.7C1059.5 2260.5 1049.8 2277.9 1046.8 2284.0"/>
<path d="M193.9 2283.2C191.3 2279.1 184.8 2273.7 178.4 2258.8C172.0 2243.8 161.2 2217.2 155.7 2193.5C150.1 2169.9 145.5 2140.6 144.9 2116.9C144.3 2093.3 148.1 2070.9 151.8 2051.8C155.5 2032.6 160.7 2016.7 167.1 2002.0C173.4 1987.4 181.7 1974.5 190.0 1964.0C198.2 1953.5 205.8 1946.4 216.6 1939.1C227.4 1931.8 242.1 1924.6 254.8 1920.1C267.5 1915.7 280.2 1914.1 292.9 1912.5C305.6 1910.9 318.4 1910.6 331.2 1910.6C344.0 1910.6 356.8 1911.4 369.6 1912.5C382.4 1913.6 395.1 1915.4 407.9 1917.2C420.7 1918.9 433.5 1921.4 446.4 1923.2C459.3 1925.0 472.1 1926.5 485.0 1928.0C497.8 1929.4 510.6 1930.7 523.5 1931.8C536.3 1932.9 541.8 1933.4 562.1 1934.3C582.4 1935.3 613.7 1935.8 645.1 1937.4C676.5 1938.9 720.1 1942.1 750.5 1943.4C780.9 1944.7 801.9 1944.6 827.5 1945.2C853.2 1945.9 882.0 1945.2 904.4 1947.1C926.8 1949.1 945.9 1952.6 961.9 1956.8C977.8 1960.9 987.3 1965.0 1000.0 1972.0C1012.7 1979.0 1027.4 1988.5 1038.2 1998.7C1049.0 2008.9 1057.9 2021.0 1064.9 2033.1C1071.9 2045.2 1076.3 2057.2 1080.1 2071.2C1083.9 2085.2 1086.8 2101.1 1087.7 2117.1C1088.6 2133.0 1087.2 2151.8 1085.7 2166.8C1084.1 2181.8 1081.9 2193.5 1078.3 2206.9C1074.6 2220.3 1069.1 2234.3 1063.6 2247.1C1058.1 2259.8 1048.5 2277.3 1045.5 2283.3"/>
<path d="M191.6 2284.7C189.0 2280.5 182.3 2274.9 175.9 2259.9C169.4 2244.8 158.6 2218.0 153.0 2194.2C147.4 2170.4 142.8 2140.8 142.2 2117.0C141.5 2093.2 145.4 2070.6 149.2 2051.3C152.9 2031.9 158.1 2015.8 164.6 2001.0C171.0 1986.1 179.4 1973.0 187.8 1962.3C196.3 1951.7 204.0 1944.3 215.1 1936.9C226.1 1929.4 241.0 1922.1 253.9 1917.5C266.8 1913.0 279.7 1911.4 292.6 1909.8C305.5 1908.2 318.3 1907.9 331.2 1907.9C344.1 1907.9 357.0 1908.7 369.8 1909.8C382.7 1910.9 395.4 1912.7 408.2 1914.5C421.1 1916.2 433.9 1918.7 446.8 1920.5C459.6 1922.3 472.5 1923.8 485.3 1925.3C498.1 1926.7 510.9 1928.0 523.7 1929.1C536.5 1930.1 542.0 1930.7 562.2 1931.6C582.5 1932.5 613.9 1933.1 645.3 1934.6C676.7 1936.1 720.2 1939.4 750.6 1940.7C781.0 1942.0 801.9 1941.9 827.6 1942.5C853.2 1943.1 882.1 1942.5 904.6 1944.4C927.1 1946.4 946.5 1950.0 962.6 1954.2C978.7 1958.3 988.4 1962.5 1001.3 1969.6C1014.2 1976.7 1029.1 1986.4 1040.1 1996.7C1051.1 2007.1 1060.1 2019.4 1067.2 2031.7C1074.3 2044.0 1078.8 2056.3 1082.7 2070.5C1086.6 2084.7 1089.5 2100.8 1090.4 2116.9C1091.4 2133.0 1090.0 2151.9 1088.4 2167.1C1086.8 2182.2 1084.6 2194.1 1080.9 2207.6C1077.2 2221.1 1071.6 2235.3 1066.1 2248.2C1060.6 2261.0 1050.9 2278.5 1047.9 2284.5"/>
<path d="M645.2 1937.9C662.8 1939.2 720.2 1944.2 750.6 1945.9C780.9 1947.7 801.9 1947.2 827.5 1948.5C853.2 1949.7 882.1 1950.0 904.5 1953.4C927.0 1956.8 946.1 1962.7 962.1 1968.7C978.0 1974.8 987.5 1980.6 1000.4 1989.9C1013.3 1999.3 1028.9 2011.8 1039.3 2024.7C1049.6 2037.5 1056.8 2051.5 1062.3 2066.9C1067.7 2082.3 1070.3 2100.3 1071.9 2117.0C1073.6 2133.7 1072.9 2151.9 1071.9 2166.9C1071.0 2182.0 1067.0 2200.6 1066.0 2207.3"/>
<path d="M319.7 2284.0C316.5 2275.4 306.2 2250.7 300.4 2232.4C294.6 2214.2 288.2 2190.8 285.0 2174.7C281.8 2158.7 280.6 2147.7 281.2 2136.2C281.9 2124.6 284.4 2115.0 288.9 2105.4C293.4 2095.8 299.8 2086.1 308.2 2078.4C316.5 2070.7 328.7 2064.0 338.9 2059.2C349.2 2054.4 358.2 2052.3 369.7 2049.6C381.2 2046.9 395.3 2044.5 408.1 2043.0C420.9 2041.6 433.8 2041.0 446.6 2040.8C459.5 2040.6 465.9 2041.4 485.2 2041.8C504.4 2042.2 535.5 2042.5 562.2 2043.0C588.8 2043.5 623.5 2043.9 645.2 2044.6C666.9 2045.4 675.1 2045.9 692.6 2047.7C710.2 2049.4 731.3 2051.8 750.6 2055.3C769.8 2058.9 792.2 2064.4 808.3 2068.9C824.3 2073.3 834.0 2076.8 846.8 2082.2C859.6 2087.6 874.4 2094.3 885.3 2101.3C896.2 2108.4 904.5 2115.5 912.2 2124.6C919.9 2133.6 926.7 2143.9 931.5 2155.4C936.3 2167.0 939.8 2181.1 941.1 2193.9C942.4 2206.7 941.3 2220.9 939.2 2232.4C937.2 2244.0 932.4 2254.6 928.8 2263.2C925.2 2271.8 919.5 2280.5 917.7 2284.0"/>
<path d="M322.7 2282.9C319.5 2274.3 309.2 2249.6 303.5 2231.5C297.7 2213.3 291.3 2189.9 288.1 2174.1C285.0 2158.2 283.8 2147.6 284.4 2136.3C285.1 2125.1 287.5 2116.0 291.8 2106.7C296.1 2097.5 302.3 2088.3 310.4 2080.8C318.4 2073.4 330.3 2066.8 340.3 2062.1C350.3 2057.4 359.1 2055.4 370.5 2052.7C381.8 2050.1 395.7 2047.7 408.4 2046.2C421.1 2044.8 433.9 2044.2 446.7 2044.0C459.4 2043.8 465.9 2044.7 485.1 2045.0C504.3 2045.4 535.4 2045.8 562.1 2046.2C588.8 2046.7 623.4 2047.1 645.1 2047.9C666.8 2048.6 674.8 2049.1 692.3 2050.9C709.8 2052.6 730.8 2055.0 750.0 2058.5C769.2 2062.0 791.5 2067.5 807.4 2072.0C823.3 2076.4 832.9 2079.8 845.6 2085.1C858.2 2090.5 872.8 2097.1 883.5 2104.1C894.2 2111.0 902.3 2117.9 909.8 2126.7C917.2 2135.4 923.8 2145.4 928.5 2156.7C933.2 2167.9 936.6 2181.7 937.9 2194.2C939.1 2206.7 938.1 2220.6 936.1 2231.9C934.1 2243.2 929.3 2253.5 925.8 2262.0C922.2 2270.4 916.6 2279.1 914.8 2282.5"/>
<path d="M325.7 2281.7C322.5 2273.2 312.3 2248.5 306.6 2230.5C300.8 2212.4 294.4 2189.1 291.3 2173.5C288.1 2157.8 287.1 2147.4 287.7 2136.5C288.2 2125.6 290.6 2117.0 294.7 2108.1C298.9 2099.2 304.7 2090.4 312.5 2083.2C320.4 2076.0 331.9 2069.6 341.7 2065.0C351.5 2060.5 360.0 2058.5 371.2 2055.9C382.4 2053.3 396.2 2050.9 408.8 2049.4C421.4 2048.0 434.0 2047.5 446.7 2047.3C459.4 2047.1 465.8 2047.9 485.0 2048.3C504.3 2048.6 535.4 2049.0 562.0 2049.5C588.7 2049.9 623.3 2050.3 645.0 2051.1C666.6 2051.9 674.6 2052.3 692.0 2054.1C709.4 2055.9 730.3 2058.2 749.4 2061.7C768.5 2065.2 790.7 2070.7 806.5 2075.1C822.4 2079.5 831.8 2082.8 844.3 2088.1C856.8 2093.4 871.3 2100.0 881.8 2106.8C892.2 2113.5 900.0 2120.2 907.3 2128.8C914.6 2137.3 921.0 2147.0 925.5 2157.9C930.1 2168.9 933.4 2182.3 934.6 2194.5C935.9 2206.8 934.9 2220.3 932.9 2231.3C930.9 2242.3 926.3 2252.4 922.8 2260.7C919.3 2269.0 913.8 2277.6 912.0 2281.0"/>
<path d="M317.6 2284.8C314.4 2276.2 304.1 2251.4 298.3 2233.1C292.5 2214.8 286.0 2191.3 282.8 2175.1C279.6 2159.0 278.3 2147.8 279.0 2136.0C279.7 2124.3 282.3 2114.3 286.9 2104.4C291.5 2094.6 298.1 2084.7 306.7 2076.8C315.2 2068.9 327.6 2062.1 338.0 2057.2C348.4 2052.3 357.6 2050.1 369.2 2047.4C380.9 2044.7 394.9 2042.3 407.8 2040.8C420.7 2039.3 433.7 2038.8 446.6 2038.6C459.5 2038.4 465.9 2039.2 485.2 2039.6C504.5 2040.0 535.5 2040.3 562.2 2040.8C588.9 2041.3 623.5 2041.6 645.3 2042.4C667.1 2043.2 675.2 2043.7 692.9 2045.5C710.5 2047.2 731.6 2049.6 751.0 2053.1C770.3 2056.7 792.7 2062.2 808.9 2066.7C825.0 2071.2 834.7 2074.7 847.7 2080.1C860.6 2085.6 875.4 2092.3 886.5 2099.5C897.5 2106.6 906.1 2113.9 913.9 2123.1C921.7 2132.3 928.6 2142.8 933.5 2154.6C938.4 2166.3 942.0 2180.6 943.3 2193.7C944.6 2206.7 943.5 2221.1 941.4 2232.8C939.4 2244.6 934.4 2255.4 930.8 2264.1C927.2 2272.8 921.5 2281.6 919.6 2285.0"/>
<path d="M372.1 2059.9C378.3 2058.8 396.8 2055.0 409.3 2053.5C421.7 2052.1 434.2 2051.6 446.8 2051.4C459.4 2051.2 465.8 2052.0 485.0 2052.4C504.2 2052.8 549.1 2053.4 562.0 2053.6"/>
<path d="M446.6 2284.0C444.4 2280.2 437.4 2269.1 433.2 2261.4C429.0 2253.7 424.1 2246.0 421.6 2237.9C419.0 2229.9 416.8 2221.1 417.8 2213.0C418.9 2204.9 423.3 2196.4 427.9 2189.4C432.6 2182.3 439.2 2176.3 445.7 2170.6C452.2 2164.9 459.3 2159.3 466.9 2155.1C474.4 2150.8 483.0 2148.1 491.2 2145.3C499.5 2142.4 507.8 2140.0 516.3 2138.0C524.8 2136.1 533.6 2135.0 542.2 2133.7C550.9 2132.4 559.5 2130.9 568.2 2130.2C576.9 2129.5 585.7 2129.5 594.4 2129.3C603.2 2129.1 611.9 2128.8 620.7 2129.2C629.4 2129.7 638.1 2131.1 646.8 2132.1C655.5 2133.1 664.2 2134.1 672.8 2135.4C681.5 2136.8 690.2 2137.9 698.7 2140.0C707.2 2142.0 715.5 2144.7 723.7 2147.6C731.9 2150.5 740.1 2153.7 748.0 2157.5C755.9 2161.2 764.0 2165.0 771.0 2170.0C778.0 2175.1 785.0 2181.2 790.3 2187.9C795.5 2194.6 800.1 2202.3 802.6 2210.3C805.1 2218.3 805.8 2227.4 805.3 2235.9C804.7 2244.4 800.2 2256.9 799.2 2261.1"/>
<path d="M452.4 2284.0C450.3 2280.4 443.6 2269.6 439.7 2262.2C435.7 2254.8 431.2 2247.3 428.8 2239.5C426.3 2231.7 424.1 2223.3 425.1 2215.5C426.2 2207.7 430.4 2199.5 434.9 2192.7C439.3 2185.9 445.6 2180.1 451.9 2174.6C458.1 2169.2 465.0 2163.9 472.3 2159.9C479.6 2155.9 487.8 2153.2 495.7 2150.4C503.7 2147.7 511.7 2145.3 519.9 2143.4C528.0 2141.5 536.4 2140.4 544.7 2139.1C553.0 2137.8 561.3 2136.5 569.7 2135.7C578.1 2135.0 586.5 2134.9 594.9 2134.7C603.4 2134.5 611.8 2134.0 620.1 2134.5C628.5 2134.9 636.9 2136.2 645.2 2137.2C653.6 2138.2 662.0 2139.2 670.3 2140.5C678.6 2141.7 687.0 2143.0 695.1 2145.0C703.3 2147.0 711.3 2149.5 719.2 2152.4C727.1 2155.2 735.0 2158.3 742.5 2161.9C750.1 2165.5 757.8 2169.2 764.6 2174.1C771.3 2179.0 777.9 2184.9 782.9 2191.4C787.9 2197.9 792.1 2205.3 794.5 2213.1C796.8 2220.8 797.6 2229.6 797.0 2237.7C796.4 2245.8 793.9 2254.2 790.8 2261.9C787.8 2269.6 780.8 2280.3 778.8 2284.0"/>
<path d="M458.1 2284.0C456.1 2280.5 449.8 2270.1 446.1 2263.0C442.4 2255.8 438.2 2248.6 435.9 2241.1C433.7 2233.6 431.5 2225.4 432.5 2217.9C433.5 2210.4 437.6 2202.6 441.8 2196.1C446.1 2189.5 452.0 2183.9 458.0 2178.7C464.0 2173.4 470.8 2168.6 477.8 2164.7C484.8 2160.9 492.6 2158.2 500.2 2155.6C507.8 2152.9 515.6 2150.7 523.4 2148.8C531.2 2147.0 539.2 2145.7 547.2 2144.4C555.2 2143.2 563.2 2142.0 571.2 2141.3C579.3 2140.5 587.4 2140.4 595.4 2140.1C603.5 2139.9 611.6 2139.3 619.6 2139.7C627.7 2140.1 635.7 2141.4 643.7 2142.4C651.8 2143.4 659.8 2144.2 667.8 2145.5C675.7 2146.7 683.7 2148.0 691.6 2150.0C699.4 2151.9 707.1 2154.4 714.7 2157.1C722.3 2159.8 729.8 2162.9 737.0 2166.4C744.3 2169.9 751.7 2173.4 758.1 2178.1C764.5 2182.9 770.9 2188.7 775.6 2194.9C780.3 2201.2 784.2 2208.4 786.4 2215.8C788.6 2223.2 789.4 2231.7 788.7 2239.5C788.1 2247.3 785.4 2255.3 782.5 2262.7C779.6 2270.1 773.0 2280.4 771.2 2284.0"/>
<path d="M464.1 2284.0C462.2 2280.6 456.3 2270.7 452.8 2263.8C449.4 2256.9 445.6 2249.9 443.4 2242.7C441.3 2235.5 439.2 2227.7 440.1 2220.5C441.1 2213.3 445.0 2205.8 449.1 2199.5C453.1 2193.3 458.7 2187.8 464.4 2182.9C470.2 2177.9 476.8 2173.4 483.5 2169.8C490.3 2166.1 497.7 2163.5 504.9 2160.9C512.2 2158.4 519.6 2156.3 527.1 2154.4C534.6 2152.6 542.2 2151.2 549.8 2150.0C557.5 2148.8 565.1 2147.7 572.8 2147.0C580.5 2146.3 588.2 2146.1 596.0 2145.8C603.7 2145.4 611.4 2144.8 619.1 2145.1C626.8 2145.5 634.5 2146.8 642.1 2147.8C649.8 2148.7 657.5 2149.4 665.1 2150.7C672.8 2151.9 680.4 2153.3 687.9 2155.2C695.3 2157.1 702.7 2159.4 710.0 2162.0C717.2 2164.7 724.4 2167.6 731.3 2171.0C738.2 2174.4 745.3 2177.7 751.4 2182.3C757.5 2186.9 763.5 2192.6 767.9 2198.6C772.3 2204.7 775.9 2211.5 777.9 2218.7C779.9 2225.8 780.8 2233.9 780.1 2241.4C779.4 2248.9 776.6 2256.4 773.8 2263.5C771.0 2270.6 764.9 2280.6 763.2 2284.0"/>
<path d="M470.1 2284.0C468.4 2280.8 462.7 2271.2 459.5 2264.6C456.3 2258.0 452.9 2251.3 450.9 2244.4C449.0 2237.4 446.9 2229.9 447.8 2223.0C448.7 2216.1 452.5 2209.0 456.3 2203.0C460.1 2197.0 465.4 2191.8 470.9 2187.1C476.4 2182.4 482.8 2178.3 489.2 2174.8C495.7 2171.4 502.7 2168.7 509.6 2166.3C516.5 2163.8 523.7 2161.9 530.8 2160.1C537.9 2158.3 545.2 2156.8 552.4 2155.6C559.7 2154.4 567.1 2153.5 574.4 2152.8C581.7 2152.1 589.1 2151.8 596.5 2151.4C603.8 2151.0 611.2 2150.3 618.6 2150.6C625.9 2150.9 633.2 2152.2 640.6 2153.1C647.9 2154.0 655.3 2154.7 662.5 2155.9C669.8 2157.1 677.0 2158.6 684.2 2160.4C691.3 2162.3 698.4 2164.4 705.3 2167.0C712.2 2169.5 719.0 2172.4 725.6 2175.6C732.2 2178.9 738.9 2182.1 744.7 2186.5C750.5 2191.0 756.1 2196.5 760.2 2202.3C764.3 2208.1 767.5 2214.7 769.4 2221.5C771.3 2228.4 772.2 2236.2 771.4 2243.3C770.7 2250.4 767.8 2257.5 765.1 2264.3C762.4 2271.1 756.8 2280.7 755.2 2284.0"/>
<path d="M475.6 2284.0C474.0 2280.9 468.7 2271.7 465.7 2265.3C462.7 2259.0 459.6 2252.5 457.8 2245.9C456.0 2239.2 453.9 2232.0 454.8 2225.3C455.7 2218.7 459.3 2212.0 462.9 2206.2C466.6 2200.5 471.5 2195.4 476.8 2191.0C482.0 2186.5 488.3 2182.7 494.5 2179.4C500.7 2176.2 507.3 2173.6 513.9 2171.2C520.5 2168.8 527.4 2167.0 534.2 2165.2C541.0 2163.5 547.9 2161.9 554.8 2160.7C561.8 2159.5 568.8 2158.8 575.8 2158.1C582.9 2157.4 589.9 2157.0 597.0 2156.6C604.0 2156.2 611.0 2155.3 618.1 2155.6C625.1 2155.8 632.1 2157.2 639.1 2158.0C646.1 2158.9 653.2 2159.5 660.1 2160.7C667.1 2161.9 673.9 2163.4 680.8 2165.2C687.6 2167.0 694.4 2169.1 701.0 2171.5C707.6 2173.9 714.1 2176.7 720.4 2179.9C726.6 2183.0 733.1 2186.1 738.5 2190.4C744.0 2194.7 749.3 2200.0 753.2 2205.7C757.0 2211.3 759.9 2217.6 761.7 2224.2C763.4 2230.7 764.3 2238.2 763.5 2245.0C762.8 2251.8 759.7 2258.5 757.1 2265.0C754.5 2271.5 749.4 2280.8 747.8 2284.0"/>
<path d="M480.1 2284.0C478.6 2281.0 473.5 2272.1 470.8 2265.9C468.0 2259.8 465.1 2253.5 463.4 2247.1C461.7 2240.7 459.7 2233.6 460.5 2227.3C461.4 2220.9 464.9 2214.4 468.4 2208.8C471.9 2203.3 476.5 2198.4 481.6 2194.1C486.6 2189.9 492.8 2186.4 498.8 2183.2C504.7 2180.1 511.1 2177.5 517.4 2175.2C523.8 2172.9 530.4 2171.2 537.0 2169.5C543.5 2167.7 550.1 2166.1 556.8 2164.9C563.5 2163.7 570.3 2163.1 577.0 2162.4C583.8 2161.7 590.6 2161.3 597.3 2160.8C604.1 2160.4 610.9 2159.5 617.7 2159.7C624.4 2159.9 631.2 2161.2 637.9 2162.1C644.7 2162.9 651.5 2163.5 658.1 2164.6C664.8 2165.8 671.4 2167.4 678.0 2169.1C684.5 2170.9 691.1 2172.8 697.4 2175.2C703.8 2177.6 710.1 2180.3 716.1 2183.4C722.1 2186.4 728.3 2189.4 733.5 2193.6C738.7 2197.7 743.8 2203.0 747.4 2208.4C751.0 2213.9 753.7 2220.0 755.3 2226.3C756.9 2232.7 757.8 2239.9 757.0 2246.5C756.3 2253.0 753.1 2259.4 750.6 2265.6C748.0 2271.9 743.3 2280.9 741.9 2284.0"/>
<path d="M484.2 2284.0C482.7 2281.1 477.9 2272.4 475.2 2266.5C472.6 2260.5 470.0 2254.4 468.4 2248.2C466.8 2241.9 464.9 2235.1 465.6 2229.0C466.4 2222.8 469.8 2216.5 473.2 2211.2C476.6 2205.8 481.0 2201.0 485.9 2196.9C490.7 2192.8 496.8 2189.6 502.6 2186.6C508.4 2183.6 514.4 2181.0 520.6 2178.8C526.7 2176.6 533.1 2174.9 539.4 2173.2C545.7 2171.5 552.1 2169.8 558.5 2168.6C565.0 2167.5 571.6 2166.9 578.1 2166.3C584.6 2165.6 591.2 2165.1 597.7 2164.6C604.2 2164.1 610.8 2163.1 617.3 2163.3C623.8 2163.5 630.3 2164.8 636.8 2165.7C643.4 2166.5 649.9 2167.0 656.4 2168.1C662.8 2169.3 669.2 2170.9 675.5 2172.6C681.8 2174.4 688.2 2176.2 694.3 2178.5C700.4 2180.8 706.5 2183.5 712.3 2186.5C718.1 2189.4 724.0 2192.3 729.0 2196.4C734.0 2200.4 738.8 2205.6 742.3 2210.9C745.7 2216.2 748.2 2222.1 749.7 2228.2C751.2 2234.4 752.1 2241.4 751.3 2247.7C750.5 2254.0 747.2 2260.1 744.7 2266.2C742.3 2272.2 737.9 2281.0 736.5 2284.0"/>
<path d="M487.7 2284.0C486.2 2281.2 481.6 2272.7 479.2 2266.9C476.7 2261.1 474.3 2255.2 472.8 2249.2C471.3 2243.1 469.3 2236.4 470.1 2230.5C470.9 2224.5 474.2 2218.4 477.4 2213.2C480.7 2208.0 484.9 2203.3 489.6 2199.4C494.3 2195.5 500.3 2192.5 505.9 2189.5C511.5 2186.6 517.4 2184.1 523.3 2181.9C529.3 2179.7 535.5 2178.2 541.6 2176.5C547.7 2174.8 553.8 2173.0 560.1 2171.9C566.3 2170.7 572.7 2170.3 579.0 2169.6C585.3 2169.0 591.7 2168.4 598.0 2167.9C604.3 2167.3 610.7 2166.3 617.0 2166.5C623.3 2166.6 629.6 2168.0 635.9 2168.8C642.2 2169.6 648.6 2170.0 654.9 2171.2C661.1 2172.3 667.2 2174.0 673.3 2175.7C679.5 2177.4 685.6 2179.1 691.5 2181.4C697.5 2183.6 703.3 2186.3 708.9 2189.2C714.5 2192.1 720.3 2194.8 725.1 2198.8C729.9 2202.8 734.5 2207.8 737.8 2213.0C741.1 2218.2 743.3 2223.9 744.7 2229.9C746.1 2235.9 747.1 2242.7 746.2 2248.8C745.4 2254.9 742.1 2260.8 739.7 2266.6C737.3 2272.5 733.2 2281.1 731.9 2284.0"/>
<path d="M490.7 2284.0C489.3 2281.2 484.9 2273.0 482.5 2267.3C480.2 2261.7 478.0 2255.9 476.6 2250.0C475.1 2244.0 473.2 2237.6 473.9 2231.7C474.7 2225.9 477.9 2220.0 481.1 2214.9C484.2 2209.9 488.2 2205.3 492.8 2201.5C497.4 2197.7 503.3 2194.9 508.8 2192.1C514.2 2189.3 519.9 2186.7 525.7 2184.6C531.4 2182.5 537.5 2181.0 543.4 2179.3C549.4 2177.7 555.3 2175.8 561.4 2174.7C567.4 2173.5 573.6 2173.2 579.8 2172.5C585.9 2171.9 592.1 2171.2 598.2 2170.7C604.4 2170.1 610.6 2169.1 616.7 2169.2C622.9 2169.3 629.0 2170.7 635.1 2171.5C641.3 2172.2 647.5 2172.6 653.5 2173.8C659.6 2174.9 665.5 2176.6 671.5 2178.3C677.4 2180.0 683.4 2181.7 689.2 2183.9C694.9 2186.1 700.7 2188.6 706.1 2191.5C711.5 2194.3 717.1 2197.0 721.7 2200.9C726.4 2204.8 730.8 2209.8 734.0 2214.9C737.1 2219.9 739.1 2225.5 740.5 2231.3C741.8 2237.1 742.8 2243.8 741.9 2249.8C741.1 2255.7 737.7 2261.3 735.3 2267.0C733.0 2272.7 729.1 2281.2 727.9 2284.0"/>
<path d="M493.7 2284.0C492.4 2281.3 488.1 2273.3 485.9 2267.7C483.7 2262.2 481.7 2256.6 480.3 2250.8C479.0 2245.0 477.0 2238.7 477.8 2233.0C478.5 2227.3 481.6 2221.6 484.7 2216.7C487.7 2211.8 491.5 2207.3 496.0 2203.6C500.5 2199.9 506.3 2197.3 511.6 2194.6C517.0 2191.9 522.4 2189.4 528.0 2187.3C533.6 2185.2 539.5 2183.8 545.3 2182.1C551.1 2180.5 556.8 2178.6 562.7 2177.5C568.5 2176.3 574.6 2176.1 580.6 2175.4C586.6 2174.8 592.5 2174.1 598.5 2173.5C604.5 2172.9 610.5 2171.8 616.4 2171.9C622.4 2172.0 628.4 2173.4 634.3 2174.2C640.3 2174.9 646.3 2175.3 652.2 2176.4C658.1 2177.5 663.9 2179.2 669.6 2180.9C675.4 2182.6 681.2 2184.2 686.8 2186.3C692.4 2188.5 698.0 2191.0 703.2 2193.8C708.5 2196.6 713.9 2199.2 718.4 2203.0C722.9 2206.8 727.2 2211.7 730.1 2216.7C733.1 2221.6 735.0 2227.1 736.2 2232.8C737.5 2238.4 738.5 2244.9 737.6 2250.7C736.7 2256.5 733.2 2261.9 731.0 2267.4C728.7 2273.0 725.1 2281.2 723.9 2284.0"/>
<path d="M496.7 2284.0C495.4 2281.4 491.4 2273.5 489.3 2268.1C487.2 2262.7 485.3 2257.3 484.1 2251.6C482.8 2246.0 480.9 2239.8 481.6 2234.3C482.3 2228.7 485.4 2223.2 488.3 2218.4C491.2 2213.7 494.9 2209.3 499.2 2205.7C503.6 2202.2 509.3 2199.7 514.5 2197.1C519.7 2194.5 524.9 2192.0 530.3 2190.0C535.8 2187.9 541.5 2186.6 547.1 2185.0C552.7 2183.3 558.3 2181.4 564.0 2180.3C569.7 2179.2 575.6 2179.0 581.4 2178.3C587.2 2177.6 593.0 2176.9 598.8 2176.3C604.6 2175.7 610.4 2174.6 616.2 2174.7C622.0 2174.7 627.7 2176.1 633.5 2176.8C639.3 2177.6 645.2 2177.9 650.9 2179.0C656.6 2180.1 662.2 2181.9 667.8 2183.5C673.4 2185.1 679.0 2186.7 684.5 2188.8C689.9 2190.9 695.3 2193.4 700.4 2196.1C705.5 2198.8 710.7 2201.4 715.0 2205.1C719.3 2208.9 723.5 2213.7 726.3 2218.5C729.1 2223.4 730.8 2228.7 732.0 2234.2C733.2 2239.7 734.2 2246.1 733.3 2251.7C732.4 2257.3 728.8 2262.4 726.6 2267.8C724.4 2273.2 721.0 2281.3 719.9 2284.0"/>
</g>
<path d="M5 0L-4 -3.9L-4 3.9Z" fill="#000" transform="translate(677.5 1378.2) rotate(180)"/>
<path d="M5 0L-4 -3.9L-4 3.9Z" fill="#000" transform="translate(950.7 1426.2) rotate(-142)"/>
<path d="M5 0L-4 -3.9L-4 3.9Z" fill="#000" transform="translate(1103.8 1861.0) rotate(-135)"/>
<path d="M5 0L-4 -3.9L-4 3.9Z" fill="#000" transform="translate(479.4 2278.6) rotate(60)"/>
</g>
<rect x="100.6" y="1225.3" width="1077.5" height="1058.3" fill="none" stroke="#b8b8b8" stroke-width="2"/>
<rect x="1234.2" y="16.9" width="51.8" height="1048.7" fill="url(#bwr)" stroke="#cfcfcf" stroke-width="1.2"/>
<line x1="1286.3" y1="16.9" x2="1297.5" y2="16.9" stroke="#111" stroke-width="2"/>
<text x="1306.5" y="24.3" font-size="22" fill="#111">0.100</text>
<line x1="1286.3" y1="148.0" x2="1297.5" y2="148.0" stroke="#111" stroke-width="2"/>
<text x="1306.5" y="155.4" font-size="22" fill="#111">0.075</text>
<line x1="1286.3" y1="279.1" x2="1297.5" y2="279.1" stroke="#111" stroke-width="2"/>
<text x="1306.5" y="286.5" font-size="22" fill="#111">0.050</text>
<line x1="1286.3" y1="410.2" x2="1297.5" y2="410.2" stroke="#111" stroke-width="2"/>
<text x="1306.5" y="417.6" font-size="22" fill="#111">0.025</text>
<line x1="1286.3" y1="541.2" x2="1297.5" y2="541.2" stroke="#111" stroke-width="2"/>
<text x="1306.5" y="548.6" font-size="22" fill="#111">0.000</text>
<line x1="1286.3" y1="672.3" x2="1297.5" y2="672.3" stroke="#111" stroke-width="2"/>
<text x="1306.5" y="679.7" font-size="22" fill="#111">−0.025</text>
<line x1="1286.3" y1="803.4" x2="1297.5" y2="803.4" stroke="#111" stroke-width="2"/>
<text x="1306.5" y="810.8" font-size="22" fill="#111">−0.050</text>
<line x1="1286.3" y1="934.5" x2="1297.5" y2="934.5" stroke="#111" stroke-width="2"/>
<text x="1306.5" y="941.9" font-size="22" fill="#111">−0.075</text>
<line x1="1286.3" y1="1065.6" x2="1297.5" y2="1065.6" stroke="#111" stroke-width="2"/>
<text x="1306.5" y="1073.0" font-size="22" fill="#111">−0.100</text>
<text transform="translate(1388.8 543.0) rotate(90)" font-size="24.6" fill="#111" text-anchor="middle">Strain rate in 1/s</text>
<rect x="1245.0" y="1225.3" width="51.6" height="1058.3" fill="url(#bwr)" stroke="#cfcfcf" stroke-width="1.2"/>
<line x1="1296.9" y1="1225.3" x2="1308.1" y2="1225.3" stroke="#111" stroke-width="2"/>
<text x="1317.1" y="1232.7" font-size="22" fill="#111">0.20</text>
<line x1="1296.9" y1="1357.6" x2="1308.1" y2="1357.6" stroke="#111" stroke-width="2"/>
<text x="1317.1" y="1365.0" font-size="22" fill="#111">0.15</text>
<line x1="1296.9" y1="1489.9" x2="1308.1" y2="1489.9" stroke="#111" stroke-width="2"/>
<text x="1317.1" y="1497.3" font-size="22" fill="#111">0.10</text>
<line x1="1296.9" y1="1622.2" x2="1308.1" y2="1622.2" stroke="#111" stroke-width="2"/>
<text x="1317.1" y="1629.6" font-size="22" fill="#111">0.05</text>
<line x1="1296.9" y1="1754.4" x2="1308.1" y2="1754.4" stroke="#111" stroke-width="2"/>
<text x="1317.1" y="1761.8" font-size="22" fill="#111">0.00</text>
<line x1="1296.9" y1="1886.7" x2="1308.1" y2="1886.7" stroke="#111" stroke-width="2"/>
<text x="1317.1" y="1894.1" font-size="22" fill="#111">−0.05</text>
<line x1="1296.9" y1="2019.0" x2="1308.1" y2="2019.0" stroke="#111" stroke-width="2"/>
<text x="1317.1" y="2026.4" font-size="22" fill="#111">−0.10</text>
<line x1="1296.9" y1="2151.3" x2="1308.1" y2="2151.3" stroke="#111" stroke-width="2"/>
<text x="1317.1" y="2158.7" font-size="22" fill="#111">−0.15</text>
<line x1="1296.9" y1="2283.6" x2="1308.1" y2="2283.6" stroke="#111" stroke-width="2"/>
<text x="1317.1" y="2291.0" font-size="22" fill="#111">−0.20</text>
<text transform="translate(1399.4 1754.0) rotate(90)" font-size="24.6" fill="#111" text-anchor="middle">Shear rate in 1/s</text>
<g font-size="22" fill="#111">
<text x="178.3" y="1102.3" text-anchor="middle">80</text>
<text x="179.3" y="2320.6" text-anchor="middle">80</text>
<text x="336.6" y="1102.3" text-anchor="middle">100</text>
<text x="339.0" y="2320.6" text-anchor="middle">100</text>
<text x="494.8" y="1102.3" text-anchor="middle">120</text>
<text x="498.7" y="2320.6" text-anchor="middle">120</text>
<text x="653.1" y="1102.3" text-anchor="middle">140</text>
<text x="658.4" y="2320.6" text-anchor="middle">140</text>
<text x="811.4" y="1102.3" text-anchor="middle">160</text>
<text x="818.1" y="2320.6" text-anchor="middle">160</text>
<text x="969.7" y="1102.3" text-anchor="middle">180</text>
<text x="977.8" y="2320.6" text-anchor="middle">180</text>
<text x="1127.9" y="1102.3" text-anchor="middle">200</text>
<text x="1137.6" y="2320.6" text-anchor="middle">200</text>
<text x="79.5" y="24.3" text-anchor="end">240</text>
<text x="79.5" y="1232.7" text-anchor="end">240</text>
<text x="79.5" y="174.1" text-anchor="end">220</text>
<text x="79.5" y="1383.9" text-anchor="end">220</text>
<text x="79.5" y="323.9" text-anchor="end">200</text>
<text x="79.5" y="1535.1" text-anchor="end">200</text>
<text x="79.5" y="473.7" text-anchor="end">180</text>
<text x="79.5" y="1686.3" text-anchor="end">180</text>
<text x="79.5" y="623.6" text-anchor="end">160</text>
<text x="79.5" y="1837.4" text-anchor="end">160</text>
<text x="79.5" y="773.4" text-anchor="end">140</text>
<text x="79.5" y="1988.6" text-anchor="end">140</text>
<text x="79.5" y="923.2" text-anchor="end">120</text>
<text x="79.5" y="2139.8" text-anchor="end">120</text>
<text x="79.5" y="1073.0" text-anchor="end">100</text>
<text x="79.5" y="2291.0" text-anchor="end">100</text>
</g>
<g font-size="24.6" fill="#111" text-anchor="middle">
<text x="633" y="1132.6">x-coordinate</text>
<text x="638.3" y="2351">x-coordinate</text>
<text transform="translate(28.8 543.8) rotate(-90)">y-coordinate</text>
<text transform="translate(28.8 1757) rotate(-90)">y-coordinate</text>
</g>
</svg>
</body></html>
